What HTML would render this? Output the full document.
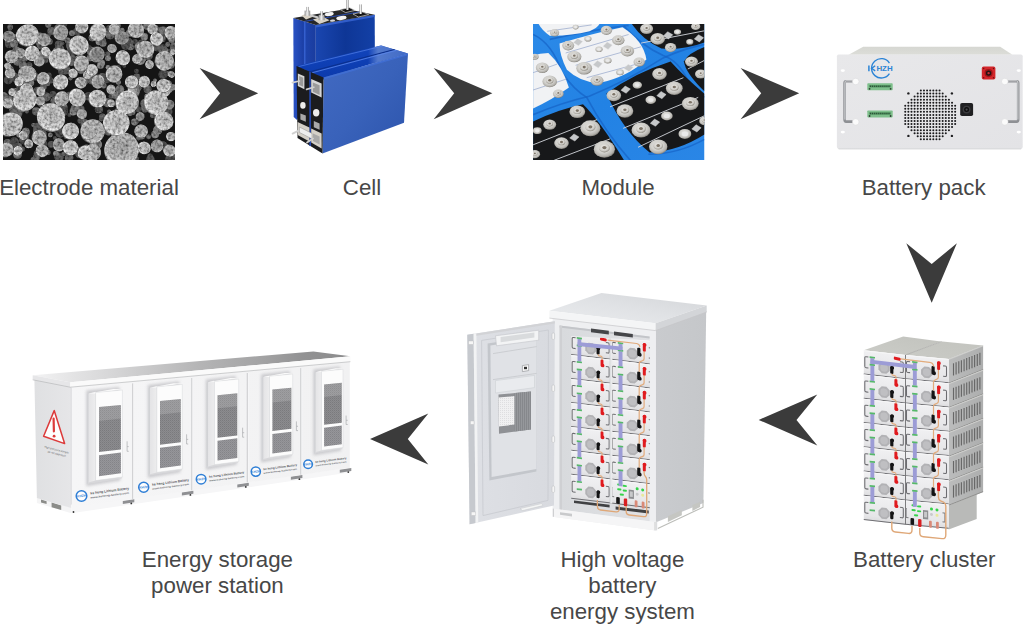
<!DOCTYPE html>
<html lang="en"><head><meta charset="utf-8"><title>Battery energy storage chain</title>
<style>
html,body{margin:0;padding:0;background:#fff;}
body{width:1024px;height:624px;position:relative;overflow:hidden;font-family:"Liberation Sans",sans-serif;}
#art{position:absolute;left:0;top:0;width:1024px;height:624px;display:block;}
.lb{position:absolute;font-size:22.3px;line-height:26px;color:#474747;text-align:center;white-space:nowrap;transform:translateX(-50%);}
</style></head><body>
<svg id="art" width="1024" height="624" viewBox="0 0 1024 624">
<defs>
<clipPath id="cabclip"><path d="M570.6,336 L649.8,340.6 L649.8,522 L570.6,512 Z"/></clipPath>
<linearGradient id="cabSide" x1="0" y1="0" x2="1" y2="0"><stop offset="0" stop-color="#c9cbce"/><stop offset="1" stop-color="#c5c7ca"/></linearGradient>
<linearGradient id="cabIn" x1="0" y1="0" x2="1" y2="0"><stop offset="0" stop-color="#d8dadd"/><stop offset="1" stop-color="#e0e1e4"/></linearGradient>
<linearGradient id="cabTop" x1="0" y1="1" x2="1" y2="0"><stop offset="0" stop-color="#ebedef"/><stop offset="0.5" stop-color="#e0e2e5"/><stop offset="1" stop-color="#d3d5d8"/></linearGradient>
<linearGradient id="cabDoor" x1="0" y1="0" x2="1" y2="0"><stop offset="0" stop-color="#dee0e5"/><stop offset="1" stop-color="#d8dadf"/></linearGradient>
<pattern id="meshL" width="2" height="2" patternUnits="userSpaceOnUse"><rect width="2" height="2" fill="#f0f0f1"/><rect width="1" height="1" fill="#dedee0"/></pattern>
<pattern id="meshD" width="2" height="2" patternUnits="userSpaceOnUse"><rect width="2" height="2" fill="#96989c"/><rect width="1" height="2" fill="#86888c"/></pattern>
<linearGradient id="cellFace" x1="0" y1="0" x2="1" y2="1"><stop offset="0" stop-color="#426ac2"/><stop offset="0.5" stop-color="#3962ba"/><stop offset="1" stop-color="#2c54ac"/></linearGradient>
<linearGradient id="cellBack" x1="0" y1="0" x2="1" y2="0"><stop offset="0" stop-color="#1a46b0"/><stop offset="0.5" stop-color="#0e3696"/><stop offset="1" stop-color="#1340a6"/></linearGradient>
<linearGradient id="cellSide" x1="0" y1="0" x2="1" y2="0"><stop offset="0" stop-color="#2a52c4"/><stop offset="0.45" stop-color="#1b3fa6"/><stop offset="0.5" stop-color="#3560d0"/><stop offset="0.58" stop-color="#1d43ac"/><stop offset="1" stop-color="#1a3c9e"/></linearGradient>
<linearGradient id="cellTop" x1="0" y1="0" x2="0.3" y2="1"><stop offset="0" stop-color="#1648c0"/><stop offset="0.5" stop-color="#0f40b6"/><stop offset="1" stop-color="#0c3aac"/></linearGradient>
<linearGradient id="steel" x1="0" y1="0" x2="1" y2="0"><stop offset="0" stop-color="#8e8e8e"/><stop offset="0.45" stop-color="#f2f2f2"/><stop offset="1" stop-color="#8a8a8a"/></linearGradient>

<linearGradient id="cellTopHi" gradientUnits="userSpaceOnUse" x1="368" y1="0" x2="408" y2="0"><stop offset="0" stop-color="#5a80d0" stop-opacity="0"/><stop offset="0.25" stop-color="#5a80d0" stop-opacity="0.9"/><stop offset="1" stop-color="#4a72c8" stop-opacity="0.85"/></linearGradient>
<linearGradient id="mpFace" x1="0" y1="0" x2="0" y2="1"><stop offset="0" stop-color="#f0f0f2"/><stop offset="0.8" stop-color="#e6e6e8"/><stop offset="1" stop-color="#dcdcde"/></linearGradient>
<linearGradient id="clTop" x1="0" y1="1" x2="1" y2="0"><stop offset="0" stop-color="#cbccc7"/><stop offset="1" stop-color="#c2c3be"/></linearGradient>
<linearGradient id="clTop2" x1="0" y1="1" x2="1" y2="0"><stop offset="0" stop-color="#c9cac5"/><stop offset="1" stop-color="#c3c4bf"/></linearGradient>
<linearGradient id="clSide" x1="0" y1="0" x2="1" y2="0"><stop offset="0" stop-color="#bbbcbc"/><stop offset="1" stop-color="#adaeae"/></linearGradient>
<clipPath id="modclip"><rect x="533" y="24" width="171.5" height="136"/></clipPath>
<linearGradient id="modblue" x1="0" y1="0" x2="1" y2="1"><stop offset="0" stop-color="#2c8ae8"/><stop offset="0.5" stop-color="#2282e4"/><stop offset="1" stop-color="#2a86e6"/></linearGradient>
<radialGradient id="bolt" cx="0.45" cy="0.4" r="0.6"><stop offset="0" stop-color="#e6e5e2"/><stop offset="0.55" stop-color="#d2d1cd"/><stop offset="0.85" stop-color="#b4b2ad"/><stop offset="1" stop-color="#85827b"/></radialGradient>
<radialGradient id="bolt2" cx="0.45" cy="0.4" r="0.6"><stop offset="0" stop-color="#f0efec"/><stop offset="0.7" stop-color="#cfcdc8"/><stop offset="1" stop-color="#8f8b82"/></radialGradient>
<linearGradient id="packTop" x1="0" y1="0" x2="0" y2="1"><stop offset="0" stop-color="#d6d7d2"/><stop offset="1" stop-color="#dcddd8"/></linearGradient>
<linearGradient id="packFront" x1="0" y1="0" x2="1" y2="1"><stop offset="0" stop-color="#e8e8ea"/><stop offset="1" stop-color="#e3e3e6"/></linearGradient>
<clipPath id="semclip"><rect x="3" y="24" width="172" height="136"/></clipPath>
<filter id="semgrain" x="0" y="0" width="100%" height="100%" filterUnits="objectBoundingBox">
<feTurbulence type="fractalNoise" baseFrequency="0.38" numOctaves="2" seed="3" result="n"/>
<feColorMatrix in="n" type="matrix" values="0 0 0 0 0  0 0 0 0 0  0 0 0 0 0  1.5 0 0 0 -0.5" result="a"/>
<feFlood flood-color="#000" result="k"/>
<feComposite in="k" in2="a" operator="in" result="dark"/>
<feComposite in="dark" in2="SourceGraphic" operator="in" result="dk2"/>
<feMerge result="m"><feMergeNode in="SourceGraphic"/><feMergeNode in="dk2"/></feMerge><feGaussianBlur in="m" stdDeviation="0.55"/>
</filter>
<radialGradient id="sp0" cx="0.45" cy="0.42" r="0.58"><stop offset="0" stop-color="rgb(118,118,118)"/><stop offset="0.7" stop-color="rgb(138,138,138)"/><stop offset="0.9" stop-color="rgb(165,165,165)"/><stop offset="1" stop-color="rgb(80,80,80)"/></radialGradient>
<radialGradient id="sp1" cx="0.45" cy="0.42" r="0.58"><stop offset="0" stop-color="rgb(136,136,136)"/><stop offset="0.7" stop-color="rgb(158,158,158)"/><stop offset="0.9" stop-color="rgb(185,185,185)"/><stop offset="1" stop-color="rgb(90,90,90)"/></radialGradient>
<radialGradient id="sp2" cx="0.45" cy="0.42" r="0.58"><stop offset="0" stop-color="rgb(154,154,154)"/><stop offset="0.7" stop-color="rgb(178,178,178)"/><stop offset="0.9" stop-color="rgb(205,205,205)"/><stop offset="1" stop-color="rgb(100,100,100)"/></radialGradient>
<radialGradient id="sp3" cx="0.45" cy="0.42" r="0.58"><stop offset="0" stop-color="rgb(172,172,172)"/><stop offset="0.7" stop-color="rgb(198,198,198)"/><stop offset="0.9" stop-color="rgb(225,225,225)"/><stop offset="1" stop-color="rgb(110,110,110)"/></radialGradient>
<radialGradient id="sp4" cx="0.45" cy="0.42" r="0.58"><stop offset="0" stop-color="rgb(190,190,190)"/><stop offset="0.7" stop-color="rgb(218,218,218)"/><stop offset="0.9" stop-color="rgb(245,245,245)"/><stop offset="1" stop-color="rgb(120,120,120)"/></radialGradient>
<filter id="stBlur" x="-30%" y="-10%" width="160%" height="120%"><feGaussianBlur stdDeviation="1.6"/></filter>
<linearGradient id="stSide" x1="0" y1="0" x2="1" y2="0"><stop offset="0" stop-color="#dfe0e2"/><stop offset="1" stop-color="#e6e6e8"/></linearGradient>
<linearGradient id="stFront" x1="0" y1="0" x2="1" y2="0"><stop offset="0" stop-color="#f6f6f7"/><stop offset="1" stop-color="#f1f1f2"/></linearGradient>
<linearGradient id="stTop" gradientUnits="userSpaceOnUse" x1="33" y1="0" x2="350" y2="0"><stop offset="0" stop-color="#f3f3f4"/><stop offset="0.13" stop-color="#e3e3e4"/><stop offset="0.26" stop-color="#d5d5d6"/><stop offset="0.39" stop-color="#c5c5c6"/><stop offset="0.52" stop-color="#b5b5b6"/><stop offset="0.72" stop-color="#a3a3a4"/><stop offset="0.85" stop-color="#929293"/><stop offset="1" stop-color="#8c8c8d"/></linearGradient>
<linearGradient id="acSide" x1="0" y1="0" x2="1" y2="0"><stop offset="0" stop-color="#e4e4e6"/><stop offset="1" stop-color="#ededee"/></linearGradient>
<pattern id="stMesh" width="2" height="2" patternUnits="userSpaceOnUse"><rect width="2" height="2" fill="#8c8c8f"/><rect width="1" height="1" fill="#7a7a7d"/><rect x="1" y="1" width="1" height="1" fill="#838386"/></pattern>
<pattern id="stMesh2" width="2" height="2" patternUnits="userSpaceOnUse"><rect width="2" height="2" fill="#96969a"/><rect width="1" height="1" fill="#848488"/><rect x="1" y="1" width="1" height="1" fill="#8d8d91"/></pattern>
</defs>
<!-- arrows.svg -->
<g fill="#3b3b3b">
<polygon points="199.6,68 258.2,93.3 199.6,119.2 220.1,93.3"/>
<polygon points="433.7,68 492.4,93.3 433.7,119.2 454.2,93.3"/>
<polygon points="740.6,68 799.2,93.3 740.6,119.2 761.2,93.3"/>
<polygon points="906.3,243.2 931.7,264 956.9,243.2 931.7,302.7"/>
<polygon points="817.3,394.4 758.7,419.9 817.3,445.4 796.5,419.9"/>
<polygon points="428.3,413.5 370,439 428.3,464.6 407.8,439"/>
</g>

<!-- sem.svg -->
<g clip-path="url(#semclip)">
<rect x="3" y="24" width="172" height="136" fill="#151515"/>
<g filter="url(#semgrain)">
<circle cx="58.7" cy="44.5" r="3.9" fill="#626262"/>
<circle cx="144.3" cy="36.8" r="3.7" fill="#929292"/>
<circle cx="39.9" cy="35.7" r="3.1" fill="#747474"/>
<circle cx="18.6" cy="81.7" r="4.4" fill="#626262"/>
<circle cx="166.0" cy="109.8" r="3.7" fill="#626262"/>
<circle cx="102.3" cy="77.9" r="4.9" fill="#626262"/>
<circle cx="98.7" cy="42.1" r="3.1" fill="#929292"/>
<circle cx="23.3" cy="66.0" r="4.4" fill="#747474"/>
<circle cx="20.7" cy="101.7" r="2.4" fill="#626262"/>
<circle cx="97.2" cy="32.5" r="2.0" fill="#747474"/>
<circle cx="88.4" cy="96.3" r="4.3" fill="#545454"/>
<circle cx="103.7" cy="85.6" r="2.8" fill="#747474"/>
<circle cx="123.2" cy="57.2" r="3.6" fill="#929292"/>
<circle cx="88.2" cy="70.7" r="3.2" fill="#929292"/>
<circle cx="171.6" cy="40.1" r="3.1" fill="#838383"/>
<circle cx="29.1" cy="90.5" r="1.9" fill="#6e6e6e"/>
<circle cx="16.4" cy="99.9" r="4.3" fill="#838383"/>
<circle cx="61.5" cy="71.6" r="3.4" fill="#545454"/>
<circle cx="14.8" cy="36.7" r="2.7" fill="#6e6e6e"/>
<circle cx="117.2" cy="32.3" r="4.0" fill="#6e6e6e"/>
<circle cx="102.4" cy="116.6" r="3.2" fill="#6e6e6e"/>
<circle cx="69.4" cy="114.9" r="1.9" fill="#545454"/>
<circle cx="64.1" cy="107.1" r="3.4" fill="#747474"/>
<circle cx="135.1" cy="41.6" r="2.6" fill="#545454"/>
<circle cx="160.7" cy="91.5" r="2.3" fill="#545454"/>
<circle cx="97.5" cy="144.1" r="4.4" fill="#929292"/>
<circle cx="50.9" cy="80.5" r="2.9" fill="#545454"/>
<circle cx="167.7" cy="44.5" r="2.4" fill="#747474"/>
<circle cx="116.3" cy="25.6" r="4.5" fill="#747474"/>
<circle cx="48.2" cy="24.6" r="3.1" fill="#838383"/>
<circle cx="107.9" cy="67.3" r="2.2" fill="#929292"/>
<circle cx="166.4" cy="113.1" r="4.2" fill="#545454"/>
<circle cx="157.7" cy="130.1" r="4.6" fill="#929292"/>
<circle cx="70.5" cy="78.3" r="2.1" fill="#6e6e6e"/>
<circle cx="71.9" cy="49.9" r="5.0" fill="#545454"/>
<circle cx="30.9" cy="70.2" r="2.0" fill="#626262"/>
<circle cx="100.5" cy="97.0" r="4.8" fill="#929292"/>
<circle cx="7.4" cy="142.9" r="3.8" fill="#747474"/>
<circle cx="112.1" cy="153.9" r="3.7" fill="#545454"/>
<circle cx="24.1" cy="139.5" r="5.0" fill="#545454"/>
<circle cx="85.6" cy="66.4" r="2.3" fill="#6e6e6e"/>
<circle cx="61.9" cy="60.0" r="4.5" fill="#747474"/>
<circle cx="91.8" cy="51.9" r="4.8" fill="#838383"/>
<circle cx="28.2" cy="97.9" r="1.9" fill="#929292"/>
<circle cx="54.3" cy="111.4" r="2.1" fill="#838383"/>
<circle cx="92.2" cy="147.5" r="2.9" fill="#747474"/>
<circle cx="94.6" cy="130.0" r="2.9" fill="#747474"/>
<circle cx="108.5" cy="131.2" r="4.2" fill="#747474"/>
<circle cx="141.6" cy="135.3" r="4.2" fill="#747474"/>
<circle cx="37.4" cy="91.0" r="4.1" fill="#626262"/>
<circle cx="138.9" cy="88.2" r="2.4" fill="#929292"/>
<circle cx="167.5" cy="84.8" r="4.8" fill="#838383"/>
<circle cx="167.3" cy="73.6" r="2.5" fill="#747474"/>
<circle cx="83.9" cy="69.9" r="3.3" fill="#929292"/>
<circle cx="147.6" cy="89.2" r="3.9" fill="#6e6e6e"/>
<circle cx="17.6" cy="113.8" r="4.7" fill="#6e6e6e"/>
<circle cx="132.0" cy="89.0" r="2.4" fill="#6e6e6e"/>
<circle cx="60.2" cy="132.9" r="4.9" fill="#545454"/>
<circle cx="82.7" cy="125.1" r="2.1" fill="#747474"/>
<circle cx="32.2" cy="41.3" r="2.3" fill="#545454"/>
<circle cx="141.7" cy="43.9" r="4.4" fill="#545454"/>
<circle cx="116.1" cy="71.7" r="3.6" fill="#747474"/>
<circle cx="6.7" cy="132.7" r="4.1" fill="#626262"/>
<circle cx="93.6" cy="151.0" r="3.2" fill="#747474"/>
<circle cx="145.1" cy="52.7" r="2.6" fill="#838383"/>
<circle cx="89.2" cy="127.9" r="2.8" fill="#929292"/>
<circle cx="75.1" cy="41.8" r="4.7" fill="#838383"/>
<circle cx="157.4" cy="114.1" r="4.4" fill="#929292"/>
<circle cx="75.3" cy="148.8" r="3.4" fill="#929292"/>
<circle cx="29.1" cy="93.4" r="4.6" fill="#747474"/>
<circle cx="107.7" cy="129.5" r="2.3" fill="#747474"/>
<circle cx="84.4" cy="122.6" r="3.6" fill="#838383"/>
<circle cx="120.4" cy="96.2" r="3.3" fill="#626262"/>
<circle cx="154.9" cy="31.7" r="2.4" fill="#626262"/>
<circle cx="135.8" cy="93.0" r="3.6" fill="#626262"/>
<circle cx="79.2" cy="107.3" r="3.4" fill="#929292"/>
<circle cx="37.3" cy="61.7" r="3.4" fill="#545454"/>
<circle cx="90.3" cy="57.7" r="3.5" fill="#838383"/>
<circle cx="161.7" cy="145.4" r="2.4" fill="#545454"/>
<circle cx="26.6" cy="40.5" r="3.2" fill="#626262"/>
<circle cx="118.4" cy="82.3" r="2.5" fill="#838383"/>
<circle cx="137.8" cy="146.0" r="2.3" fill="#6e6e6e"/>
<circle cx="113.7" cy="73.8" r="2.6" fill="#747474"/>
<circle cx="169.4" cy="53.9" r="4.8" fill="#545454"/>
<circle cx="155.2" cy="46.1" r="3.9" fill="#747474"/>
<circle cx="30.8" cy="82.7" r="3.4" fill="#838383"/>
<circle cx="75.5" cy="72.5" r="2.1" fill="#838383"/>
<circle cx="6.4" cy="99.4" r="3.2" fill="#626262"/>
<circle cx="69.1" cy="94.4" r="2.7" fill="#626262"/>
<circle cx="22.4" cy="148.9" r="2.5" fill="#626262"/>
<circle cx="17.5" cy="61.0" r="4.7" fill="#747474"/>
<circle cx="49.5" cy="41.6" r="3.2" fill="#6e6e6e"/>
<circle cx="143.9" cy="59.2" r="2.3" fill="#929292"/>
<circle cx="101.1" cy="119.3" r="2.1" fill="#626262"/>
<circle cx="140.5" cy="48.9" r="4.7" fill="#838383"/>
<circle cx="164.4" cy="110.3" r="4.4" fill="#626262"/>
<circle cx="107.6" cy="54.2" r="2.6" fill="#626262"/>
<circle cx="81.0" cy="70.1" r="3.6" fill="#838383"/>
<circle cx="109.9" cy="29.9" r="4.1" fill="#626262"/>
<circle cx="169.7" cy="59.6" r="2.4" fill="#838383"/>
<circle cx="111.1" cy="96.2" r="2.5" fill="#545454"/>
<circle cx="89.0" cy="48.2" r="2.9" fill="#626262"/>
<circle cx="174.1" cy="29.0" r="1.9" fill="#929292"/>
<circle cx="97.8" cy="49.8" r="3.3" fill="#545454"/>
<circle cx="21.3" cy="135.4" r="3.2" fill="#545454"/>
<circle cx="96.9" cy="144.9" r="4.9" fill="#838383"/>
<circle cx="121.3" cy="157.6" r="2.9" fill="#6e6e6e"/>
<circle cx="128.4" cy="43.0" r="5.0" fill="#626262"/>
<circle cx="147.0" cy="25.9" r="3.8" fill="#838383"/>
<circle cx="77.1" cy="31.5" r="3.9" fill="#545454"/>
<circle cx="152.7" cy="115.2" r="2.7" fill="#747474"/>
<circle cx="122.1" cy="30.2" r="2.4" fill="#838383"/>
<circle cx="79.7" cy="59.8" r="4.9" fill="#929292"/>
<circle cx="58.6" cy="28.7" r="4.6" fill="#747474"/>
<circle cx="64.3" cy="24.1" r="3.0" fill="#545454"/>
<circle cx="51.0" cy="113.2" r="2.6" fill="#626262"/>
<circle cx="18.6" cy="135.1" r="2.3" fill="#929292"/>
<circle cx="10.2" cy="27.1" r="2.8" fill="#747474"/>
<circle cx="17.5" cy="154.2" r="4.5" fill="#747474"/>
<circle cx="116.1" cy="121.4" r="4.6" fill="#545454"/>
<circle cx="134.5" cy="122.0" r="3.4" fill="#838383"/>
<circle cx="127.6" cy="111.5" r="1.9" fill="#6e6e6e"/>
<circle cx="156.4" cy="109.3" r="4.1" fill="#929292"/>
<circle cx="27.0" cy="95.2" r="3.4" fill="#626262"/>
<circle cx="145.1" cy="103.4" r="4.7" fill="#6e6e6e"/>
<circle cx="167.4" cy="111.4" r="2.1" fill="#626262"/>
<circle cx="25.9" cy="73.1" r="2.1" fill="#545454"/>
<circle cx="99.1" cy="109.4" r="3.8" fill="#6e6e6e"/>
<circle cx="45.1" cy="59.9" r="3.3" fill="#626262"/>
<circle cx="131.7" cy="92.4" r="3.5" fill="#6e6e6e"/>
<circle cx="93.5" cy="125.4" r="3.3" fill="#626262"/>
<circle cx="148.5" cy="55.9" r="4.2" fill="#747474"/>
<circle cx="130.3" cy="156.7" r="3.4" fill="#545454"/>
<circle cx="16.2" cy="147.8" r="2.7" fill="#626262"/>
<circle cx="109.1" cy="111.4" r="2.0" fill="#747474"/>
<circle cx="60.1" cy="112.6" r="4.0" fill="#929292"/>
<circle cx="100.7" cy="25.7" r="2.0" fill="#838383"/>
<circle cx="170.3" cy="37.5" r="2.5" fill="#545454"/>
<circle cx="53.0" cy="94.2" r="3.3" fill="#545454"/>
<circle cx="135.0" cy="159.1" r="3.6" fill="#838383"/>
<circle cx="171.2" cy="151.3" r="1.9" fill="#545454"/>
<circle cx="16.2" cy="92.9" r="5.0" fill="#838383"/>
<circle cx="69.5" cy="148.7" r="4.8" fill="#626262"/>
<circle cx="103.0" cy="43.3" r="3.5" fill="#838383"/>
<circle cx="25.8" cy="135.5" r="3.4" fill="#626262"/>
<circle cx="124.0" cy="55.5" r="4.7" fill="#545454"/>
<circle cx="70.8" cy="45.6" r="4.8" fill="#6e6e6e"/>
<circle cx="80.5" cy="65.1" r="2.3" fill="#838383"/>
<circle cx="67.7" cy="40.4" r="2.9" fill="#838383"/>
<circle cx="132.1" cy="138.1" r="2.2" fill="#747474"/>
<circle cx="125.6" cy="146.6" r="2.7" fill="#838383"/>
<circle cx="14.2" cy="77.1" r="4.6" fill="#626262"/>
<circle cx="65.0" cy="82.2" r="2.7" fill="#626262"/>
<circle cx="51.3" cy="31.0" r="3.9" fill="#6e6e6e"/>
<circle cx="163.9" cy="57.9" r="2.7" fill="#929292"/>
<circle cx="57.3" cy="129.2" r="4.3" fill="#545454"/>
<circle cx="155.1" cy="134.4" r="3.8" fill="#929292"/>
<circle cx="97.5" cy="121.9" r="2.0" fill="#6e6e6e"/>
<circle cx="73.7" cy="107.6" r="2.2" fill="#838383"/>
<circle cx="86.5" cy="148.0" r="3.6" fill="#747474"/>
<circle cx="84.2" cy="70.7" r="2.8" fill="#6e6e6e"/>
<circle cx="130.1" cy="112.8" r="3.1" fill="#747474"/>
<circle cx="54.7" cy="99.8" r="3.1" fill="#747474"/>
<circle cx="113.6" cy="34.2" r="3.4" fill="#545454"/>
<circle cx="97.7" cy="85.6" r="2.9" fill="#545454"/>
<circle cx="76.5" cy="98.5" r="2.6" fill="#747474"/>
<circle cx="61.8" cy="36.4" r="2.6" fill="#838383"/>
<circle cx="142.2" cy="51.5" r="1.9" fill="#545454"/>
<circle cx="68.8" cy="125.4" r="2.5" fill="#838383"/>
<circle cx="61.2" cy="32.4" r="2.7" fill="#838383"/>
<circle cx="24.7" cy="92.5" r="3.8" fill="#747474"/>
<circle cx="18.9" cy="146.0" r="3.0" fill="#6e6e6e"/>
<circle cx="79.7" cy="153.7" r="4.5" fill="#626262"/>
<circle cx="24.9" cy="81.8" r="4.2" fill="#545454"/>
<circle cx="169.5" cy="90.6" r="2.0" fill="#929292"/>
<circle cx="150.1" cy="156.2" r="2.6" fill="#626262"/>
<circle cx="41.5" cy="44.7" r="4.9" fill="#626262"/>
<circle cx="164.9" cy="122.2" r="3.9" fill="#545454"/>
<circle cx="17.6" cy="129.7" r="1.8" fill="#747474"/>
<circle cx="43.0" cy="149.1" r="3.9" fill="#838383"/>
<circle cx="168.5" cy="109.2" r="3.5" fill="#545454"/>
<circle cx="123.2" cy="39.3" r="2.0" fill="#929292"/>
<circle cx="165.3" cy="50.1" r="2.6" fill="#929292"/>
<circle cx="3.2" cy="97.1" r="5.0" fill="#838383"/>
<circle cx="167.9" cy="111.7" r="4.6" fill="#545454"/>
<circle cx="93.5" cy="98.4" r="1.9" fill="#545454"/>
<circle cx="124.2" cy="65.8" r="1.9" fill="#545454"/>
<circle cx="155.2" cy="112.0" r="2.1" fill="#747474"/>
<circle cx="117.8" cy="149.8" r="2.5" fill="#626262"/>
<circle cx="122.7" cy="121.7" r="3.0" fill="#545454"/>
<circle cx="37.1" cy="132.4" r="4.2" fill="#929292"/>
<circle cx="14.6" cy="91.4" r="2.4" fill="#747474"/>
<circle cx="42.7" cy="54.1" r="4.2" fill="#838383"/>
<circle cx="21.7" cy="108.8" r="3.8" fill="#747474"/>
<circle cx="86.4" cy="147.8" r="2.0" fill="#929292"/>
<circle cx="28.2" cy="77.5" r="2.5" fill="#929292"/>
<circle cx="27.4" cy="31.1" r="2.0" fill="#545454"/>
<circle cx="80.3" cy="120.8" r="2.8" fill="#626262"/>
<circle cx="174.6" cy="150.7" r="2.9" fill="#747474"/>
<circle cx="115.2" cy="95.4" r="3.3" fill="#838383"/>
<circle cx="117.3" cy="75.5" r="3.0" fill="#838383"/>
<circle cx="79.1" cy="38.8" r="2.1" fill="#626262"/>
<circle cx="63.5" cy="154.0" r="2.2" fill="#747474"/>
<circle cx="68.4" cy="128.5" r="2.8" fill="#545454"/>
<circle cx="18.1" cy="119.9" r="2.4" fill="#929292"/>
<circle cx="161.2" cy="50.3" r="3.0" fill="#545454"/>
<circle cx="8.2" cy="79.9" r="4.4" fill="#545454"/>
<circle cx="10.0" cy="28.7" r="2.0" fill="#626262"/>
<circle cx="47.2" cy="125.6" r="4.7" fill="#838383"/>
<circle cx="65.4" cy="69.6" r="4.9" fill="#626262"/>
<circle cx="48.1" cy="121.5" r="2.8" fill="#838383"/>
<circle cx="54.2" cy="122.1" r="3.7" fill="#6e6e6e"/>
<circle cx="165.8" cy="32.9" r="4.4" fill="#626262"/>
<circle cx="84.7" cy="154.1" r="4.9" fill="#545454"/>
<circle cx="138.8" cy="148.2" r="4.4" fill="#747474"/>
<circle cx="162.6" cy="48.9" r="4.4" fill="#6e6e6e"/>
<circle cx="55.2" cy="118.1" r="2.3" fill="#747474"/>
<circle cx="59.4" cy="67.5" r="3.0" fill="#929292"/>
<circle cx="16.6" cy="50.8" r="4.2" fill="#747474"/>
<circle cx="73.1" cy="112.3" r="3.3" fill="#929292"/>
<circle cx="59.0" cy="157.3" r="4.6" fill="#626262"/>
<circle cx="48.6" cy="35.4" r="2.1" fill="#545454"/>
<circle cx="173.0" cy="156.2" r="2.4" fill="#747474"/>
<circle cx="74.7" cy="108.4" r="4.0" fill="#6e6e6e"/>
<circle cx="95.6" cy="129.2" r="4.2" fill="#838383"/>
<circle cx="53.5" cy="101.1" r="3.0" fill="#6e6e6e"/>
<circle cx="47.8" cy="83.8" r="2.4" fill="#747474"/>
<circle cx="29.4" cy="144.2" r="3.7" fill="#838383"/>
<circle cx="14.1" cy="58.2" r="2.6" fill="#929292"/>
<circle cx="42.8" cy="133.9" r="3.9" fill="#626262"/>
<circle cx="20.6" cy="88.6" r="4.4" fill="#545454"/>
<circle cx="160.3" cy="29.5" r="2.7" fill="#626262"/>
<circle cx="11.7" cy="105.7" r="4.4" fill="#747474"/>
<circle cx="163.0" cy="74.6" r="4.6" fill="#545454"/>
<circle cx="106.7" cy="129.4" r="3.9" fill="#626262"/>
<circle cx="21.2" cy="105.1" r="3.8" fill="#747474"/>
<circle cx="9.4" cy="70.2" r="1.9" fill="#838383"/>
<circle cx="9.6" cy="123.6" r="4.7" fill="#626262"/>
<circle cx="143.8" cy="79.6" r="3.0" fill="#929292"/>
<circle cx="56.7" cy="51.7" r="4.3" fill="#929292"/>
<circle cx="86.2" cy="79.5" r="4.3" fill="#6e6e6e"/>
<circle cx="97.6" cy="110.9" r="2.1" fill="#747474"/>
<circle cx="71.4" cy="60.9" r="5.0" fill="#6e6e6e"/>
<circle cx="55.9" cy="153.6" r="2.8" fill="#929292"/>
<circle cx="155.0" cy="80.3" r="1.9" fill="#838383"/>
<circle cx="113.9" cy="77.1" r="3.1" fill="#626262"/>
<circle cx="77.7" cy="45.3" r="2.2" fill="#626262"/>
<circle cx="72.9" cy="144.1" r="3.3" fill="#747474"/>
<circle cx="25.4" cy="31.0" r="2.3" fill="#545454"/>
<circle cx="18.3" cy="108.6" r="3.0" fill="#929292"/>
<circle cx="32.5" cy="71.3" r="2.3" fill="#747474"/>
<circle cx="162.2" cy="38.8" r="3.4" fill="#747474"/>
<circle cx="54.9" cy="137.9" r="1.9" fill="#545454"/>
<circle cx="57.1" cy="106.6" r="3.8" fill="#626262"/>
<circle cx="158.5" cy="108.4" r="4.4" fill="#747474"/>
<circle cx="113.1" cy="140.5" r="3.8" fill="#929292"/>
<circle cx="148.6" cy="136.8" r="2.4" fill="#747474"/>
<circle cx="10.2" cy="151.6" r="2.3" fill="#838383"/>
<circle cx="24.2" cy="57.6" r="4.1" fill="#747474"/>
<circle cx="10.1" cy="100.5" r="4.2" fill="#626262"/>
<circle cx="117.9" cy="68.1" r="3.0" fill="#545454"/>
<circle cx="97.6" cy="109.3" r="2.8" fill="#545454"/>
<circle cx="56.0" cy="57.9" r="3.0" fill="#838383"/>
<circle cx="79.8" cy="83.6" r="1.9" fill="#929292"/>
<circle cx="172.6" cy="87.3" r="3.2" fill="#929292"/>
<circle cx="137.2" cy="86.3" r="2.4" fill="#545454"/>
<circle cx="71.9" cy="33.1" r="2.9" fill="#838383"/>
<circle cx="18.8" cy="84.1" r="3.4" fill="#626262"/>
<circle cx="10.0" cy="41.7" r="4.8" fill="#838383"/>
<circle cx="136.8" cy="93.6" r="2.0" fill="#929292"/>
<circle cx="156.9" cy="112.8" r="4.3" fill="#626262"/>
<circle cx="150.4" cy="159.5" r="4.1" fill="#626262"/>
<circle cx="36.3" cy="157.5" r="3.4" fill="#747474"/>
<circle cx="121.0" cy="122.1" r="2.5" fill="#838383"/>
<circle cx="108.0" cy="58.3" r="2.8" fill="#929292"/>
<circle cx="50.3" cy="134.9" r="2.3" fill="#929292"/>
<circle cx="168.9" cy="89.3" r="3.7" fill="#929292"/>
<circle cx="90.0" cy="67.4" r="1.9" fill="#747474"/>
<circle cx="72.4" cy="110.6" r="2.7" fill="#838383"/>
<circle cx="157.0" cy="46.9" r="4.3" fill="#626262"/>
<circle cx="135.1" cy="30.6" r="4.5" fill="#545454"/>
<circle cx="98.5" cy="102.9" r="4.6" fill="#626262"/>
<circle cx="46.3" cy="96.9" r="4.5" fill="#6e6e6e"/>
<circle cx="140.2" cy="60.0" r="5.0" fill="#929292"/>
<circle cx="28.1" cy="69.0" r="2.1" fill="#747474"/>
<circle cx="33.4" cy="125.1" r="2.0" fill="#929292"/>
<circle cx="46.6" cy="110.9" r="4.9" fill="#929292"/>
<circle cx="162.7" cy="145.8" r="4.1" fill="#6e6e6e"/>
<circle cx="8.8" cy="44.3" r="3.8" fill="#545454"/>
<circle cx="74.8" cy="73.5" r="2.0" fill="#545454"/>
<circle cx="42.1" cy="112.8" r="1.9" fill="#626262"/>
<circle cx="100.5" cy="65.3" r="3.5" fill="#929292"/>
<circle cx="41.6" cy="103.4" r="3.7" fill="#747474"/>
<circle cx="66.0" cy="136.7" r="2.3" fill="#626262"/>
<circle cx="164.1" cy="57.1" r="2.3" fill="#626262"/>
<circle cx="14.0" cy="43.7" r="3.9" fill="#838383"/>
<circle cx="72.1" cy="59.9" r="1.8" fill="#6e6e6e"/>
<circle cx="144.2" cy="145.4" r="3.7" fill="#929292"/>
<circle cx="79.3" cy="151.5" r="4.1" fill="#747474"/>
<circle cx="31.4" cy="24.1" r="2.0" fill="#626262"/>
<circle cx="72.8" cy="56.3" r="2.0" fill="#626262"/>
<circle cx="5.1" cy="98.9" r="4.8" fill="#747474"/>
<circle cx="74.1" cy="94.5" r="3.9" fill="#6e6e6e"/>
<circle cx="113.4" cy="134.6" r="2.4" fill="#838383"/>
<circle cx="14.0" cy="109.1" r="5.0" fill="#6e6e6e"/>
<circle cx="137.7" cy="121.3" r="1.8" fill="#545454"/>
<circle cx="131.2" cy="87.3" r="4.2" fill="#545454"/>
<circle cx="33.2" cy="159.5" r="2.6" fill="#6e6e6e"/>
<circle cx="9.7" cy="69.6" r="4.2" fill="#6e6e6e"/>
<circle cx="165.2" cy="59.8" r="2.0" fill="#6e6e6e"/>
<circle cx="98.3" cy="83.3" r="4.3" fill="#929292"/>
<circle cx="170.2" cy="64.2" r="4.8" fill="#747474"/>
<circle cx="17.7" cy="93.0" r="2.3" fill="#747474"/>
<circle cx="147.8" cy="51.6" r="2.3" fill="#838383"/>
<circle cx="36.0" cy="76.9" r="3.7" fill="#545454"/>
<circle cx="159.1" cy="109.8" r="4.0" fill="#6e6e6e"/>
<circle cx="147.7" cy="96.9" r="3.3" fill="#929292"/>
<circle cx="123.0" cy="140.6" r="3.2" fill="#6e6e6e"/>
<circle cx="43.2" cy="144.3" r="4.3" fill="#545454"/>
<circle cx="110.1" cy="34.6" r="4.7" fill="#747474"/>
<circle cx="8.7" cy="39.2" r="3.8" fill="#747474"/>
<circle cx="62.3" cy="43.3" r="1.9" fill="#626262"/>
<circle cx="26.8" cy="111.5" r="1.9" fill="#626262"/>
<circle cx="129.7" cy="32.9" r="3.7" fill="#838383"/>
<circle cx="37.3" cy="153.8" r="3.5" fill="#6e6e6e"/>
<circle cx="14.3" cy="142.0" r="4.7" fill="#545454"/>
<circle cx="21.4" cy="52.0" r="2.2" fill="#626262"/>
<circle cx="166.3" cy="147.9" r="4.2" fill="#626262"/>
<circle cx="144.9" cy="109.9" r="2.7" fill="#626262"/>
<circle cx="25.8" cy="131.7" r="3.9" fill="#838383"/>
<circle cx="57.9" cy="81.6" r="1.9" fill="#838383"/>
<circle cx="163.0" cy="30.6" r="4.2" fill="#838383"/>
<circle cx="135.3" cy="105.9" r="3.3" fill="#838383"/>
<circle cx="109.3" cy="28.2" r="3.1" fill="#545454"/>
<circle cx="92.2" cy="37.4" r="3.3" fill="#626262"/>
<circle cx="95.5" cy="53.5" r="4.6" fill="#626262"/>
<circle cx="101.8" cy="63.0" r="3.2" fill="#929292"/>
<circle cx="37.8" cy="127.7" r="4.9" fill="#626262"/>
<circle cx="62.8" cy="37.0" r="4.0" fill="#747474"/>
<circle cx="169.4" cy="104.6" r="4.9" fill="#929292"/>
<circle cx="47.8" cy="152.4" r="2.7" fill="#747474"/>
<circle cx="164.4" cy="55.5" r="2.3" fill="#6e6e6e"/>
<circle cx="134.9" cy="90.7" r="5.0" fill="#929292"/>
<circle cx="138.4" cy="109.4" r="2.9" fill="#545454"/>
<circle cx="162.7" cy="145.3" r="4.2" fill="#545454"/>
<circle cx="155.8" cy="27.4" r="2.5" fill="#838383"/>
<circle cx="76.6" cy="98.1" r="2.3" fill="#6e6e6e"/>
<circle cx="43.2" cy="86.7" r="3.5" fill="#6e6e6e"/>
<circle cx="132.5" cy="111.9" r="2.9" fill="#838383"/>
<circle cx="92.7" cy="142.0" r="3.2" fill="#929292"/>
<circle cx="130.6" cy="47.1" r="3.2" fill="#838383"/>
<circle cx="102.6" cy="41.1" r="3.3" fill="#6e6e6e"/>
<circle cx="43.9" cy="50.1" r="2.8" fill="#6e6e6e"/>
<circle cx="145.2" cy="108.0" r="4.1" fill="#747474"/>
<circle cx="127.4" cy="106.0" r="2.9" fill="#747474"/>
<circle cx="59.4" cy="49.7" r="4.9" fill="#6e6e6e"/>
<circle cx="174.1" cy="46.4" r="3.9" fill="#747474"/>
<circle cx="69.1" cy="157.8" r="4.3" fill="#6e6e6e"/>
<circle cx="54.2" cy="61.2" r="2.1" fill="#626262"/>
<circle cx="51.3" cy="144.4" r="3.3" fill="#626262"/>
<circle cx="71.6" cy="131.6" r="4.0" fill="#929292"/>
<circle cx="171.7" cy="64.3" r="1.9" fill="#838383"/>
<circle cx="106.8" cy="79.0" r="4.2" fill="#545454"/>
<circle cx="123.6" cy="103.9" r="3.9" fill="#747474"/>
<circle cx="117.9" cy="112.7" r="4.6" fill="#6e6e6e"/>
<circle cx="123.4" cy="139.9" r="4.0" fill="#6e6e6e"/>
<circle cx="24.4" cy="82.8" r="2.6" fill="#6e6e6e"/>
<circle cx="19.8" cy="81.1" r="4.3" fill="#6e6e6e"/>
<circle cx="125.6" cy="45.3" r="4.5" fill="#545454"/>
<circle cx="81.3" cy="108.5" r="3.1" fill="#6e6e6e"/>
<circle cx="116.7" cy="142.7" r="4.7" fill="#838383"/>
<circle cx="136.8" cy="76.9" r="3.4" fill="#626262"/>
<circle cx="9.6" cy="97.9" r="2.3" fill="#747474"/>
<circle cx="92.3" cy="37.7" r="3.6" fill="#929292"/>
<circle cx="38.3" cy="88.7" r="1.9" fill="#838383"/>
<circle cx="92.7" cy="79.8" r="4.8" fill="#747474"/>
<circle cx="173.3" cy="49.0" r="3.4" fill="#626262"/>
<circle cx="128.4" cy="107.5" r="3.8" fill="#838383"/>
<circle cx="50.2" cy="78.4" r="1.8" fill="#545454"/>
<circle cx="160.5" cy="109.5" r="4.0" fill="#929292"/>
<circle cx="48.6" cy="54.5" r="4.2" fill="#929292"/>
<circle cx="170.1" cy="159.2" r="4.9" fill="#545454"/>
<circle cx="39.5" cy="41.6" r="4.3" fill="#6e6e6e"/>
<circle cx="36.2" cy="111.3" r="4.1" fill="#747474"/>
<circle cx="63.7" cy="110.9" r="4.4" fill="#545454"/>
<circle cx="83.5" cy="64.0" r="3.6" fill="#747474"/>
<circle cx="137.1" cy="87.8" r="4.3" fill="#747474"/>
<circle cx="49.0" cy="75.2" r="2.6" fill="#545454"/>
<circle cx="119.8" cy="89.5" r="4.4" fill="#838383"/>
<circle cx="64.6" cy="113.0" r="2.8" fill="#545454"/>
<circle cx="76.7" cy="110.7" r="3.9" fill="#838383"/>
<circle cx="29.3" cy="65.2" r="3.0" fill="#626262"/>
<circle cx="145.4" cy="147.2" r="4.3" fill="#747474"/>
<circle cx="94.3" cy="70.9" r="3.7" fill="#6e6e6e"/>
<circle cx="5.0" cy="153.4" r="3.9" fill="#838383"/>
<circle cx="107.6" cy="102.7" r="4.5" fill="#747474"/>
<circle cx="136.5" cy="71.1" r="2.3" fill="#545454"/>
<circle cx="139.2" cy="46.8" r="4.7" fill="#929292"/>
<circle cx="171.1" cy="36.3" r="4.7" fill="#929292"/>
<circle cx="138.5" cy="138.1" r="2.4" fill="#6e6e6e"/>
<ellipse cx="140.0" cy="116.5" rx="4.5" ry="4.4" transform="rotate(151 140.0 116.5)" fill="url(#sp1)"/>
<ellipse cx="8.9" cy="36.6" rx="6.1" ry="5.7" transform="rotate(21 8.9 36.6)" fill="url(#sp1)"/>
<ellipse cx="121.6" cy="37.8" rx="6.9" ry="7.2" transform="rotate(85 121.6 37.8)" fill="url(#sp1)"/>
<ellipse cx="96.7" cy="54.4" rx="8.0" ry="7.9" transform="rotate(163 96.7 54.4)" fill="url(#sp1)"/>
<ellipse cx="112.0" cy="48.5" rx="4.8" ry="4.5" transform="rotate(30 112.0 48.5)" fill="url(#sp2)"/>
<ellipse cx="40.3" cy="101.0" rx="4.7" ry="4.8" transform="rotate(29 40.3 101.0)" fill="url(#sp2)"/>
<ellipse cx="39.0" cy="61.5" rx="5.1" ry="5.4" transform="rotate(90 39.0 61.5)" fill="url(#sp2)"/>
<ellipse cx="81.8" cy="114.0" rx="5.1" ry="5.2" transform="rotate(77 81.8 114.0)" fill="url(#sp2)"/>
<ellipse cx="43.9" cy="40.0" rx="6.8" ry="6.6" transform="rotate(32 43.9 40.0)" fill="url(#sp2)"/>
<ellipse cx="157.1" cy="146.1" rx="6.3" ry="6.5" transform="rotate(4 157.1 146.1)" fill="url(#sp2)"/>
<ellipse cx="97.9" cy="81.6" rx="6.5" ry="7.1" transform="rotate(180 97.9 81.6)" fill="url(#sp2)"/>
<ellipse cx="58.7" cy="144.9" rx="6.7" ry="6.1" transform="rotate(87 58.7 144.9)" fill="url(#sp2)"/>
<ellipse cx="171.4" cy="74.5" rx="3.6" ry="3.3" transform="rotate(38 171.4 74.5)" fill="url(#sp2)"/>
<ellipse cx="20.7" cy="53.2" rx="5.2" ry="5.0" transform="rotate(17 20.7 53.2)" fill="url(#sp2)"/>
<ellipse cx="60.5" cy="32.4" rx="7.8" ry="7.5" transform="rotate(140 60.5 32.4)" fill="url(#sp2)"/>
<ellipse cx="121.6" cy="149.6" rx="16.9" ry="17.7" transform="rotate(51 121.6 149.6)" fill="url(#sp3)"/>
<ellipse cx="173.0" cy="52.0" rx="2.9" ry="2.9" transform="rotate(9 173.0 52.0)" fill="url(#sp3)"/>
<ellipse cx="110.9" cy="103.4" rx="3.9" ry="3.9" transform="rotate(89 110.9 103.4)" fill="url(#sp3)"/>
<ellipse cx="110.9" cy="89.4" rx="4.6" ry="4.9" transform="rotate(157 110.9 89.4)" fill="url(#sp3)"/>
<ellipse cx="23.1" cy="135.4" rx="4.6" ry="4.5" transform="rotate(89 23.1 135.4)" fill="url(#sp3)"/>
<ellipse cx="28.5" cy="143.7" rx="4.4" ry="4.5" transform="rotate(128 28.5 143.7)" fill="url(#sp3)"/>
<ellipse cx="40.9" cy="91.6" rx="4.4" ry="4.9" transform="rotate(16 40.9 91.6)" fill="url(#sp3)"/>
<ellipse cx="132.2" cy="90.4" rx="4.9" ry="4.6" transform="rotate(100 132.2 90.4)" fill="url(#sp3)"/>
<ellipse cx="10.0" cy="73.3" rx="5.2" ry="5.3" transform="rotate(72 10.0 73.3)" fill="url(#sp3)"/>
<ellipse cx="113.9" cy="28.9" rx="5.7" ry="5.6" transform="rotate(148 113.9 28.9)" fill="url(#sp3)"/>
<ellipse cx="43.3" cy="78.7" rx="6.4" ry="6.6" transform="rotate(11 43.3 78.7)" fill="url(#sp3)"/>
<ellipse cx="42.1" cy="150.8" rx="6.4" ry="6.5" transform="rotate(68 42.1 150.8)" fill="url(#sp3)"/>
<ellipse cx="39.1" cy="137.8" rx="7.3" ry="7.8" transform="rotate(124 39.1 137.8)" fill="url(#sp3)"/>
<ellipse cx="27.3" cy="74.0" rx="9.2" ry="8.4" transform="rotate(7 27.3 74.0)" fill="url(#sp3)"/>
<ellipse cx="145.3" cy="49.6" rx="9.0" ry="8.9" transform="rotate(31 145.3 49.6)" fill="url(#sp3)"/>
<ellipse cx="92.5" cy="131.3" rx="12.0" ry="12.3" transform="rotate(76 92.5 131.3)" fill="url(#sp3)"/>
<ellipse cx="153.6" cy="84.0" rx="2.8" ry="3.1" transform="rotate(2 153.6 84.0)" fill="url(#sp3)"/>
<ellipse cx="7.7" cy="66.2" rx="3.6" ry="3.3" transform="rotate(56 7.7 66.2)" fill="url(#sp3)"/>
<ellipse cx="137.0" cy="59.1" rx="4.8" ry="4.9" transform="rotate(33 137.0 59.1)" fill="url(#sp3)"/>
<ellipse cx="149.4" cy="64.5" rx="4.4" ry="4.4" transform="rotate(102 149.4 64.5)" fill="url(#sp3)"/>
<ellipse cx="170.8" cy="136.6" rx="4.7" ry="4.9" transform="rotate(90 170.8 136.6)" fill="url(#sp3)"/>
<ellipse cx="152.4" cy="28.9" rx="5.3" ry="5.5" transform="rotate(139 152.4 28.9)" fill="url(#sp3)"/>
<ellipse cx="7.7" cy="103.4" rx="5.2" ry="5.4" transform="rotate(73 7.7 103.4)" fill="url(#sp3)"/>
<ellipse cx="80.6" cy="82.8" rx="5.6" ry="6.1" transform="rotate(107 80.6 82.8)" fill="url(#sp3)"/>
<ellipse cx="169.6" cy="150.8" rx="6.3" ry="6.1" transform="rotate(28 169.6 150.8)" fill="url(#sp3)"/>
<ellipse cx="81.8" cy="27.0" rx="6.6" ry="6.5" transform="rotate(15 81.8 27.0)" fill="url(#sp3)"/>
<ellipse cx="11.3" cy="56.8" rx="6.4" ry="6.7" transform="rotate(113 11.3 56.8)" fill="url(#sp3)"/>
<ellipse cx="170.2" cy="32.4" rx="6.4" ry="6.1" transform="rotate(120 170.2 32.4)" fill="url(#sp3)"/>
<ellipse cx="141.1" cy="131.3" rx="6.8" ry="6.7" transform="rotate(39 141.1 131.3)" fill="url(#sp3)"/>
<ellipse cx="164.2" cy="91.0" rx="6.1" ry="6.4" transform="rotate(50 164.2 91.0)" fill="url(#sp3)"/>
<ellipse cx="6.5" cy="149.6" rx="7.0" ry="6.9" transform="rotate(134 6.5 149.6)" fill="url(#sp3)"/>
<ellipse cx="81.2" cy="63.3" rx="8.0" ry="7.5" transform="rotate(135 81.2 63.3)" fill="url(#sp3)"/>
<ellipse cx="61.6" cy="98.7" rx="7.8" ry="7.3" transform="rotate(137 61.6 98.7)" fill="url(#sp3)"/>
<ellipse cx="135.8" cy="30.0" rx="8.0" ry="8.3" transform="rotate(90 135.8 30.0)" fill="url(#sp3)"/>
<ellipse cx="113.9" cy="73.9" rx="8.4" ry="8.6" transform="rotate(164 113.9 73.9)" fill="url(#sp3)"/>
<ellipse cx="88.9" cy="131.9" rx="7.8" ry="7.8" transform="rotate(11 88.9 131.9)" fill="url(#sp3)"/>
<ellipse cx="92.5" cy="152.6" rx="8.6" ry="8.4" transform="rotate(111 92.5 152.6)" fill="url(#sp3)"/>
<ellipse cx="164.2" cy="60.9" rx="9.8" ry="9.7" transform="rotate(108 164.2 60.9)" fill="url(#sp3)"/>
<ellipse cx="11.9" cy="92.1" rx="3.7" ry="3.6" transform="rotate(110 11.9 92.1)" fill="url(#sp4)"/>
<ellipse cx="72.9" cy="73.3" rx="4.5" ry="4.9" transform="rotate(131 72.9 73.3)" fill="url(#sp4)"/>
<ellipse cx="87.7" cy="74.5" rx="4.6" ry="4.5" transform="rotate(174 87.7 74.5)" fill="url(#sp4)"/>
<ellipse cx="19.0" cy="81.6" rx="4.4" ry="4.9" transform="rotate(30 19.0 81.6)" fill="url(#sp4)"/>
<ellipse cx="17.8" cy="150.8" rx="4.8" ry="4.6" transform="rotate(140 17.8 150.8)" fill="url(#sp4)"/>
<ellipse cx="144.1" cy="81.6" rx="5.9" ry="5.8" transform="rotate(136 144.1 81.6)" fill="url(#sp4)"/>
<ellipse cx="91.9" cy="69.8" rx="5.8" ry="5.8" transform="rotate(112 91.9 69.8)" fill="url(#sp4)"/>
<ellipse cx="156.5" cy="39.0" rx="6.6" ry="6.7" transform="rotate(108 156.5 39.0)" fill="url(#sp4)"/>
<ellipse cx="131.6" cy="82.2" rx="6.7" ry="6.6" transform="rotate(3 131.6 82.2)" fill="url(#sp4)"/>
<ellipse cx="144.1" cy="147.9" rx="6.2" ry="6.7" transform="rotate(105 144.1 147.9)" fill="url(#sp4)"/>
<ellipse cx="26.7" cy="90.5" rx="7.3" ry="6.7" transform="rotate(70 26.7 90.5)" fill="url(#sp4)"/>
<ellipse cx="60.5" cy="82.2" rx="7.5" ry="7.9" transform="rotate(42 60.5 82.2)" fill="url(#sp4)"/>
<ellipse cx="70.5" cy="147.9" rx="7.6" ry="7.8" transform="rotate(58 70.5 147.9)" fill="url(#sp4)"/>
<ellipse cx="84.8" cy="152.6" rx="7.4" ry="7.3" transform="rotate(166 84.8 152.6)" fill="url(#sp4)"/>
<ellipse cx="70.5" cy="131.3" rx="8.5" ry="8.5" transform="rotate(52 70.5 131.3)" fill="url(#sp4)"/>
<ellipse cx="97.9" cy="31.9" rx="8.4" ry="9.2" transform="rotate(179 97.9 31.9)" fill="url(#sp4)"/>
<ellipse cx="77.0" cy="97.5" rx="8.4" ry="9.3" transform="rotate(144 77.0 97.5)" fill="url(#sp4)"/>
<ellipse cx="97.3" cy="98.7" rx="8.9" ry="9.1" transform="rotate(90 97.3 98.7)" fill="url(#sp4)"/>
<ellipse cx="155.9" cy="102.8" rx="12.3" ry="12.3" transform="rotate(87 155.9 102.8)" fill="url(#sp4)"/>
<ellipse cx="45.6" cy="51.4" rx="4.6" ry="4.8" transform="rotate(130 45.6 51.4)" fill="url(#sp4)"/>
<ellipse cx="163.7" cy="85.8" rx="7.3" ry="6.8" transform="rotate(10 163.7 85.8)" fill="url(#sp4)"/>
<ellipse cx="32.0" cy="53.2" rx="7.5" ry="7.8" transform="rotate(167 32.0 53.2)" fill="url(#sp4)"/>
<ellipse cx="122.8" cy="57.9" rx="7.7" ry="7.2" transform="rotate(69 122.8 57.9)" fill="url(#sp4)"/>
<ellipse cx="78.8" cy="45.5" rx="9.9" ry="9.9" transform="rotate(64 78.8 45.5)" fill="url(#sp4)"/>
<ellipse cx="163.7" cy="121.2" rx="9.4" ry="9.8" transform="rotate(94 163.7 121.2)" fill="url(#sp4)"/>
<ellipse cx="27.3" cy="35.4" rx="10.9" ry="11.6" transform="rotate(58 27.3 35.4)" fill="url(#sp4)"/>
<ellipse cx="59.9" cy="59.1" rx="11.2" ry="10.8" transform="rotate(38 59.9 59.1)" fill="url(#sp4)"/>
<ellipse cx="24.9" cy="99.9" rx="11.2" ry="12.2" transform="rotate(52 24.9 99.9)" fill="url(#sp4)"/>
<ellipse cx="126.9" cy="102.2" rx="11.9" ry="11.6" transform="rotate(140 126.9 102.2)" fill="url(#sp4)"/>
<ellipse cx="10.0" cy="124.2" rx="12.8" ry="11.9" transform="rotate(166 10.0 124.2)" fill="url(#sp4)"/>
<ellipse cx="116.2" cy="123.0" rx="12.9" ry="13.4" transform="rotate(67 116.2 123.0)" fill="url(#sp4)"/>
<ellipse cx="51.0" cy="117.6" rx="14.6" ry="13.9" transform="rotate(57 51.0 117.6)" fill="url(#sp4)"/>
</g></g>
<!-- cell.svg -->
<g>
<!-- back upright cells -->
<path d="M293.3,17.9 L315.8,25 L315.8,82 L297,120 L293.7,117 Z" fill="url(#cellSide)"/>
<path d="M315.8,25 L374.7,14.7 L374.9,62 L315.8,82 Z" fill="url(#cellBack)"/>
<path d="M315.8,25 L374.7,14.7 L374.7,17 L315.8,27.6 Z" fill="#3a66d6" opacity="0.8"/>
<path d="M293.3,17.9 L315.8,25 L374.7,14.7 L346.5,9 Z" fill="#262728"/>
<path d="M304.5,21.4 L360.5,11.8" stroke="#2950c0" stroke-width="0.9" fill="none"/>
<!-- top terminals -->
<ellipse cx="329.2" cy="14.1" rx="4.6" ry="1.9" fill="#f4f4f4" transform="rotate(-8 329.2 14.1)"/>
<ellipse cx="341.4" cy="18" rx="5.2" ry="2" fill="#f4f4f4" transform="rotate(-8 341.4 18)"/>
<ellipse cx="332.5" cy="20.6" rx="2.6" ry="1.1" fill="#d8d8d8" transform="rotate(-8 332.5 20.6)"/>
<path d="M301.5,15.5 L309,12.8 L313.5,16.6 L306,19.6 Z" fill="#d9d2c4"/>
<path d="M313,19.6 L322.5,16.6 L329.5,20.3 L319.5,23.9 Z" fill="#d9d2c4"/>
<rect x="304.6" y="10.6" width="5.6" height="5.2" fill="url(#steel)"/>
<rect x="306.4" y="6.9" width="2.4" height="4.6" fill="url(#steel)"/>
<rect x="318.6" y="14.8" width="6" height="5.4" fill="url(#steel)"/>
<rect x="320.4" y="11.2" width="2.5" height="4.6" fill="url(#steel)"/>
<path d="M310,14.2 L318.5,16.4 L318.5,18.8 L310,16.2 Z" fill="#c9c9c9"/>
<path d="M340.2,9.6 L349.5,7.7 L355,10.4 L345.6,12.6 Z" fill="#161616" stroke="#cfcfcf" stroke-width="0.7"/>
<path d="M353,14 L362.8,12 L368.6,14.6 L358.4,17 Z" fill="#161616" stroke="#cfcfcf" stroke-width="0.7"/>
<rect x="346.2" y="0" width="2.5" height="10" fill="url(#steel)"/>
<rect x="359.4" y="4.4" width="2.5" height="9.6" fill="url(#steel)"/>
<!-- front cells lying -->
<path d="M296.5,66 L381,45.4 L408,53.5 L323.5,77.5 Z" fill="url(#cellTop)"/>
<path d="M296.5,66 L381,45.4 L408,53.5 L323.5,77.5 Z" fill="url(#cellTopHi)"/>
<path d="M310,71.75 L394.5,49.5" stroke="#0b2f8c" stroke-width="1.1" fill="none"/>
<path d="M312,72.8 L396.5,50.3" stroke="#5a86ea" stroke-width="0.9" fill="none" opacity="0.9"/>
<path d="M298.5,66.6 L382.5,46.1" stroke="#5a86ea" stroke-width="0.8" fill="none" opacity="0.8"/>
<path d="M323.5,77.5 L408,53.5 L404,122.7 L322.5,153.5 Z" fill="url(#cellFace)"/>
<path d="M323.5,77.5 L408,53.5 L407.9,55.2 L323.5,79.4 Z" fill="#4170d8" opacity="0.75"/>
<path d="M296.5,66 L323.5,77.5 L322.5,153.5 L297.5,138 Z" fill="#1b1c1e"/>
<path d="M310,71.75 L310.2,145.9" stroke="#2448b0" stroke-width="1.6" fill="none"/>
<!-- end terminals -->
<path d="M297.8,73.5 L304.4,76.2 L304.4,89.2 L297.8,86 Z" fill="#d6d6d6"/>
<path d="M299.2,76 L303.2,77.7 L303.2,86.8 L299.2,85 Z" fill="#9a9a9a"/>
<path d="M311.2,79 L321.6,83.4 L321.6,97.6 L311.2,92.6 Z" fill="#d6d6d6"/>
<path d="M312.8,82.4 L319.6,85.3 L319.6,95 L312.8,91.8 Z" fill="#9a9a9a"/>
<path d="M292.4,82.6 L299.4,81" stroke="#d0d0d0" stroke-width="1.7" stroke-linecap="round" fill="none"/>
<path d="M306.6,89.4 L313.8,87.2" stroke="#d0d0d0" stroke-width="1.7" stroke-linecap="round" fill="none"/>
<ellipse cx="302.9" cy="105.4" rx="2.7" ry="3.3" fill="#ececec"/>
<ellipse cx="316.2" cy="112.7" rx="3.2" ry="3.7" fill="#ececec"/>
<path d="M300.4,113.4 L305.8,115.6 L305.8,121.8 L300.4,119.4 Z" fill="#a9a9a9"/>
<path d="M313.8,121 L319.6,123.4 L319.6,129.8 L313.8,127.2 Z" fill="#a9a9a9"/>
<path d="M297.6,122 L309.4,127.6 L309.4,141.6 L297.6,135 Z" fill="#d4d0c8"/>
<path d="M311.2,128.6 L321.6,133.4 L321.6,148.6 L311.2,142.6 Z" fill="#d4d0c8"/>
<path d="M299.4,127 L312,133.4 L312,139 L299.4,132.4 Z" fill="#eeeeee" stroke="#8c8c8c" stroke-width="0.5"/>
<path d="M313,133.6 L319.6,136.6 L319.6,144.6 L313,141 Z" fill="#a8a8a8"/>
<path d="M292.6,133.6 L298.6,130.6" stroke="#d0d0d0" stroke-width="1.8" stroke-linecap="round" fill="none"/>
<path d="M307,142.6 L313,138.4" stroke="#d0d0d0" stroke-width="1.8" stroke-linecap="round" fill="none"/>
</g>

<!-- module.svg -->
<g clip-path="url(#modclip)">
<rect x="533" y="24" width="171.5" height="136" fill="url(#modblue)"/>
<path d="M533.1,34.5 Q552.1,43.1 562.0,72.7 Q574.3,90.0 586.7,97.4 Q606.4,134.4 633.6,164.0" fill="none" stroke="#1562c6" stroke-width="1.6" opacity="0.7"/>
<path d="M549.7,39.4 Q586.7,30.8 628.6,25.4" fill="none" stroke="#1562c6" stroke-width="1.6" opacity="0.7"/>
<path d="M533.1,114.7 Q562.0,102.4 589.2,96.2 Q628.6,80.2 663.2,57.9 Q685.4,48.1 704.4,44.4" fill="none" stroke="#1562c6" stroke-width="1.6" opacity="0.7"/>
<path d="M623.7,25.9 Q641.0,45.6 663.2,55.5 Q678.0,60.4 687.8,80.2 Q695.2,90.0 704.4,97.4" fill="none" stroke="#1562c6" stroke-width="1.6" opacity="0.7"/>
<path d="M648.4,154.2 Q678.0,154.2 704.4,139.4" fill="none" stroke="#1562c6" stroke-width="1.6" opacity="0.7"/>
<path d="M538.6,24.1 L599.5,24.1 Q597.0,28.3 589.6,31.3 Q569.4,36.2 549.7,35.7 Q542.3,30.8 538.6,24.1 Z" fill="#f1f2f4"/>
<path d="M559.5,43.6 Q591.6,33.8 622.5,27.3 Q643.4,40.7 646.4,59.4 Q628.6,76.4 599.0,83.1 Q580.5,82.6 566.9,69.8 Q559.5,55.5 559.5,43.6 Z" fill="#f1f2f4"/>
<path d="M533.1,55.5 Q539.8,53.0 548.4,53.0 Q562.0,65.3 568.9,87.6 Q552.1,99.9 533.1,108.5 Z" fill="#f1f2f4"/>
<path d="M631.8,24.1 L704.4,24.1 L704.4,42.6 Q682.9,50.5 661.4,48.6 Q643.4,40.7 631.8,24.1 Z" fill="#17181a"/>
<path d="M704.4,47.1 Q687.8,53.5 683.9,61.4 Q685.4,72.7 704.4,91.3 Z" fill="#17181a"/>
<path d="M606.4,93.5 Q633.6,73.2 670.6,61.4 Q682.9,75.2 704.4,93.7 L704.4,134.4 Q678.0,151.2 649.6,152.4 Q623.7,132.0 606.4,93.5 Z" fill="#17181a"/>
<path d="M533.1,121.6 Q557.1,109.8 583.0,104.3 Q599.0,119.6 624.9,161.6 L533.1,161.6 Z" fill="#17181a"/>
<line x1="610.1" y1="106.8" x2="683.4" y2="77.7" stroke="#d4d7dc" stroke-width="0.9"/>
<line x1="623.2" y1="128.3" x2="698.2" y2="97.4" stroke="#d4d7dc" stroke-width="0.9"/>
<line x1="638.0" y1="147.3" x2="707.6" y2="114.2" stroke="#d4d7dc" stroke-width="0.9"/>
<line x1="533.1" y1="144.8" x2="597.0" y2="119.6" stroke="#d4d7dc" stroke-width="0.9"/>
<line x1="554.1" y1="160.3" x2="610.1" y2="138.9" stroke="#d4d7dc" stroke-width="0.9"/>
<line x1="641.0" y1="43.1" x2="704.4" y2="30.8" stroke="#d4d7dc" stroke-width="0.9"/>
<line x1="687.8" y1="69.0" x2="704.4" y2="60.4" stroke="#d4d7dc" stroke-width="0.9"/>
<line x1="565.7" y1="53.0" x2="628.6" y2="34.5" stroke="#6f86b8" stroke-width="0.5"/>
<line x1="575.6" y1="65.3" x2="641.0" y2="46.8" stroke="#6f86b8" stroke-width="0.5"/>
<line x1="586.7" y1="77.7" x2="645.9" y2="61.6" stroke="#6f86b8" stroke-width="0.5"/>
<line x1="533.1" y1="72.7" x2="557.1" y2="64.1" stroke="#6f86b8" stroke-width="0.5"/>
<line x1="533.1" y1="90.0" x2="566.9" y2="78.9" stroke="#6f86b8" stroke-width="0.5"/>
<line x1="547.2" y1="31.3" x2="591.6" y2="24.9" stroke="#6f86b8" stroke-width="0.5"/>
<ellipse cx="568.2" cy="45.6" rx="6.0" ry="4.8" fill="url(#bolt)"/>
<ellipse cx="568.2" cy="44.9" rx="3.1" ry="2.5" fill="url(#bolt2)"/>
<ellipse cx="568.2" cy="44.7" rx="1.2" ry="1.0" fill="#7d7468"/>
<ellipse cx="606.4" cy="30.3" rx="5.7" ry="4.6" fill="url(#bolt)"/>
<ellipse cx="606.4" cy="29.6" rx="3.0" ry="2.4" fill="url(#bolt2)"/>
<ellipse cx="606.4" cy="29.5" rx="1.1" ry="0.9" fill="#7d7468"/>
<ellipse cx="574.3" cy="56.7" rx="7.1" ry="5.6" fill="url(#bolt)"/>
<ellipse cx="574.3" cy="55.9" rx="3.7" ry="3.0" fill="url(#bolt2)"/>
<ellipse cx="574.3" cy="55.7" rx="1.4" ry="1.1" fill="#7d7468"/>
<ellipse cx="584.2" cy="68.3" rx="7.9" ry="6.3" fill="url(#bolt)"/>
<ellipse cx="584.2" cy="67.4" rx="4.1" ry="3.3" fill="url(#bolt2)"/>
<ellipse cx="584.2" cy="67.1" rx="1.6" ry="1.3" fill="#7d7468"/>
<ellipse cx="597.0" cy="80.6" rx="6.5" ry="5.2" fill="url(#bolt)"/>
<ellipse cx="597.0" cy="79.9" rx="3.4" ry="2.7" fill="url(#bolt2)"/>
<ellipse cx="597.0" cy="79.7" rx="1.3" ry="1.0" fill="#7d7468"/>
<ellipse cx="618.3" cy="40.2" rx="6.2" ry="5.0" fill="url(#bolt)"/>
<ellipse cx="618.3" cy="39.4" rx="3.2" ry="2.6" fill="url(#bolt2)"/>
<ellipse cx="618.3" cy="39.2" rx="1.2" ry="1.0" fill="#7d7468"/>
<ellipse cx="627.4" cy="51.0" rx="6.8" ry="5.4" fill="url(#bolt)"/>
<ellipse cx="627.4" cy="50.2" rx="3.5" ry="2.8" fill="url(#bolt2)"/>
<ellipse cx="627.4" cy="50.0" rx="1.4" ry="1.1" fill="#7d7468"/>
<ellipse cx="639.2" cy="62.1" rx="5.7" ry="4.6" fill="url(#bolt)"/>
<ellipse cx="639.2" cy="61.5" rx="3.0" ry="2.4" fill="url(#bolt2)"/>
<ellipse cx="639.2" cy="61.3" rx="1.1" ry="0.9" fill="#7d7468"/>
<ellipse cx="542.3" cy="67.8" rx="6.5" ry="5.2" fill="url(#bolt)"/>
<ellipse cx="542.3" cy="67.0" rx="3.4" ry="2.7" fill="url(#bolt2)"/>
<ellipse cx="542.3" cy="66.8" rx="1.3" ry="1.0" fill="#7d7468"/>
<ellipse cx="549.7" cy="81.4" rx="7.3" ry="5.9" fill="url(#bolt)"/>
<ellipse cx="549.7" cy="80.5" rx="3.8" ry="3.1" fill="url(#bolt2)"/>
<ellipse cx="549.7" cy="80.3" rx="1.5" ry="1.2" fill="#7d7468"/>
<ellipse cx="534.9" cy="56.7" rx="3.8" ry="3.0" fill="url(#bolt)"/>
<ellipse cx="534.9" cy="56.3" rx="2.0" ry="1.6" fill="url(#bolt2)"/>
<ellipse cx="534.9" cy="56.1" rx="0.8" ry="0.6" fill="#7d7468"/>
<ellipse cx="558.3" cy="93.7" rx="5.4" ry="4.3" fill="url(#bolt)"/>
<ellipse cx="558.3" cy="93.1" rx="2.8" ry="2.3" fill="url(#bolt2)"/>
<ellipse cx="558.3" cy="92.9" rx="1.1" ry="0.9" fill="#7d7468"/>
<ellipse cx="554.6" cy="32.8" rx="4.6" ry="3.7" fill="url(#bolt)"/>
<ellipse cx="554.6" cy="32.2" rx="2.4" ry="1.9" fill="url(#bolt2)"/>
<ellipse cx="554.6" cy="32.1" rx="0.9" ry="0.7" fill="#7d7468"/>
<ellipse cx="646.6" cy="28.8" rx="6.5" ry="5.2" fill="url(#bolt)"/>
<ellipse cx="646.6" cy="28.0" rx="3.4" ry="2.7" fill="url(#bolt2)"/>
<ellipse cx="646.6" cy="27.9" rx="1.3" ry="1.0" fill="#7d7468"/>
<ellipse cx="657.7" cy="38.9" rx="7.3" ry="5.9" fill="url(#bolt)"/>
<ellipse cx="657.7" cy="38.1" rx="3.8" ry="3.1" fill="url(#bolt2)"/>
<ellipse cx="657.7" cy="37.8" rx="1.5" ry="1.2" fill="#7d7468"/>
<ellipse cx="670.6" cy="47.6" rx="5.7" ry="4.6" fill="url(#bolt)"/>
<ellipse cx="670.6" cy="46.9" rx="3.0" ry="2.4" fill="url(#bolt2)"/>
<ellipse cx="670.6" cy="46.7" rx="1.1" ry="0.9" fill="#7d7468"/>
<ellipse cx="695.7" cy="26.4" rx="4.6" ry="3.7" fill="url(#bolt)"/>
<ellipse cx="695.7" cy="25.8" rx="2.4" ry="1.9" fill="url(#bolt2)"/>
<ellipse cx="695.7" cy="25.7" rx="0.9" ry="0.7" fill="#7d7468"/>
<ellipse cx="691.5" cy="61.6" rx="6.5" ry="5.2" fill="url(#bolt)"/>
<ellipse cx="691.5" cy="60.9" rx="3.4" ry="2.7" fill="url(#bolt2)"/>
<ellipse cx="691.5" cy="60.7" rx="1.3" ry="1.0" fill="#7d7468"/>
<ellipse cx="700.7" cy="74.0" rx="5.7" ry="4.6" fill="url(#bolt)"/>
<ellipse cx="700.7" cy="73.3" rx="3.0" ry="2.4" fill="url(#bolt2)"/>
<ellipse cx="700.7" cy="73.1" rx="1.1" ry="0.9" fill="#7d7468"/>
<ellipse cx="659.5" cy="74.0" rx="7.3" ry="5.9" fill="url(#bolt)"/>
<ellipse cx="659.5" cy="73.1" rx="3.8" ry="3.1" fill="url(#bolt2)"/>
<ellipse cx="659.5" cy="72.9" rx="1.5" ry="1.2" fill="#7d7468"/>
<ellipse cx="674.3" cy="88.3" rx="8.4" ry="6.7" fill="url(#bolt)"/>
<ellipse cx="674.3" cy="87.3" rx="4.4" ry="3.5" fill="url(#bolt2)"/>
<ellipse cx="674.3" cy="87.0" rx="1.7" ry="1.3" fill="#7d7468"/>
<ellipse cx="690.3" cy="103.6" rx="8.4" ry="6.7" fill="url(#bolt)"/>
<ellipse cx="690.3" cy="102.6" rx="4.4" ry="3.5" fill="url(#bolt2)"/>
<ellipse cx="690.3" cy="102.3" rx="1.7" ry="1.3" fill="#7d7468"/>
<ellipse cx="704.6" cy="120.9" rx="5.4" ry="4.3" fill="url(#bolt)"/>
<ellipse cx="704.6" cy="120.2" rx="2.8" ry="2.3" fill="url(#bolt2)"/>
<ellipse cx="704.6" cy="120.0" rx="1.1" ry="0.9" fill="#7d7468"/>
<ellipse cx="613.8" cy="95.4" rx="7.3" ry="5.9" fill="url(#bolt)"/>
<ellipse cx="613.8" cy="94.6" rx="3.8" ry="3.1" fill="url(#bolt2)"/>
<ellipse cx="613.8" cy="94.3" rx="1.5" ry="1.2" fill="#7d7468"/>
<ellipse cx="624.9" cy="111.0" rx="8.4" ry="6.7" fill="url(#bolt)"/>
<ellipse cx="624.9" cy="110.0" rx="4.4" ry="3.5" fill="url(#bolt2)"/>
<ellipse cx="624.9" cy="109.7" rx="1.7" ry="1.3" fill="#7d7468"/>
<ellipse cx="641.0" cy="130.0" rx="9.5" ry="7.6" fill="url(#bolt)"/>
<ellipse cx="641.0" cy="128.8" rx="4.9" ry="4.0" fill="url(#bolt2)"/>
<ellipse cx="641.0" cy="128.6" rx="1.9" ry="1.5" fill="#7d7468"/>
<ellipse cx="658.2" cy="146.8" rx="9.2" ry="7.4" fill="url(#bolt)"/>
<ellipse cx="658.2" cy="145.7" rx="4.8" ry="3.9" fill="url(#bolt2)"/>
<ellipse cx="658.2" cy="145.4" rx="1.8" ry="1.5" fill="#7d7468"/>
<ellipse cx="577.3" cy="111.7" rx="7.9" ry="6.3" fill="url(#bolt)"/>
<ellipse cx="577.3" cy="110.8" rx="4.1" ry="3.3" fill="url(#bolt2)"/>
<ellipse cx="577.3" cy="110.6" rx="1.6" ry="1.3" fill="#7d7468"/>
<ellipse cx="590.4" cy="128.3" rx="10.0" ry="8.0" fill="url(#bolt)"/>
<ellipse cx="590.4" cy="127.1" rx="5.2" ry="4.2" fill="url(#bolt2)"/>
<ellipse cx="590.4" cy="126.8" rx="2.0" ry="1.6" fill="#7d7468"/>
<ellipse cx="604.4" cy="149.2" rx="10.6" ry="8.5" fill="url(#bolt)"/>
<ellipse cx="604.4" cy="148.0" rx="5.5" ry="4.4" fill="url(#bolt2)"/>
<ellipse cx="604.4" cy="147.6" rx="2.1" ry="1.7" fill="#7d7468"/>
<ellipse cx="549.7" cy="124.6" rx="6.5" ry="5.2" fill="url(#bolt)"/>
<ellipse cx="549.7" cy="123.8" rx="3.4" ry="2.7" fill="url(#bolt2)"/>
<ellipse cx="549.7" cy="123.6" rx="1.3" ry="1.0" fill="#7d7468"/>
<ellipse cx="561.5" cy="143.1" rx="7.3" ry="5.9" fill="url(#bolt)"/>
<ellipse cx="561.5" cy="142.2" rx="3.8" ry="3.1" fill="url(#bolt2)"/>
<ellipse cx="561.5" cy="142.0" rx="1.5" ry="1.2" fill="#7d7468"/>
<ellipse cx="534.9" cy="154.2" rx="5.2" ry="4.1" fill="url(#bolt)"/>
<ellipse cx="534.9" cy="153.6" rx="2.7" ry="2.2" fill="url(#bolt2)"/>
<ellipse cx="534.9" cy="153.4" rx="1.0" ry="0.8" fill="#7d7468"/>
<ellipse cx="599.0" cy="49.3" rx="3.6" ry="2.8" fill="url(#bolt)"/>
<ellipse cx="599.0" cy="49.3" rx="1.8" ry="1.4" fill="#e9e9e9"/>
<ellipse cx="607.7" cy="60.4" rx="3.9" ry="3.0" fill="url(#bolt)"/>
<ellipse cx="607.7" cy="60.4" rx="1.9" ry="1.5" fill="#e9e9e9"/>
<ellipse cx="620.0" cy="72.3" rx="3.9" ry="3.0" fill="url(#bolt)"/>
<ellipse cx="620.0" cy="72.3" rx="1.9" ry="1.5" fill="#e9e9e9"/>
<ellipse cx="587.9" cy="38.7" rx="3.6" ry="2.8" fill="url(#bolt)"/>
<ellipse cx="587.9" cy="38.7" rx="1.8" ry="1.4" fill="#e9e9e9"/>
<ellipse cx="575.6" cy="27.1" rx="3.0" ry="2.4" fill="url(#bolt)"/>
<ellipse cx="575.6" cy="27.1" rx="1.5" ry="1.2" fill="#e9e9e9"/>
<ellipse cx="677.5" cy="32.0" rx="3.6" ry="2.8" fill="url(#bolt)"/>
<ellipse cx="677.5" cy="32.0" rx="1.8" ry="1.4" fill="#e9e9e9"/>
<ellipse cx="689.8" cy="41.9" rx="3.6" ry="2.8" fill="url(#bolt)"/>
<ellipse cx="689.8" cy="41.9" rx="1.8" ry="1.4" fill="#e9e9e9"/>
<ellipse cx="637.3" cy="85.1" rx="4.7" ry="3.7" fill="url(#bolt)"/>
<ellipse cx="637.3" cy="85.1" rx="2.3" ry="1.8" fill="#e9e9e9"/>
<ellipse cx="650.8" cy="99.9" rx="5.3" ry="4.1" fill="url(#bolt)"/>
<ellipse cx="650.8" cy="99.9" rx="2.6" ry="2.0" fill="#e9e9e9"/>
<ellipse cx="666.9" cy="115.9" rx="5.8" ry="4.5" fill="url(#bolt)"/>
<ellipse cx="666.9" cy="115.9" rx="2.9" ry="2.2" fill="#e9e9e9"/>
<ellipse cx="684.9" cy="133.9" rx="6.4" ry="5.0" fill="url(#bolt)"/>
<ellipse cx="684.9" cy="133.9" rx="3.2" ry="2.4" fill="#e9e9e9"/>
<ellipse cx="537.3" cy="130.7" rx="4.4" ry="3.4" fill="url(#bolt)"/>
<ellipse cx="537.3" cy="130.7" rx="2.2" ry="1.7" fill="#e9e9e9"/>
<path d="M573.4,42.6 L577.6,38.4 L582.7,41.4 L578.5,45.7 Z" fill="#c6c8ca" stroke="#e9e9e9" stroke-width="0.4"/>
<path d="M603.0,46.3 L607.2,42.1 L612.3,45.1 L608.1,49.4 Z" fill="#c6c8ca" stroke="#e9e9e9" stroke-width="0.4"/>
<path d="M593.1,64.8 L597.3,60.6 L602.5,63.6 L598.3,67.9 Z" fill="#c6c8ca" stroke="#e9e9e9" stroke-width="0.4"/>
<path d="M623.9,68.5 L628.2,64.3 L633.3,67.3 L629.1,71.6 Z" fill="#c6c8ca" stroke="#e9e9e9" stroke-width="0.4"/>
<path d="M663.4,35.9 L667.6,31.7 L672.8,34.8 L668.6,39.0 Z" fill="#c6c8ca" stroke="#e9e9e9" stroke-width="0.4"/>
<path d="M694.3,38.9 L698.5,34.7 L703.6,37.7 L699.4,42.0 Z" fill="#c6c8ca" stroke="#e9e9e9" stroke-width="0.4"/>
<path d="M621.0,90.2 L625.2,86.0 L630.4,89.1 L626.1,93.3 Z" fill="#c6c8ca" stroke="#e9e9e9" stroke-width="0.4"/>
<path d="M656.8,95.7 L661.0,91.4 L666.1,94.5 L661.9,98.7 Z" fill="#c6c8ca" stroke="#e9e9e9" stroke-width="0.4"/>
<path d="M650.3,123.3 L654.6,119.1 L659.7,122.1 L655.5,126.3 Z" fill="#c6c8ca" stroke="#e9e9e9" stroke-width="0.4"/>
<path d="M691.8,129.0 L696.0,124.7 L701.2,127.8 L696.9,132.0 Z" fill="#c6c8ca" stroke="#e9e9e9" stroke-width="0.4"/>
<path d="M569.7,138.1 L573.9,133.9 L579.0,136.9 L574.8,141.1 Z" fill="#c6c8ca" stroke="#e9e9e9" stroke-width="0.4"/>
</g>
<!-- pack.svg -->
<g>
<path d="M848.6,54.8 L863.2,46.8 L1000.2,46.8 L1012.4,54.8 Z" fill="url(#packTop)"/>
<rect x="836.9" y="54.5" width="185.8" height="94.2" rx="1.8" fill="url(#packFront)"/>
<path d="M838,148.2 L1021.6,148.2 L1021,149.5 L838.8,149.5 Z" fill="#cfd0d2" opacity="0.7"/>
<ellipse cx="842.8" cy="70.6" rx="2.1" ry="1.4" fill="#ffffff"/>
<ellipse cx="842.8" cy="132.1" rx="2.1" ry="1.4" fill="#ffffff"/>
<ellipse cx="1018.8" cy="70.6" rx="2.1" ry="1.4" fill="#ffffff"/>
<ellipse cx="1018.8" cy="132.1" rx="2.1" ry="1.4" fill="#ffffff"/>
<path d="M855.0,81.2 L846.1,81.2 Q844.6,81.2 844.6,83.0 L844.6,119.8 Q844.6,121.6 846.1,121.6 L855.0,121.6" fill="none" stroke="#8e9094" stroke-width="2.6" stroke-linejoin="round"/><path d="M855.0,80.8 L846.1,80.8 Q844.9,80.8 844.9,83.0 L844.9,119.6" fill="none" stroke="#d9dadc" stroke-width="0.9"/>
<path d="M1005.0,81.2 L1016.7,81.2 Q1018.2,81.2 1018.2,83.0 L1018.2,119.8 Q1018.2,121.6 1016.7,121.6 L1005.0,121.6" fill="none" stroke="#8e9094" stroke-width="2.6" stroke-linejoin="round"/><path d="M1005.0,80.8 L1016.7,80.8 Q1017.9,80.8 1017.9,83.0 L1017.9,119.6" fill="none" stroke="#d9dadc" stroke-width="0.9"/>
<circle cx="855.7" cy="81.5" r="3.3" fill="#fbfbfb" stroke="#d4d5d7" stroke-width="0.5"/>
<circle cx="855.7" cy="121.9" r="3.3" fill="#fbfbfb" stroke="#d4d5d7" stroke-width="0.5"/>
<circle cx="1004.8" cy="81.5" r="3.3" fill="#fbfbfb" stroke="#d4d5d7" stroke-width="0.5"/>
<circle cx="1004.8" cy="121.9" r="3.3" fill="#fbfbfb" stroke="#d4d5d7" stroke-width="0.5"/>
<path d="M889.43,63.02 A9.7,9.7 0 1 0 889.43,73.58" fill="none" stroke="#2b84d6" stroke-width="1.35"/>
<path d="M868.9,65.5 L868.9,71.2" fill="none" stroke="#2b84d6" stroke-width="1.5"/>
<path d="M875.2,65.8 L871.6,68.35 L875.2,70.9" fill="none" stroke="#2b84d6" stroke-width="1.3"/>
<text x="876.4" y="70.85" font-family="'Liberation Sans',sans-serif" font-size="6.9" font-weight="700" fill="#2b84d6" textLength="16.2" lengthAdjust="spacingAndGlyphs">HZH</text>
<circle cx="880.4" cy="68.4" r="0.6" fill="#e69a3a"/>
<rect x="867.3" y="83.2" width="25.4" height="7" rx="0.8" fill="#7fbf8c"/>
<rect x="869.2" y="85.2" width="21.6" height="2.2" fill="#4c8d5c"/>
<rect x="870.0" y="85.6" width="1" height="1.4" fill="#2d5138"/>
<rect x="872.0" y="85.6" width="1" height="1.4" fill="#2d5138"/>
<rect x="874.1" y="85.6" width="1" height="1.4" fill="#2d5138"/>
<rect x="876.1" y="85.6" width="1" height="1.4" fill="#2d5138"/>
<rect x="878.2" y="85.6" width="1" height="1.4" fill="#2d5138"/>
<rect x="880.2" y="85.6" width="1" height="1.4" fill="#2d5138"/>
<rect x="882.3" y="85.6" width="1" height="1.4" fill="#2d5138"/>
<rect x="884.4" y="85.6" width="1" height="1.4" fill="#2d5138"/>
<rect x="886.4" y="85.6" width="1" height="1.4" fill="#2d5138"/>
<rect x="888.5" y="85.6" width="1" height="1.4" fill="#2d5138"/>
<circle cx="869.6" cy="88.8" r="0.9" fill="#2d3b30"/><circle cx="890.6" cy="88.8" r="0.9" fill="#2d3b30"/>
<rect x="867.3" y="110.4" width="25.4" height="7" rx="0.8" fill="#7fbf8c"/>
<rect x="869.2" y="112.4" width="21.6" height="2.2" fill="#4c8d5c"/>
<rect x="870.0" y="112.8" width="1" height="1.4" fill="#2d5138"/>
<rect x="872.0" y="112.8" width="1" height="1.4" fill="#2d5138"/>
<rect x="874.1" y="112.8" width="1" height="1.4" fill="#2d5138"/>
<rect x="876.1" y="112.8" width="1" height="1.4" fill="#2d5138"/>
<rect x="878.2" y="112.8" width="1" height="1.4" fill="#2d5138"/>
<rect x="880.2" y="112.8" width="1" height="1.4" fill="#2d5138"/>
<rect x="882.3" y="112.8" width="1" height="1.4" fill="#2d5138"/>
<rect x="884.4" y="112.8" width="1" height="1.4" fill="#2d5138"/>
<rect x="886.4" y="112.8" width="1" height="1.4" fill="#2d5138"/>
<rect x="888.5" y="112.8" width="1" height="1.4" fill="#2d5138"/>
<circle cx="869.6" cy="116.0" r="0.9" fill="#2d3b30"/><circle cx="890.6" cy="116.0" r="0.9" fill="#2d3b30"/>
<circle cx="920.84" cy="90.50" r="1.02" fill="#1b1b1d"/>
<circle cx="923.96" cy="90.50" r="1.02" fill="#1b1b1d"/>
<circle cx="927.08" cy="90.50" r="1.02" fill="#1b1b1d"/>
<circle cx="930.20" cy="90.50" r="1.02" fill="#1b1b1d"/>
<circle cx="933.32" cy="90.50" r="1.02" fill="#1b1b1d"/>
<circle cx="936.44" cy="90.50" r="1.02" fill="#1b1b1d"/>
<circle cx="939.56" cy="90.50" r="1.02" fill="#1b1b1d"/>
<circle cx="917.72" cy="93.55" r="1.02" fill="#1b1b1d"/>
<circle cx="920.84" cy="93.55" r="1.02" fill="#1b1b1d"/>
<circle cx="923.96" cy="93.55" r="1.02" fill="#1b1b1d"/>
<circle cx="927.08" cy="93.55" r="1.02" fill="#1b1b1d"/>
<circle cx="930.20" cy="93.55" r="1.02" fill="#1b1b1d"/>
<circle cx="933.32" cy="93.55" r="1.02" fill="#1b1b1d"/>
<circle cx="936.44" cy="93.55" r="1.02" fill="#1b1b1d"/>
<circle cx="939.56" cy="93.55" r="1.02" fill="#1b1b1d"/>
<circle cx="942.68" cy="93.55" r="1.02" fill="#1b1b1d"/>
<circle cx="914.60" cy="96.60" r="1.02" fill="#1b1b1d"/>
<circle cx="917.72" cy="96.60" r="1.02" fill="#1b1b1d"/>
<circle cx="920.84" cy="96.60" r="1.02" fill="#1b1b1d"/>
<circle cx="923.96" cy="96.60" r="1.02" fill="#1b1b1d"/>
<circle cx="927.08" cy="96.60" r="1.02" fill="#1b1b1d"/>
<circle cx="930.20" cy="96.60" r="1.02" fill="#1b1b1d"/>
<circle cx="933.32" cy="96.60" r="1.02" fill="#1b1b1d"/>
<circle cx="936.44" cy="96.60" r="1.02" fill="#1b1b1d"/>
<circle cx="939.56" cy="96.60" r="1.02" fill="#1b1b1d"/>
<circle cx="942.68" cy="96.60" r="1.02" fill="#1b1b1d"/>
<circle cx="945.80" cy="96.60" r="1.02" fill="#1b1b1d"/>
<circle cx="911.48" cy="99.65" r="1.02" fill="#1b1b1d"/>
<circle cx="914.60" cy="99.65" r="1.02" fill="#1b1b1d"/>
<circle cx="917.72" cy="99.65" r="1.02" fill="#1b1b1d"/>
<circle cx="920.84" cy="99.65" r="1.02" fill="#1b1b1d"/>
<circle cx="923.96" cy="99.65" r="1.02" fill="#1b1b1d"/>
<circle cx="927.08" cy="99.65" r="1.02" fill="#1b1b1d"/>
<circle cx="930.20" cy="99.65" r="1.02" fill="#1b1b1d"/>
<circle cx="933.32" cy="99.65" r="1.02" fill="#1b1b1d"/>
<circle cx="936.44" cy="99.65" r="1.02" fill="#1b1b1d"/>
<circle cx="939.56" cy="99.65" r="1.02" fill="#1b1b1d"/>
<circle cx="942.68" cy="99.65" r="1.02" fill="#1b1b1d"/>
<circle cx="945.80" cy="99.65" r="1.02" fill="#1b1b1d"/>
<circle cx="948.92" cy="99.65" r="1.02" fill="#1b1b1d"/>
<circle cx="908.36" cy="102.70" r="1.02" fill="#1b1b1d"/>
<circle cx="911.48" cy="102.70" r="1.02" fill="#1b1b1d"/>
<circle cx="914.60" cy="102.70" r="1.02" fill="#1b1b1d"/>
<circle cx="917.72" cy="102.70" r="1.02" fill="#1b1b1d"/>
<circle cx="920.84" cy="102.70" r="1.02" fill="#1b1b1d"/>
<circle cx="923.96" cy="102.70" r="1.02" fill="#1b1b1d"/>
<circle cx="927.08" cy="102.70" r="1.02" fill="#1b1b1d"/>
<circle cx="930.20" cy="102.70" r="1.02" fill="#1b1b1d"/>
<circle cx="933.32" cy="102.70" r="1.02" fill="#1b1b1d"/>
<circle cx="936.44" cy="102.70" r="1.02" fill="#1b1b1d"/>
<circle cx="939.56" cy="102.70" r="1.02" fill="#1b1b1d"/>
<circle cx="942.68" cy="102.70" r="1.02" fill="#1b1b1d"/>
<circle cx="945.80" cy="102.70" r="1.02" fill="#1b1b1d"/>
<circle cx="948.92" cy="102.70" r="1.02" fill="#1b1b1d"/>
<circle cx="952.04" cy="102.70" r="1.02" fill="#1b1b1d"/>
<circle cx="905.24" cy="105.75" r="1.02" fill="#1b1b1d"/>
<circle cx="908.36" cy="105.75" r="1.02" fill="#1b1b1d"/>
<circle cx="911.48" cy="105.75" r="1.02" fill="#1b1b1d"/>
<circle cx="914.60" cy="105.75" r="1.02" fill="#1b1b1d"/>
<circle cx="917.72" cy="105.75" r="1.02" fill="#1b1b1d"/>
<circle cx="920.84" cy="105.75" r="1.02" fill="#1b1b1d"/>
<circle cx="923.96" cy="105.75" r="1.02" fill="#1b1b1d"/>
<circle cx="927.08" cy="105.75" r="1.02" fill="#1b1b1d"/>
<circle cx="930.20" cy="105.75" r="1.02" fill="#1b1b1d"/>
<circle cx="933.32" cy="105.75" r="1.02" fill="#1b1b1d"/>
<circle cx="936.44" cy="105.75" r="1.02" fill="#1b1b1d"/>
<circle cx="939.56" cy="105.75" r="1.02" fill="#1b1b1d"/>
<circle cx="942.68" cy="105.75" r="1.02" fill="#1b1b1d"/>
<circle cx="945.80" cy="105.75" r="1.02" fill="#1b1b1d"/>
<circle cx="948.92" cy="105.75" r="1.02" fill="#1b1b1d"/>
<circle cx="952.04" cy="105.75" r="1.02" fill="#1b1b1d"/>
<circle cx="955.16" cy="105.75" r="1.02" fill="#1b1b1d"/>
<circle cx="905.24" cy="108.80" r="1.02" fill="#1b1b1d"/>
<circle cx="908.36" cy="108.80" r="1.02" fill="#1b1b1d"/>
<circle cx="911.48" cy="108.80" r="1.02" fill="#1b1b1d"/>
<circle cx="914.60" cy="108.80" r="1.02" fill="#1b1b1d"/>
<circle cx="917.72" cy="108.80" r="1.02" fill="#1b1b1d"/>
<circle cx="920.84" cy="108.80" r="1.02" fill="#1b1b1d"/>
<circle cx="923.96" cy="108.80" r="1.02" fill="#1b1b1d"/>
<circle cx="927.08" cy="108.80" r="1.02" fill="#1b1b1d"/>
<circle cx="930.20" cy="108.80" r="1.02" fill="#1b1b1d"/>
<circle cx="933.32" cy="108.80" r="1.02" fill="#1b1b1d"/>
<circle cx="936.44" cy="108.80" r="1.02" fill="#1b1b1d"/>
<circle cx="939.56" cy="108.80" r="1.02" fill="#1b1b1d"/>
<circle cx="942.68" cy="108.80" r="1.02" fill="#1b1b1d"/>
<circle cx="945.80" cy="108.80" r="1.02" fill="#1b1b1d"/>
<circle cx="948.92" cy="108.80" r="1.02" fill="#1b1b1d"/>
<circle cx="952.04" cy="108.80" r="1.02" fill="#1b1b1d"/>
<circle cx="955.16" cy="108.80" r="1.02" fill="#1b1b1d"/>
<circle cx="905.24" cy="111.85" r="1.02" fill="#1b1b1d"/>
<circle cx="908.36" cy="111.85" r="1.02" fill="#1b1b1d"/>
<circle cx="911.48" cy="111.85" r="1.02" fill="#1b1b1d"/>
<circle cx="914.60" cy="111.85" r="1.02" fill="#1b1b1d"/>
<circle cx="917.72" cy="111.85" r="1.02" fill="#1b1b1d"/>
<circle cx="920.84" cy="111.85" r="1.02" fill="#1b1b1d"/>
<circle cx="923.96" cy="111.85" r="1.02" fill="#1b1b1d"/>
<circle cx="927.08" cy="111.85" r="1.02" fill="#1b1b1d"/>
<circle cx="930.20" cy="111.85" r="1.02" fill="#1b1b1d"/>
<circle cx="933.32" cy="111.85" r="1.02" fill="#1b1b1d"/>
<circle cx="936.44" cy="111.85" r="1.02" fill="#1b1b1d"/>
<circle cx="939.56" cy="111.85" r="1.02" fill="#1b1b1d"/>
<circle cx="942.68" cy="111.85" r="1.02" fill="#1b1b1d"/>
<circle cx="945.80" cy="111.85" r="1.02" fill="#1b1b1d"/>
<circle cx="948.92" cy="111.85" r="1.02" fill="#1b1b1d"/>
<circle cx="952.04" cy="111.85" r="1.02" fill="#1b1b1d"/>
<circle cx="955.16" cy="111.85" r="1.02" fill="#1b1b1d"/>
<circle cx="905.24" cy="114.90" r="1.02" fill="#1b1b1d"/>
<circle cx="908.36" cy="114.90" r="1.02" fill="#1b1b1d"/>
<circle cx="911.48" cy="114.90" r="1.02" fill="#1b1b1d"/>
<circle cx="914.60" cy="114.90" r="1.02" fill="#1b1b1d"/>
<circle cx="917.72" cy="114.90" r="1.02" fill="#1b1b1d"/>
<circle cx="920.84" cy="114.90" r="1.02" fill="#1b1b1d"/>
<circle cx="923.96" cy="114.90" r="1.02" fill="#1b1b1d"/>
<circle cx="927.08" cy="114.90" r="1.02" fill="#1b1b1d"/>
<circle cx="930.20" cy="114.90" r="1.02" fill="#1b1b1d"/>
<circle cx="933.32" cy="114.90" r="1.02" fill="#1b1b1d"/>
<circle cx="936.44" cy="114.90" r="1.02" fill="#1b1b1d"/>
<circle cx="939.56" cy="114.90" r="1.02" fill="#1b1b1d"/>
<circle cx="942.68" cy="114.90" r="1.02" fill="#1b1b1d"/>
<circle cx="945.80" cy="114.90" r="1.02" fill="#1b1b1d"/>
<circle cx="948.92" cy="114.90" r="1.02" fill="#1b1b1d"/>
<circle cx="952.04" cy="114.90" r="1.02" fill="#1b1b1d"/>
<circle cx="955.16" cy="114.90" r="1.02" fill="#1b1b1d"/>
<circle cx="905.24" cy="117.95" r="1.02" fill="#1b1b1d"/>
<circle cx="908.36" cy="117.95" r="1.02" fill="#1b1b1d"/>
<circle cx="911.48" cy="117.95" r="1.02" fill="#1b1b1d"/>
<circle cx="914.60" cy="117.95" r="1.02" fill="#1b1b1d"/>
<circle cx="917.72" cy="117.95" r="1.02" fill="#1b1b1d"/>
<circle cx="920.84" cy="117.95" r="1.02" fill="#1b1b1d"/>
<circle cx="923.96" cy="117.95" r="1.02" fill="#1b1b1d"/>
<circle cx="927.08" cy="117.95" r="1.02" fill="#1b1b1d"/>
<circle cx="930.20" cy="117.95" r="1.02" fill="#1b1b1d"/>
<circle cx="933.32" cy="117.95" r="1.02" fill="#1b1b1d"/>
<circle cx="936.44" cy="117.95" r="1.02" fill="#1b1b1d"/>
<circle cx="939.56" cy="117.95" r="1.02" fill="#1b1b1d"/>
<circle cx="942.68" cy="117.95" r="1.02" fill="#1b1b1d"/>
<circle cx="945.80" cy="117.95" r="1.02" fill="#1b1b1d"/>
<circle cx="948.92" cy="117.95" r="1.02" fill="#1b1b1d"/>
<circle cx="952.04" cy="117.95" r="1.02" fill="#1b1b1d"/>
<circle cx="955.16" cy="117.95" r="1.02" fill="#1b1b1d"/>
<circle cx="905.24" cy="121.00" r="1.02" fill="#1b1b1d"/>
<circle cx="908.36" cy="121.00" r="1.02" fill="#1b1b1d"/>
<circle cx="911.48" cy="121.00" r="1.02" fill="#1b1b1d"/>
<circle cx="914.60" cy="121.00" r="1.02" fill="#1b1b1d"/>
<circle cx="917.72" cy="121.00" r="1.02" fill="#1b1b1d"/>
<circle cx="920.84" cy="121.00" r="1.02" fill="#1b1b1d"/>
<circle cx="923.96" cy="121.00" r="1.02" fill="#1b1b1d"/>
<circle cx="927.08" cy="121.00" r="1.02" fill="#1b1b1d"/>
<circle cx="930.20" cy="121.00" r="1.02" fill="#1b1b1d"/>
<circle cx="933.32" cy="121.00" r="1.02" fill="#1b1b1d"/>
<circle cx="936.44" cy="121.00" r="1.02" fill="#1b1b1d"/>
<circle cx="939.56" cy="121.00" r="1.02" fill="#1b1b1d"/>
<circle cx="942.68" cy="121.00" r="1.02" fill="#1b1b1d"/>
<circle cx="945.80" cy="121.00" r="1.02" fill="#1b1b1d"/>
<circle cx="948.92" cy="121.00" r="1.02" fill="#1b1b1d"/>
<circle cx="952.04" cy="121.00" r="1.02" fill="#1b1b1d"/>
<circle cx="955.16" cy="121.00" r="1.02" fill="#1b1b1d"/>
<circle cx="905.24" cy="124.05" r="1.02" fill="#1b1b1d"/>
<circle cx="908.36" cy="124.05" r="1.02" fill="#1b1b1d"/>
<circle cx="911.48" cy="124.05" r="1.02" fill="#1b1b1d"/>
<circle cx="914.60" cy="124.05" r="1.02" fill="#1b1b1d"/>
<circle cx="917.72" cy="124.05" r="1.02" fill="#1b1b1d"/>
<circle cx="920.84" cy="124.05" r="1.02" fill="#1b1b1d"/>
<circle cx="923.96" cy="124.05" r="1.02" fill="#1b1b1d"/>
<circle cx="927.08" cy="124.05" r="1.02" fill="#1b1b1d"/>
<circle cx="930.20" cy="124.05" r="1.02" fill="#1b1b1d"/>
<circle cx="933.32" cy="124.05" r="1.02" fill="#1b1b1d"/>
<circle cx="936.44" cy="124.05" r="1.02" fill="#1b1b1d"/>
<circle cx="939.56" cy="124.05" r="1.02" fill="#1b1b1d"/>
<circle cx="942.68" cy="124.05" r="1.02" fill="#1b1b1d"/>
<circle cx="945.80" cy="124.05" r="1.02" fill="#1b1b1d"/>
<circle cx="948.92" cy="124.05" r="1.02" fill="#1b1b1d"/>
<circle cx="952.04" cy="124.05" r="1.02" fill="#1b1b1d"/>
<circle cx="955.16" cy="124.05" r="1.02" fill="#1b1b1d"/>
<circle cx="908.36" cy="127.10" r="1.02" fill="#1b1b1d"/>
<circle cx="911.48" cy="127.10" r="1.02" fill="#1b1b1d"/>
<circle cx="914.60" cy="127.10" r="1.02" fill="#1b1b1d"/>
<circle cx="917.72" cy="127.10" r="1.02" fill="#1b1b1d"/>
<circle cx="920.84" cy="127.10" r="1.02" fill="#1b1b1d"/>
<circle cx="923.96" cy="127.10" r="1.02" fill="#1b1b1d"/>
<circle cx="927.08" cy="127.10" r="1.02" fill="#1b1b1d"/>
<circle cx="930.20" cy="127.10" r="1.02" fill="#1b1b1d"/>
<circle cx="933.32" cy="127.10" r="1.02" fill="#1b1b1d"/>
<circle cx="936.44" cy="127.10" r="1.02" fill="#1b1b1d"/>
<circle cx="939.56" cy="127.10" r="1.02" fill="#1b1b1d"/>
<circle cx="942.68" cy="127.10" r="1.02" fill="#1b1b1d"/>
<circle cx="945.80" cy="127.10" r="1.02" fill="#1b1b1d"/>
<circle cx="948.92" cy="127.10" r="1.02" fill="#1b1b1d"/>
<circle cx="952.04" cy="127.10" r="1.02" fill="#1b1b1d"/>
<circle cx="911.48" cy="130.15" r="1.02" fill="#1b1b1d"/>
<circle cx="914.60" cy="130.15" r="1.02" fill="#1b1b1d"/>
<circle cx="917.72" cy="130.15" r="1.02" fill="#1b1b1d"/>
<circle cx="920.84" cy="130.15" r="1.02" fill="#1b1b1d"/>
<circle cx="923.96" cy="130.15" r="1.02" fill="#1b1b1d"/>
<circle cx="927.08" cy="130.15" r="1.02" fill="#1b1b1d"/>
<circle cx="930.20" cy="130.15" r="1.02" fill="#1b1b1d"/>
<circle cx="933.32" cy="130.15" r="1.02" fill="#1b1b1d"/>
<circle cx="936.44" cy="130.15" r="1.02" fill="#1b1b1d"/>
<circle cx="939.56" cy="130.15" r="1.02" fill="#1b1b1d"/>
<circle cx="942.68" cy="130.15" r="1.02" fill="#1b1b1d"/>
<circle cx="945.80" cy="130.15" r="1.02" fill="#1b1b1d"/>
<circle cx="948.92" cy="130.15" r="1.02" fill="#1b1b1d"/>
<circle cx="914.60" cy="133.20" r="1.02" fill="#1b1b1d"/>
<circle cx="917.72" cy="133.20" r="1.02" fill="#1b1b1d"/>
<circle cx="920.84" cy="133.20" r="1.02" fill="#1b1b1d"/>
<circle cx="923.96" cy="133.20" r="1.02" fill="#1b1b1d"/>
<circle cx="927.08" cy="133.20" r="1.02" fill="#1b1b1d"/>
<circle cx="930.20" cy="133.20" r="1.02" fill="#1b1b1d"/>
<circle cx="933.32" cy="133.20" r="1.02" fill="#1b1b1d"/>
<circle cx="936.44" cy="133.20" r="1.02" fill="#1b1b1d"/>
<circle cx="939.56" cy="133.20" r="1.02" fill="#1b1b1d"/>
<circle cx="942.68" cy="133.20" r="1.02" fill="#1b1b1d"/>
<circle cx="945.80" cy="133.20" r="1.02" fill="#1b1b1d"/>
<circle cx="917.72" cy="136.25" r="1.02" fill="#1b1b1d"/>
<circle cx="920.84" cy="136.25" r="1.02" fill="#1b1b1d"/>
<circle cx="923.96" cy="136.25" r="1.02" fill="#1b1b1d"/>
<circle cx="927.08" cy="136.25" r="1.02" fill="#1b1b1d"/>
<circle cx="930.20" cy="136.25" r="1.02" fill="#1b1b1d"/>
<circle cx="933.32" cy="136.25" r="1.02" fill="#1b1b1d"/>
<circle cx="936.44" cy="136.25" r="1.02" fill="#1b1b1d"/>
<circle cx="939.56" cy="136.25" r="1.02" fill="#1b1b1d"/>
<circle cx="942.68" cy="136.25" r="1.02" fill="#1b1b1d"/>
<circle cx="920.84" cy="139.30" r="1.02" fill="#1b1b1d"/>
<circle cx="923.96" cy="139.30" r="1.02" fill="#1b1b1d"/>
<circle cx="927.08" cy="139.30" r="1.02" fill="#1b1b1d"/>
<circle cx="930.20" cy="139.30" r="1.02" fill="#1b1b1d"/>
<circle cx="933.32" cy="139.30" r="1.02" fill="#1b1b1d"/>
<circle cx="936.44" cy="139.30" r="1.02" fill="#1b1b1d"/>
<circle cx="939.56" cy="139.30" r="1.02" fill="#1b1b1d"/>
<circle cx="908.4" cy="93.4" r="1.2" fill="#1f1f21"/>
<circle cx="951.9" cy="93.4" r="1.2" fill="#1f1f21"/>
<circle cx="908.4" cy="135.9" r="1.2" fill="#1f1f21"/>
<circle cx="951.9" cy="135.9" r="1.2" fill="#1f1f21"/>
<rect x="981.8" y="66.6" width="13.6" height="13" rx="1.8" fill="#d3262b"/>
<circle cx="988.6" cy="73.1" r="4.1" fill="#a01418"/><circle cx="988.6" cy="73.1" r="2.7" fill="#231313"/><circle cx="988.6" cy="73.1" r="1.2" fill="#c43035"/>
<circle cx="983.7" cy="68.5" r="0.7" fill="#6a0f12"/>
<circle cx="993.5" cy="68.5" r="0.7" fill="#6a0f12"/>
<circle cx="983.7" cy="77.7" r="0.7" fill="#6a0f12"/>
<circle cx="993.5" cy="77.7" r="0.7" fill="#6a0f12"/>
<rect x="960.2" y="102.9" width="12.9" height="13.2" rx="1.8" fill="#1f1f21"/>
<circle cx="966.6" cy="109.6" r="3.9" fill="#3a3a3d"/><circle cx="966.6" cy="109.6" r="2.5" fill="#0d0d0e"/><circle cx="966.6" cy="109.6" r="1.1" fill="#4a4a4d"/>
</g>
<!-- cluster.svg -->
<g>
<path d="M863.8,350.2 L903.2,336.6 L940.8,341.6 L905.5,355.0 Z" fill="url(#clTop)"/>
<path d="M905.5,355.0 L942.3,341.4 L983.1,345.4 L948.7,359.0 Z" fill="url(#clTop2)"/>
<path d="M905.5,355.0 L941.6,341.5" stroke="#a9aaa7" stroke-width="0.8" fill="none"/>
<path d="M948.7,505.5 L976.7,494.3 L976.7,519.1 L948.7,529.5 Z" fill="#b9bab8"/>
<path d="M948.7,359.00 L983.1,345.40 L983.1,369.82 L948.7,383.42 Z" fill="url(#clSide)"/>
<path d="M948.7,383.12 L983.1,369.52" stroke="#8c8c8a" stroke-width="0.9" fill="none"/>
<path d="M948.7,359.50 L983.1,345.90" stroke="#d4d4d2" stroke-width="0.8" fill="none"/>
<path d="M953.5,363.30 L953.5,375.50" stroke="#676767" stroke-width="1.15"/>
<path d="M956.1,362.26 L956.1,374.46" stroke="#676767" stroke-width="1.15"/>
<path d="M958.8,361.21 L958.8,373.41" stroke="#676767" stroke-width="1.15"/>
<path d="M961.4,360.17 L961.4,372.37" stroke="#676767" stroke-width="1.15"/>
<path d="M964.1,359.13 L964.1,371.33" stroke="#676767" stroke-width="1.15"/>
<path d="M966.7,358.08 L966.7,370.28" stroke="#676767" stroke-width="1.15"/>
<path d="M969.3,357.04 L969.3,369.24" stroke="#676767" stroke-width="1.15"/>
<path d="M972.0,356.00 L972.0,368.20" stroke="#676767" stroke-width="1.15"/>
<path d="M974.6,354.95 L974.6,367.15" stroke="#676767" stroke-width="1.15"/>
<path d="M977.3,353.91 L977.3,366.11" stroke="#676767" stroke-width="1.15"/>
<path d="M979.9,352.87 L979.9,365.07" stroke="#676767" stroke-width="1.15"/>
<path d="M948.7,383.42 L983.1,369.82 L983.1,394.23 L948.7,407.83 Z" fill="url(#clSide)"/>
<path d="M948.7,407.53 L983.1,393.93" stroke="#8c8c8a" stroke-width="0.9" fill="none"/>
<path d="M948.7,383.92 L983.1,370.32" stroke="#d4d4d2" stroke-width="0.8" fill="none"/>
<path d="M953.5,387.72 L953.5,399.92" stroke="#676767" stroke-width="1.15"/>
<path d="M956.1,386.68 L956.1,398.88" stroke="#676767" stroke-width="1.15"/>
<path d="M958.8,385.63 L958.8,397.83" stroke="#676767" stroke-width="1.15"/>
<path d="M961.4,384.59 L961.4,396.79" stroke="#676767" stroke-width="1.15"/>
<path d="M964.1,383.54 L964.1,395.74" stroke="#676767" stroke-width="1.15"/>
<path d="M966.7,382.50 L966.7,394.70" stroke="#676767" stroke-width="1.15"/>
<path d="M969.3,381.46 L969.3,393.66" stroke="#676767" stroke-width="1.15"/>
<path d="M972.0,380.41 L972.0,392.61" stroke="#676767" stroke-width="1.15"/>
<path d="M974.6,379.37 L974.6,391.57" stroke="#676767" stroke-width="1.15"/>
<path d="M977.3,378.33 L977.3,390.53" stroke="#676767" stroke-width="1.15"/>
<path d="M979.9,377.28 L979.9,389.48" stroke="#676767" stroke-width="1.15"/>
<path d="M948.7,407.83 L983.1,394.23 L983.1,418.65 L948.7,432.25 Z" fill="url(#clSide)"/>
<path d="M948.7,431.95 L983.1,418.35" stroke="#8c8c8a" stroke-width="0.9" fill="none"/>
<path d="M948.7,408.33 L983.1,394.73" stroke="#d4d4d2" stroke-width="0.8" fill="none"/>
<path d="M953.5,412.14 L953.5,424.34" stroke="#676767" stroke-width="1.15"/>
<path d="M956.1,411.09 L956.1,423.29" stroke="#676767" stroke-width="1.15"/>
<path d="M958.8,410.05 L958.8,422.25" stroke="#676767" stroke-width="1.15"/>
<path d="M961.4,409.00 L961.4,421.20" stroke="#676767" stroke-width="1.15"/>
<path d="M964.1,407.96 L964.1,420.16" stroke="#676767" stroke-width="1.15"/>
<path d="M966.7,406.92 L966.7,419.12" stroke="#676767" stroke-width="1.15"/>
<path d="M969.3,405.87 L969.3,418.07" stroke="#676767" stroke-width="1.15"/>
<path d="M972.0,404.83 L972.0,417.03" stroke="#676767" stroke-width="1.15"/>
<path d="M974.6,403.79 L974.6,415.99" stroke="#676767" stroke-width="1.15"/>
<path d="M977.3,402.74 L977.3,414.94" stroke="#676767" stroke-width="1.15"/>
<path d="M979.9,401.70 L979.9,413.90" stroke="#676767" stroke-width="1.15"/>
<path d="M948.7,432.25 L983.1,418.65 L983.1,443.07 L948.7,456.67 Z" fill="url(#clSide)"/>
<path d="M948.7,456.37 L983.1,442.77" stroke="#8c8c8a" stroke-width="0.9" fill="none"/>
<path d="M948.7,432.75 L983.1,419.15" stroke="#d4d4d2" stroke-width="0.8" fill="none"/>
<path d="M953.5,436.55 L953.5,448.75" stroke="#676767" stroke-width="1.15"/>
<path d="M956.1,435.51 L956.1,447.71" stroke="#676767" stroke-width="1.15"/>
<path d="M958.8,434.46 L958.8,446.66" stroke="#676767" stroke-width="1.15"/>
<path d="M961.4,433.42 L961.4,445.62" stroke="#676767" stroke-width="1.15"/>
<path d="M964.1,432.38 L964.1,444.58" stroke="#676767" stroke-width="1.15"/>
<path d="M966.7,431.33 L966.7,443.53" stroke="#676767" stroke-width="1.15"/>
<path d="M969.3,430.29 L969.3,442.49" stroke="#676767" stroke-width="1.15"/>
<path d="M972.0,429.25 L972.0,441.45" stroke="#676767" stroke-width="1.15"/>
<path d="M974.6,428.20 L974.6,440.40" stroke="#676767" stroke-width="1.15"/>
<path d="M977.3,427.16 L977.3,439.36" stroke="#676767" stroke-width="1.15"/>
<path d="M979.9,426.12 L979.9,438.32" stroke="#676767" stroke-width="1.15"/>
<path d="M948.7,456.67 L983.1,443.07 L983.1,467.48 L948.7,481.08 Z" fill="url(#clSide)"/>
<path d="M948.7,480.78 L983.1,467.18" stroke="#8c8c8a" stroke-width="0.9" fill="none"/>
<path d="M948.7,457.17 L983.1,443.57" stroke="#d4d4d2" stroke-width="0.8" fill="none"/>
<path d="M953.5,460.97 L953.5,473.17" stroke="#676767" stroke-width="1.15"/>
<path d="M956.1,459.93 L956.1,472.13" stroke="#676767" stroke-width="1.15"/>
<path d="M958.8,458.88 L958.8,471.08" stroke="#676767" stroke-width="1.15"/>
<path d="M961.4,457.84 L961.4,470.04" stroke="#676767" stroke-width="1.15"/>
<path d="M964.1,456.79 L964.1,468.99" stroke="#676767" stroke-width="1.15"/>
<path d="M966.7,455.75 L966.7,467.95" stroke="#676767" stroke-width="1.15"/>
<path d="M969.3,454.71 L969.3,466.91" stroke="#676767" stroke-width="1.15"/>
<path d="M972.0,453.66 L972.0,465.86" stroke="#676767" stroke-width="1.15"/>
<path d="M974.6,452.62 L974.6,464.82" stroke="#676767" stroke-width="1.15"/>
<path d="M977.3,451.58 L977.3,463.78" stroke="#676767" stroke-width="1.15"/>
<path d="M979.9,450.53 L979.9,462.73" stroke="#676767" stroke-width="1.15"/>
<path d="M948.7,481.08 L983.1,467.48 L983.1,491.90 L948.7,505.50 Z" fill="url(#clSide)"/>
<path d="M948.7,505.20 L983.1,491.60" stroke="#8c8c8a" stroke-width="0.9" fill="none"/>
<path d="M948.7,481.58 L983.1,467.98" stroke="#d4d4d2" stroke-width="0.8" fill="none"/>
<path d="M953.5,485.39 L953.5,497.59" stroke="#676767" stroke-width="1.15"/>
<path d="M956.1,484.34 L956.1,496.54" stroke="#676767" stroke-width="1.15"/>
<path d="M958.8,483.30 L958.8,495.50" stroke="#676767" stroke-width="1.15"/>
<path d="M961.4,482.25 L961.4,494.45" stroke="#676767" stroke-width="1.15"/>
<path d="M964.1,481.21 L964.1,493.41" stroke="#676767" stroke-width="1.15"/>
<path d="M966.7,480.17 L966.7,492.37" stroke="#676767" stroke-width="1.15"/>
<path d="M969.3,479.12 L969.3,491.32" stroke="#676767" stroke-width="1.15"/>
<path d="M972.0,478.08 L972.0,490.28" stroke="#676767" stroke-width="1.15"/>
<path d="M974.6,477.04 L974.6,489.24" stroke="#676767" stroke-width="1.15"/>
<path d="M977.3,475.99 L977.3,488.19" stroke="#676767" stroke-width="1.15"/>
<path d="M979.9,474.95 L979.9,487.15" stroke="#676767" stroke-width="1.15"/>
<g transform="matrix(1 0.1151 0 1 863.80 350.20)">
<rect x="0" y="0" width="41.70" height="24.24" fill="url(#mpFace)"/>
<rect x="0" y="0" width="41.70" height="1.1" fill="#f6f6f7"/>
<rect x="0" y="23.24" width="41.70" height="1" fill="#6f6f73"/>
<path d="M4.6,6.3 L2.2,6.3 Q1,6.3 1,7.5 L1,16 Q1,17.2 2.2,17.2 L4.6,17.2" fill="none" stroke="#6c6c70" stroke-width="1.05"/>
<path d="M36.1,7.4 L38.3,7.4 Q39.5,7.4 39.5,8.6 L39.5,16.6 Q39.5,17.8 38.3,17.8 L36.1,17.8" fill="none" stroke="#6c6c70" stroke-width="1.05"/>
<polygon points="25.94,17.73 22.63,21.04 17.97,21.04 14.66,17.73 14.66,13.07 17.97,9.76 22.63,9.76 25.94,13.07" fill="#b2b2b5"/>
<circle cx="20.3" cy="15.4" r="3.8" fill="#bfbfc2"/>
<rect x="6.6" y="7" width="3.9" height="7" fill="#9c9cd6"/>
<rect x="26.4" y="13" width="3.2" height="7.4" rx="1.1" fill="#141415"/>
<circle cx="28.4" cy="14.2" r="1.9" fill="#141415"/>
<rect x="30" y="3" width="7" height="3.1" rx="1.2" fill="#e01b1f" transform="rotate(6 33 4.5)"/>
</g>
<g transform="matrix(1 0.1151 0 1 863.80 374.44)">
<rect x="0" y="0" width="41.70" height="24.24" fill="url(#mpFace)"/>
<rect x="0" y="0" width="41.70" height="1.1" fill="#f6f6f7"/>
<rect x="0" y="23.24" width="41.70" height="1" fill="#6f6f73"/>
<path d="M4.6,6.3 L2.2,6.3 Q1,6.3 1,7.5 L1,16 Q1,17.2 2.2,17.2 L4.6,17.2" fill="none" stroke="#6c6c70" stroke-width="1.05"/>
<path d="M36.1,7.4 L38.3,7.4 Q39.5,7.4 39.5,8.6 L39.5,16.6 Q39.5,17.8 38.3,17.8 L36.1,17.8" fill="none" stroke="#6c6c70" stroke-width="1.05"/>
<polygon points="25.94,17.73 22.63,21.04 17.97,21.04 14.66,17.73 14.66,13.07 17.97,9.76 22.63,9.76 25.94,13.07" fill="#b2b2b5"/>
<circle cx="20.3" cy="15.4" r="3.8" fill="#bfbfc2"/>
<rect x="26.4" y="13" width="3.2" height="7.4" rx="1.1" fill="#141415"/>
<circle cx="28.4" cy="14.2" r="1.9" fill="#141415"/>
<rect x="30.6" y="0.8" width="3" height="7.4" rx="1.1" fill="#e01b1f"/>
<circle cx="32.8" cy="6.8" r="1.8" fill="#e01b1f"/>
</g>
<g transform="matrix(1 0.1151 0 1 863.80 398.68)">
<rect x="0" y="0" width="41.70" height="24.24" fill="url(#mpFace)"/>
<rect x="0" y="0" width="41.70" height="1.1" fill="#f6f6f7"/>
<rect x="0" y="23.24" width="41.70" height="1" fill="#6f6f73"/>
<path d="M4.6,6.3 L2.2,6.3 Q1,6.3 1,7.5 L1,16 Q1,17.2 2.2,17.2 L4.6,17.2" fill="none" stroke="#6c6c70" stroke-width="1.05"/>
<path d="M36.1,7.4 L38.3,7.4 Q39.5,7.4 39.5,8.6 L39.5,16.6 Q39.5,17.8 38.3,17.8 L36.1,17.8" fill="none" stroke="#6c6c70" stroke-width="1.05"/>
<polygon points="25.94,17.73 22.63,21.04 17.97,21.04 14.66,17.73 14.66,13.07 17.97,9.76 22.63,9.76 25.94,13.07" fill="#b2b2b5"/>
<circle cx="20.3" cy="15.4" r="3.8" fill="#bfbfc2"/>
<rect x="26.4" y="13" width="3.2" height="7.4" rx="1.1" fill="#141415"/>
<circle cx="28.4" cy="14.2" r="1.9" fill="#141415"/>
<rect x="30.6" y="0.8" width="3" height="7.4" rx="1.1" fill="#e01b1f"/>
<circle cx="32.8" cy="6.8" r="1.8" fill="#e01b1f"/>
</g>
<g transform="matrix(1 0.1151 0 1 863.80 422.92)">
<rect x="0" y="0" width="41.70" height="24.24" fill="url(#mpFace)"/>
<rect x="0" y="0" width="41.70" height="1.1" fill="#f6f6f7"/>
<rect x="0" y="23.24" width="41.70" height="1" fill="#6f6f73"/>
<path d="M4.6,6.3 L2.2,6.3 Q1,6.3 1,7.5 L1,16 Q1,17.2 2.2,17.2 L4.6,17.2" fill="none" stroke="#6c6c70" stroke-width="1.05"/>
<path d="M36.1,7.4 L38.3,7.4 Q39.5,7.4 39.5,8.6 L39.5,16.6 Q39.5,17.8 38.3,17.8 L36.1,17.8" fill="none" stroke="#6c6c70" stroke-width="1.05"/>
<polygon points="25.94,17.73 22.63,21.04 17.97,21.04 14.66,17.73 14.66,13.07 17.97,9.76 22.63,9.76 25.94,13.07" fill="#b2b2b5"/>
<circle cx="20.3" cy="15.4" r="3.8" fill="#bfbfc2"/>
<rect x="26.4" y="13" width="3.2" height="7.4" rx="1.1" fill="#141415"/>
<circle cx="28.4" cy="14.2" r="1.9" fill="#141415"/>
<rect x="30.6" y="0.8" width="3" height="7.4" rx="1.1" fill="#e01b1f"/>
<circle cx="32.8" cy="6.8" r="1.8" fill="#e01b1f"/>
</g>
<g transform="matrix(1 0.1151 0 1 863.80 447.16)">
<rect x="0" y="0" width="41.70" height="24.24" fill="url(#mpFace)"/>
<rect x="0" y="0" width="41.70" height="1.1" fill="#f6f6f7"/>
<rect x="0" y="23.24" width="41.70" height="1" fill="#6f6f73"/>
<path d="M4.6,6.3 L2.2,6.3 Q1,6.3 1,7.5 L1,16 Q1,17.2 2.2,17.2 L4.6,17.2" fill="none" stroke="#6c6c70" stroke-width="1.05"/>
<path d="M36.1,7.4 L38.3,7.4 Q39.5,7.4 39.5,8.6 L39.5,16.6 Q39.5,17.8 38.3,17.8 L36.1,17.8" fill="none" stroke="#6c6c70" stroke-width="1.05"/>
<polygon points="25.94,17.73 22.63,21.04 17.97,21.04 14.66,17.73 14.66,13.07 17.97,9.76 22.63,9.76 25.94,13.07" fill="#b2b2b5"/>
<circle cx="20.3" cy="15.4" r="3.8" fill="#bfbfc2"/>
<rect x="26.4" y="13" width="3.2" height="7.4" rx="1.1" fill="#141415"/>
<circle cx="28.4" cy="14.2" r="1.9" fill="#141415"/>
<rect x="30.6" y="0.8" width="3" height="7.4" rx="1.1" fill="#e01b1f"/>
<circle cx="32.8" cy="6.8" r="1.8" fill="#e01b1f"/>
</g>
<g transform="matrix(1 0.1151 0 1 863.80 471.40)">
<rect x="0" y="0" width="41.70" height="24.24" fill="url(#mpFace)"/>
<rect x="0" y="0" width="41.70" height="1.1" fill="#f6f6f7"/>
<rect x="0" y="23.24" width="41.70" height="1" fill="#6f6f73"/>
<path d="M4.6,6.3 L2.2,6.3 Q1,6.3 1,7.5 L1,16 Q1,17.2 2.2,17.2 L4.6,17.2" fill="none" stroke="#6c6c70" stroke-width="1.05"/>
<path d="M36.1,7.4 L38.3,7.4 Q39.5,7.4 39.5,8.6 L39.5,16.6 Q39.5,17.8 38.3,17.8 L36.1,17.8" fill="none" stroke="#6c6c70" stroke-width="1.05"/>
<polygon points="25.94,17.73 22.63,21.04 17.97,21.04 14.66,17.73 14.66,13.07 17.97,9.76 22.63,9.76 25.94,13.07" fill="#b2b2b5"/>
<circle cx="20.3" cy="15.4" r="3.8" fill="#bfbfc2"/>
<rect x="26.4" y="13" width="3.2" height="7.4" rx="1.1" fill="#141415"/>
<circle cx="28.4" cy="14.2" r="1.9" fill="#141415"/>
<rect x="30.6" y="0.8" width="3" height="7.4" rx="1.1" fill="#e01b1f"/>
<circle cx="32.8" cy="6.8" r="1.8" fill="#e01b1f"/>
</g>
<g transform="matrix(1 0.1151 0 1 863.80 495.64)">
<rect x="0" y="0" width="41.70" height="24.24" fill="url(#mpFace)"/>
<rect x="0" y="0" width="41.70" height="1.1" fill="#f6f6f7"/>
<rect x="0" y="23.24" width="41.70" height="1" fill="#6f6f73"/>
<path d="M4.6,6.3 L2.2,6.3 Q1,6.3 1,7.5 L1,16 Q1,17.2 2.2,17.2 L4.6,17.2" fill="none" stroke="#6c6c70" stroke-width="1.05"/>
<path d="M36.1,7.4 L38.3,7.4 Q39.5,7.4 39.5,8.6 L39.5,16.6 Q39.5,17.8 38.3,17.8 L36.1,17.8" fill="none" stroke="#6c6c70" stroke-width="1.05"/>
<polygon points="25.94,17.73 22.63,21.04 17.97,21.04 14.66,17.73 14.66,13.07 17.97,9.76 22.63,9.76 25.94,13.07" fill="#b2b2b5"/>
<circle cx="20.3" cy="15.4" r="3.8" fill="#bfbfc2"/>
<rect x="26.4" y="13" width="3.2" height="7.4" rx="1.1" fill="#141415"/>
<circle cx="28.4" cy="14.2" r="1.9" fill="#141415"/>
<rect x="30.6" y="0.8" width="3" height="7.4" rx="1.1" fill="#e01b1f"/>
<circle cx="32.8" cy="6.8" r="1.8" fill="#e01b1f"/>
</g>
<g transform="matrix(1 0.0926 0 1 905.50 355.00)">
<rect x="0" y="0" width="43.20" height="24.24" fill="url(#mpFace)"/>
<rect x="0" y="0" width="43.20" height="1.1" fill="#f6f6f7"/>
<rect x="0" y="23.24" width="43.20" height="1" fill="#6f6f73"/>
<path d="M4.6,6.3 L2.2,6.3 Q1,6.3 1,7.5 L1,16 Q1,17.2 2.2,17.2 L4.6,17.2" fill="none" stroke="#6c6c70" stroke-width="1.05"/>
<path d="M37.6,7.4 L39.8,7.4 Q41.0,7.4 41.0,8.6 L41.0,16.6 Q41.0,17.8 39.8,17.8 L37.6,17.8" fill="none" stroke="#6c6c70" stroke-width="1.05"/>
<polygon points="26.84,17.73 23.53,21.04 18.87,21.04 15.56,17.73 15.56,13.07 18.87,9.76 23.53,9.76 26.84,13.07" fill="#b2b2b5"/>
<circle cx="21.2" cy="15.4" r="3.8" fill="#bfbfc2"/>
<rect x="7.4" y="7" width="3.9" height="7" fill="#9c9cd6"/>
<rect x="26" y="8.6" width="3.2" height="8.4" rx="1.1" fill="#141415"/>
<circle cx="28.6" cy="15.6" r="1.9" fill="#141415"/>
<rect x="31.6" y="3.4" width="3" height="8.6" rx="1.2" fill="#e01b1f"/>
<circle cx="33.4" cy="5" r="1.9" fill="#e01b1f"/>
</g>
<g transform="matrix(1 0.0926 0 1 905.50 379.24)">
<rect x="0" y="0" width="43.20" height="24.24" fill="url(#mpFace)"/>
<rect x="0" y="0" width="43.20" height="1.1" fill="#f6f6f7"/>
<rect x="0" y="23.24" width="43.20" height="1" fill="#6f6f73"/>
<path d="M4.6,6.3 L2.2,6.3 Q1,6.3 1,7.5 L1,16 Q1,17.2 2.2,17.2 L4.6,17.2" fill="none" stroke="#6c6c70" stroke-width="1.05"/>
<path d="M37.6,7.4 L39.8,7.4 Q41.0,7.4 41.0,8.6 L41.0,16.6 Q41.0,17.8 39.8,17.8 L37.6,17.8" fill="none" stroke="#6c6c70" stroke-width="1.05"/>
<polygon points="26.84,17.73 23.53,21.04 18.87,21.04 15.56,17.73 15.56,13.07 18.87,9.76 23.53,9.76 26.84,13.07" fill="#b2b2b5"/>
<circle cx="21.2" cy="15.4" r="3.8" fill="#bfbfc2"/>
<rect x="26" y="8.6" width="3.2" height="8.4" rx="1.1" fill="#141415"/>
<circle cx="28.6" cy="15.6" r="1.9" fill="#141415"/>
<rect x="31.6" y="3.4" width="3" height="8.6" rx="1.2" fill="#e01b1f"/>
<circle cx="33.4" cy="5" r="1.9" fill="#e01b1f"/>
</g>
<g transform="matrix(1 0.0926 0 1 905.50 403.48)">
<rect x="0" y="0" width="43.20" height="24.24" fill="url(#mpFace)"/>
<rect x="0" y="0" width="43.20" height="1.1" fill="#f6f6f7"/>
<rect x="0" y="23.24" width="43.20" height="1" fill="#6f6f73"/>
<path d="M4.6,6.3 L2.2,6.3 Q1,6.3 1,7.5 L1,16 Q1,17.2 2.2,17.2 L4.6,17.2" fill="none" stroke="#6c6c70" stroke-width="1.05"/>
<path d="M37.6,7.4 L39.8,7.4 Q41.0,7.4 41.0,8.6 L41.0,16.6 Q41.0,17.8 39.8,17.8 L37.6,17.8" fill="none" stroke="#6c6c70" stroke-width="1.05"/>
<polygon points="26.84,17.73 23.53,21.04 18.87,21.04 15.56,17.73 15.56,13.07 18.87,9.76 23.53,9.76 26.84,13.07" fill="#b2b2b5"/>
<circle cx="21.2" cy="15.4" r="3.8" fill="#bfbfc2"/>
<rect x="26" y="8.6" width="3.2" height="8.4" rx="1.1" fill="#141415"/>
<circle cx="28.6" cy="15.6" r="1.9" fill="#141415"/>
<rect x="31.6" y="3.4" width="3" height="8.6" rx="1.2" fill="#e01b1f"/>
<circle cx="33.4" cy="5" r="1.9" fill="#e01b1f"/>
</g>
<g transform="matrix(1 0.0926 0 1 905.50 427.72)">
<rect x="0" y="0" width="43.20" height="24.24" fill="url(#mpFace)"/>
<rect x="0" y="0" width="43.20" height="1.1" fill="#f6f6f7"/>
<rect x="0" y="23.24" width="43.20" height="1" fill="#6f6f73"/>
<path d="M4.6,6.3 L2.2,6.3 Q1,6.3 1,7.5 L1,16 Q1,17.2 2.2,17.2 L4.6,17.2" fill="none" stroke="#6c6c70" stroke-width="1.05"/>
<path d="M37.6,7.4 L39.8,7.4 Q41.0,7.4 41.0,8.6 L41.0,16.6 Q41.0,17.8 39.8,17.8 L37.6,17.8" fill="none" stroke="#6c6c70" stroke-width="1.05"/>
<polygon points="26.84,17.73 23.53,21.04 18.87,21.04 15.56,17.73 15.56,13.07 18.87,9.76 23.53,9.76 26.84,13.07" fill="#b2b2b5"/>
<circle cx="21.2" cy="15.4" r="3.8" fill="#bfbfc2"/>
<rect x="26" y="8.6" width="3.2" height="8.4" rx="1.1" fill="#141415"/>
<circle cx="28.6" cy="15.6" r="1.9" fill="#141415"/>
<rect x="31.6" y="3.4" width="3" height="8.6" rx="1.2" fill="#e01b1f"/>
<circle cx="33.4" cy="5" r="1.9" fill="#e01b1f"/>
</g>
<g transform="matrix(1 0.0926 0 1 905.50 451.96)">
<rect x="0" y="0" width="43.20" height="24.24" fill="url(#mpFace)"/>
<rect x="0" y="0" width="43.20" height="1.1" fill="#f6f6f7"/>
<rect x="0" y="23.24" width="43.20" height="1" fill="#6f6f73"/>
<path d="M4.6,6.3 L2.2,6.3 Q1,6.3 1,7.5 L1,16 Q1,17.2 2.2,17.2 L4.6,17.2" fill="none" stroke="#6c6c70" stroke-width="1.05"/>
<path d="M37.6,7.4 L39.8,7.4 Q41.0,7.4 41.0,8.6 L41.0,16.6 Q41.0,17.8 39.8,17.8 L37.6,17.8" fill="none" stroke="#6c6c70" stroke-width="1.05"/>
<polygon points="26.84,17.73 23.53,21.04 18.87,21.04 15.56,17.73 15.56,13.07 18.87,9.76 23.53,9.76 26.84,13.07" fill="#b2b2b5"/>
<circle cx="21.2" cy="15.4" r="3.8" fill="#bfbfc2"/>
<rect x="26" y="8.6" width="3.2" height="8.4" rx="1.1" fill="#141415"/>
<circle cx="28.6" cy="15.6" r="1.9" fill="#141415"/>
<rect x="31.6" y="3.4" width="3" height="8.6" rx="1.2" fill="#e01b1f"/>
<circle cx="33.4" cy="5" r="1.9" fill="#e01b1f"/>
</g>
<g transform="matrix(1 0.0926 0 1 905.50 476.20)">
<rect x="0" y="0" width="43.20" height="24.24" fill="url(#mpFace)"/>
<rect x="0" y="0" width="43.20" height="1.1" fill="#f6f6f7"/>
<rect x="0" y="23.24" width="43.20" height="1" fill="#6f6f73"/>
<path d="M4.6,6.3 L2.2,6.3 Q1,6.3 1,7.5 L1,16 Q1,17.2 2.2,17.2 L4.6,17.2" fill="none" stroke="#6c6c70" stroke-width="1.05"/>
<path d="M37.6,7.4 L39.8,7.4 Q41.0,7.4 41.0,8.6 L41.0,16.6 Q41.0,17.8 39.8,17.8 L37.6,17.8" fill="none" stroke="#6c6c70" stroke-width="1.05"/>
<polygon points="26.84,17.73 23.53,21.04 18.87,21.04 15.56,17.73 15.56,13.07 18.87,9.76 23.53,9.76 26.84,13.07" fill="#b2b2b5"/>
<circle cx="21.2" cy="15.4" r="3.8" fill="#bfbfc2"/>
<rect x="26" y="8.6" width="3.2" height="8.4" rx="1.1" fill="#141415"/>
<circle cx="28.6" cy="15.6" r="1.9" fill="#141415"/>
<rect x="31.6" y="3.4" width="3" height="8.6" rx="1.2" fill="#e01b1f"/>
<circle cx="33.4" cy="5" r="1.9" fill="#e01b1f"/>
</g>
<g transform="matrix(1 0.0926 0 1 905.50 500.44)">
<rect x="0" y="0" width="43.20" height="24.24" fill="url(#mpFace)"/>
<rect x="0" y="0" width="43.20" height="1.1" fill="#f6f6f7"/>
<rect x="0" y="23.24" width="43.20" height="1" fill="#6f6f73"/>
<rect x="6.0" y="3.2" width="4.2" height="1.9" rx="0.9" fill="#35d24a"/>
<rect x="11.5" y="3.8" width="4.2" height="1.9" rx="0.9" fill="#35d24a"/>
<rect x="6.0" y="8.0" width="4.2" height="1.9" rx="0.9" fill="#35d24a"/>
<rect x="11.5" y="8.6" width="4.2" height="1.9" rx="0.9" fill="#35d24a"/>
<rect x="8.5" y="13.0" width="4.2" height="1.9" rx="0.9" fill="#35d24a"/>
<rect x="17.5" y="8" width="5.2" height="9" fill="#8c8d90"/><rect x="18.6" y="9.6" width="3" height="5.4" fill="#c8c9cb"/>
<circle cx="26.0" cy="6.2" r="1.5" fill="#35d24a"/>
<circle cx="31.5" cy="6.6" r="1.5" fill="#35d24a"/>
<circle cx="26.0" cy="11.6" r="1.5" fill="#c9c9cb"/>
<circle cx="31.5" cy="12.0" r="1.5" fill="#e8e89a"/>
<rect x="5" y="17" width="3.6" height="6.8" rx="1" fill="#161616"/>
<rect x="12.6" y="17.4" width="3.4" height="7.8" rx="1" fill="#d81f22"/>
<rect x="23.5" y="18" width="2.8" height="7" rx="1" fill="#d98a78"/>
<rect x="30.5" y="18.4" width="2.8" height="7" rx="1" fill="#d98a78"/>
<path d="M1.2,8 L0.6,8 L0.6,17 L3,17" fill="none" stroke="#707074" stroke-width="0.9"/>
<path d="M37,9 L39.4,9 L39.4,18 L37,18" fill="none" stroke="#707074" stroke-width="0.9"/>
</g>
<path d="M905.5,355.0 L905.5,524.7" stroke="#6e6e70" stroke-width="0.9"/>
<g transform="matrix(1 0.1151 0 1 863.80 350.20)">
<rect x="6.6" y="14.4" width="3.9" height="15.4" fill="#9c9cd6"/>
<rect x="5.8" y="12.9" width="5.4" height="1.7" fill="#56b86a"/>
<rect x="5.8" y="5.4" width="5.4" height="1.7" fill="#56b86a"/>
<path d="M28,20.2 Q28,21.8 29.6,21.8 L30.8,21.8 Q32.2,21.8 32.2,23.2 L32.2,25.4" fill="none" stroke="#e2ab7c" stroke-width="1.2"/>
</g>
<g transform="matrix(1 0.1151 0 1 863.80 374.44)">
<rect x="6.6" y="14.4" width="3.9" height="15.4" fill="#9c9cd6"/>
<rect x="5.8" y="12.9" width="5.4" height="1.7" fill="#56b86a"/>
<rect x="5.8" y="5.4" width="5.4" height="1.7" fill="#56b86a"/>
<path d="M28,20.2 Q28,21.8 29.6,21.8 L30.8,21.8 Q32.2,21.8 32.2,23.2 L32.2,25.4" fill="none" stroke="#e2ab7c" stroke-width="1.2"/>
</g>
<g transform="matrix(1 0.1151 0 1 863.80 398.68)">
<rect x="6.6" y="14.4" width="3.9" height="15.4" fill="#9c9cd6"/>
<rect x="5.8" y="12.9" width="5.4" height="1.7" fill="#56b86a"/>
<rect x="5.8" y="5.4" width="5.4" height="1.7" fill="#56b86a"/>
<path d="M28,20.2 Q28,21.8 29.6,21.8 L30.8,21.8 Q32.2,21.8 32.2,23.2 L32.2,25.4" fill="none" stroke="#e2ab7c" stroke-width="1.2"/>
</g>
<g transform="matrix(1 0.1151 0 1 863.80 422.92)">
<rect x="6.6" y="14.4" width="3.9" height="15.4" fill="#9c9cd6"/>
<rect x="5.8" y="12.9" width="5.4" height="1.7" fill="#56b86a"/>
<rect x="5.8" y="5.4" width="5.4" height="1.7" fill="#56b86a"/>
<path d="M28,20.2 Q28,21.8 29.6,21.8 L30.8,21.8 Q32.2,21.8 32.2,23.2 L32.2,25.4" fill="none" stroke="#e2ab7c" stroke-width="1.2"/>
</g>
<g transform="matrix(1 0.1151 0 1 863.80 447.16)">
<rect x="6.6" y="14.4" width="3.9" height="15.4" fill="#9c9cd6"/>
<rect x="5.8" y="12.9" width="5.4" height="1.7" fill="#56b86a"/>
<rect x="5.8" y="5.4" width="5.4" height="1.7" fill="#56b86a"/>
<path d="M28,20.2 Q28,21.8 29.6,21.8 L30.8,21.8 Q32.2,21.8 32.2,23.2 L32.2,25.4" fill="none" stroke="#e2ab7c" stroke-width="1.2"/>
</g>
<g transform="matrix(1 0.1151 0 1 863.80 471.40)">
<rect x="6.6" y="14.4" width="3.9" height="15.4" fill="#9c9cd6"/>
<rect x="5.8" y="12.9" width="5.4" height="1.7" fill="#56b86a"/>
<rect x="5.8" y="5.4" width="5.4" height="1.7" fill="#56b86a"/>
<path d="M28,20.2 Q28,21.8 29.6,21.8 L30.8,21.8 Q32.2,21.8 32.2,23.2 L32.2,25.4" fill="none" stroke="#e2ab7c" stroke-width="1.2"/>
</g>
<g transform="matrix(1 0.1151 0 1 863.80 495.64)">
<rect x="5.8" y="12.9" width="5.4" height="1.7" fill="#56b86a"/>
<rect x="5.8" y="5.4" width="5.4" height="1.7" fill="#56b86a"/>
</g>
<g transform="matrix(1 0.0926 0 1 905.50 355.00)">
<rect x="7.4" y="14.4" width="3.9" height="15.4" fill="#9c9cd6"/>
<rect x="6.6" y="12.9" width="5.4" height="1.7" fill="#56b86a"/>
<rect x="6.6" y="5.4" width="5.4" height="1.7" fill="#56b86a"/>
<path d="M32.9,11.8 L32.9,19 Q32.9,20.6 31.2,21.4 L29.6,22.2 Q28,23 28,24.6 L28,33.0" fill="none" stroke="#e2ab7c" stroke-width="1.2"/>
</g>
<g transform="matrix(1 0.0926 0 1 905.50 379.24)">
<rect x="7.4" y="14.4" width="3.9" height="15.4" fill="#9c9cd6"/>
<rect x="6.6" y="12.9" width="5.4" height="1.7" fill="#56b86a"/>
<rect x="6.6" y="5.4" width="5.4" height="1.7" fill="#56b86a"/>
<path d="M32.9,11.8 L32.9,19 Q32.9,20.6 31.2,21.4 L29.6,22.2 Q28,23 28,24.6 L28,33.0" fill="none" stroke="#e2ab7c" stroke-width="1.2"/>
</g>
<g transform="matrix(1 0.0926 0 1 905.50 403.48)">
<rect x="7.4" y="14.4" width="3.9" height="15.4" fill="#9c9cd6"/>
<rect x="6.6" y="12.9" width="5.4" height="1.7" fill="#56b86a"/>
<rect x="6.6" y="5.4" width="5.4" height="1.7" fill="#56b86a"/>
<path d="M32.9,11.8 L32.9,19 Q32.9,20.6 31.2,21.4 L29.6,22.2 Q28,23 28,24.6 L28,33.0" fill="none" stroke="#e2ab7c" stroke-width="1.2"/>
</g>
<g transform="matrix(1 0.0926 0 1 905.50 427.72)">
<rect x="7.4" y="14.4" width="3.9" height="15.4" fill="#9c9cd6"/>
<rect x="6.6" y="12.9" width="5.4" height="1.7" fill="#56b86a"/>
<rect x="6.6" y="5.4" width="5.4" height="1.7" fill="#56b86a"/>
<path d="M32.9,11.8 L32.9,19 Q32.9,20.6 31.2,21.4 L29.6,22.2 Q28,23 28,24.6 L28,33.0" fill="none" stroke="#e2ab7c" stroke-width="1.2"/>
</g>
<g transform="matrix(1 0.0926 0 1 905.50 451.96)">
<rect x="7.4" y="14.4" width="3.9" height="15.4" fill="#9c9cd6"/>
<rect x="6.6" y="12.9" width="5.4" height="1.7" fill="#56b86a"/>
<rect x="6.6" y="5.4" width="5.4" height="1.7" fill="#56b86a"/>
<path d="M32.9,11.8 L32.9,19 Q32.9,20.6 31.2,21.4 L29.6,22.2 Q28,23 28,24.6 L28,33.0" fill="none" stroke="#e2ab7c" stroke-width="1.2"/>
</g>
<g transform="matrix(1 0.0926 0 1 905.50 476.20)">
<rect x="7.4" y="14.4" width="3.9" height="15.4" fill="#9c9cd6"/>
<rect x="6.6" y="12.9" width="5.4" height="1.7" fill="#56b86a"/>
<rect x="6.6" y="5.4" width="5.4" height="1.7" fill="#56b86a"/>
</g>
<g transform="matrix(1 0.0926 0 1 905.50 500.44)">
</g>
<path d="M870.4,361.6 L915.5,367" stroke="#9c9cd6" stroke-width="3.8" fill="none"/>
<path d="M900.5,358.8 L929.6,362.4 Q933.2,362.8 933.6,366.4" stroke="#e2ab7c" stroke-width="1.2" fill="none"/>
<path d="M891.8,521.5 L891.8,528 Q891.8,531.6 895.4,532 L908.4,533.4 Q912,533.8 912,530 L912,526" stroke="#dfa777" stroke-width="1.4" fill="none"/>
<path d="M919.8,528 L919.8,533 Q919.8,536.4 923.4,536.8 L942,538.6 Q945.8,539 945.8,535 L945.8,506 Q945.8,503.4 943.4,502.2 L940.6,500.8 Q938.4,499.6 938.4,497 L938.4,491" stroke="#dfa777" stroke-width="1.4" fill="none"/>
</g>
<!-- cabinet.svg -->
<g>
<path d="M655.6,329 L706.2,311 L703.4,503 L655.6,522.5 Z" fill="url(#cabSide)"/>
<path d="M667.9,516.2 L681.8,509.9 L681.8,515.2 L667.9,521.9 Z" fill="#c5c6c2"/>
<path d="M692.4,505.1 L700.1,501.7 L700.1,507 L692.4,510.9 Z" fill="#c5c6c2"/>
<path d="M657.8,528.6 L703,507.2 L703,499.8" stroke="#bcbdb9" stroke-width="1.1" fill="none"/>
<path d="M656.4,521.5 L656.4,530.4" stroke="#dcdddf" stroke-width="1.6" fill="none"/>
<path d="M552.6,317 L655.6,329.6 L655.6,530.6 L552.6,516.8 Z" fill="#eeeff1"/>
<path d="M559.6,325.6 L649.6,336.4 L649.6,521.6 L559.6,509.6 Z" fill="url(#cabIn)"/>
<path d="M559.6,325.6 L649.6,336.4 L649.6,338.4 L559.6,327.6 Z" fill="#c3c5c9"/>
<path d="M559.6,325.6 L562,326 L562,510 L559.6,509.6 Z" fill="#cfd0d3"/>
<path d="M591,328.6 L608.8,330.8 L608.8,334.4 L591,332.2 Z" fill="#454649"/>
<path d="M614,331.6 L632.8,333.9 L632.8,337.6 L614,335.3 Z" fill="#454649"/>
<path d="M574,500.4 L609.6,504.8 L609.6,507.4 L574,503 Z M615.6,506.4 L648.7,510.6 L648.7,513.6 L615.6,509.4 Z" fill="#404143"/>
<path d="M552.6,508.4 L655.6,522 L655.6,530.6 L552.6,516.8 Z" fill="#f5f5f6"/>
<path d="M560,512.2 L572,513.8 L572,516.4 L560,514.8 Z" fill="#c9cacc"/>
<path d="M553.4,508.6 L553.4,516.8 M655,522 L655,530.4" stroke="#bfc0c2" stroke-width="0.8"/>
<g clip-path="url(#cabclip)">
<g transform="matrix(0.9600 0.1152 0 0.9880 571.20 331.10)">
<rect x="0" y="0" width="41.70" height="24.24" fill="url(#mpFace)"/>
<rect x="0" y="0" width="41.70" height="1.1" fill="#f6f6f7"/>
<rect x="0" y="23.24" width="41.70" height="1" fill="#6f6f73"/>
<path d="M4.6,6.3 L2.2,6.3 Q1,6.3 1,7.5 L1,16 Q1,17.2 2.2,17.2 L4.6,17.2" fill="none" stroke="#6c6c70" stroke-width="1.05"/>
<path d="M36.1,7.4 L38.3,7.4 Q39.5,7.4 39.5,8.6 L39.5,16.6 Q39.5,17.8 38.3,17.8 L36.1,17.8" fill="none" stroke="#6c6c70" stroke-width="1.05"/>
<polygon points="25.94,17.73 22.63,21.04 17.97,21.04 14.66,17.73 14.66,13.07 17.97,9.76 22.63,9.76 25.94,13.07" fill="#b2b2b5"/>
<circle cx="20.3" cy="15.4" r="3.8" fill="#bfbfc2"/>
<rect x="6.6" y="7" width="3.9" height="7" fill="#9c9cd6"/>
<rect x="26.4" y="13" width="3.2" height="7.4" rx="1.1" fill="#141415"/>
<circle cx="28.4" cy="14.2" r="1.9" fill="#141415"/>
<rect x="30" y="3" width="7" height="3.1" rx="1.2" fill="#e01b1f" transform="rotate(6 33 4.5)"/>
</g>
<g transform="matrix(0.9600 0.1152 0 0.9880 571.20 355.05)">
<rect x="0" y="0" width="41.70" height="24.24" fill="url(#mpFace)"/>
<rect x="0" y="0" width="41.70" height="1.1" fill="#f6f6f7"/>
<rect x="0" y="23.24" width="41.70" height="1" fill="#6f6f73"/>
<path d="M4.6,6.3 L2.2,6.3 Q1,6.3 1,7.5 L1,16 Q1,17.2 2.2,17.2 L4.6,17.2" fill="none" stroke="#6c6c70" stroke-width="1.05"/>
<path d="M36.1,7.4 L38.3,7.4 Q39.5,7.4 39.5,8.6 L39.5,16.6 Q39.5,17.8 38.3,17.8 L36.1,17.8" fill="none" stroke="#6c6c70" stroke-width="1.05"/>
<polygon points="25.94,17.73 22.63,21.04 17.97,21.04 14.66,17.73 14.66,13.07 17.97,9.76 22.63,9.76 25.94,13.07" fill="#b2b2b5"/>
<circle cx="20.3" cy="15.4" r="3.8" fill="#bfbfc2"/>
<rect x="26.4" y="13" width="3.2" height="7.4" rx="1.1" fill="#141415"/>
<circle cx="28.4" cy="14.2" r="1.9" fill="#141415"/>
<rect x="30.6" y="0.8" width="3" height="7.4" rx="1.1" fill="#e01b1f"/>
<circle cx="32.8" cy="6.8" r="1.8" fill="#e01b1f"/>
</g>
<g transform="matrix(0.9600 0.1152 0 0.9880 571.20 379.00)">
<rect x="0" y="0" width="41.70" height="24.24" fill="url(#mpFace)"/>
<rect x="0" y="0" width="41.70" height="1.1" fill="#f6f6f7"/>
<rect x="0" y="23.24" width="41.70" height="1" fill="#6f6f73"/>
<path d="M4.6,6.3 L2.2,6.3 Q1,6.3 1,7.5 L1,16 Q1,17.2 2.2,17.2 L4.6,17.2" fill="none" stroke="#6c6c70" stroke-width="1.05"/>
<path d="M36.1,7.4 L38.3,7.4 Q39.5,7.4 39.5,8.6 L39.5,16.6 Q39.5,17.8 38.3,17.8 L36.1,17.8" fill="none" stroke="#6c6c70" stroke-width="1.05"/>
<polygon points="25.94,17.73 22.63,21.04 17.97,21.04 14.66,17.73 14.66,13.07 17.97,9.76 22.63,9.76 25.94,13.07" fill="#b2b2b5"/>
<circle cx="20.3" cy="15.4" r="3.8" fill="#bfbfc2"/>
<rect x="26.4" y="13" width="3.2" height="7.4" rx="1.1" fill="#141415"/>
<circle cx="28.4" cy="14.2" r="1.9" fill="#141415"/>
<rect x="30.6" y="0.8" width="3" height="7.4" rx="1.1" fill="#e01b1f"/>
<circle cx="32.8" cy="6.8" r="1.8" fill="#e01b1f"/>
</g>
<g transform="matrix(0.9600 0.1152 0 0.9880 571.20 402.95)">
<rect x="0" y="0" width="41.70" height="24.24" fill="url(#mpFace)"/>
<rect x="0" y="0" width="41.70" height="1.1" fill="#f6f6f7"/>
<rect x="0" y="23.24" width="41.70" height="1" fill="#6f6f73"/>
<path d="M4.6,6.3 L2.2,6.3 Q1,6.3 1,7.5 L1,16 Q1,17.2 2.2,17.2 L4.6,17.2" fill="none" stroke="#6c6c70" stroke-width="1.05"/>
<path d="M36.1,7.4 L38.3,7.4 Q39.5,7.4 39.5,8.6 L39.5,16.6 Q39.5,17.8 38.3,17.8 L36.1,17.8" fill="none" stroke="#6c6c70" stroke-width="1.05"/>
<polygon points="25.94,17.73 22.63,21.04 17.97,21.04 14.66,17.73 14.66,13.07 17.97,9.76 22.63,9.76 25.94,13.07" fill="#b2b2b5"/>
<circle cx="20.3" cy="15.4" r="3.8" fill="#bfbfc2"/>
<rect x="26.4" y="13" width="3.2" height="7.4" rx="1.1" fill="#141415"/>
<circle cx="28.4" cy="14.2" r="1.9" fill="#141415"/>
<rect x="30.6" y="0.8" width="3" height="7.4" rx="1.1" fill="#e01b1f"/>
<circle cx="32.8" cy="6.8" r="1.8" fill="#e01b1f"/>
</g>
<g transform="matrix(0.9600 0.1152 0 0.9880 571.20 426.90)">
<rect x="0" y="0" width="41.70" height="24.24" fill="url(#mpFace)"/>
<rect x="0" y="0" width="41.70" height="1.1" fill="#f6f6f7"/>
<rect x="0" y="23.24" width="41.70" height="1" fill="#6f6f73"/>
<path d="M4.6,6.3 L2.2,6.3 Q1,6.3 1,7.5 L1,16 Q1,17.2 2.2,17.2 L4.6,17.2" fill="none" stroke="#6c6c70" stroke-width="1.05"/>
<path d="M36.1,7.4 L38.3,7.4 Q39.5,7.4 39.5,8.6 L39.5,16.6 Q39.5,17.8 38.3,17.8 L36.1,17.8" fill="none" stroke="#6c6c70" stroke-width="1.05"/>
<polygon points="25.94,17.73 22.63,21.04 17.97,21.04 14.66,17.73 14.66,13.07 17.97,9.76 22.63,9.76 25.94,13.07" fill="#b2b2b5"/>
<circle cx="20.3" cy="15.4" r="3.8" fill="#bfbfc2"/>
<rect x="26.4" y="13" width="3.2" height="7.4" rx="1.1" fill="#141415"/>
<circle cx="28.4" cy="14.2" r="1.9" fill="#141415"/>
<rect x="30.6" y="0.8" width="3" height="7.4" rx="1.1" fill="#e01b1f"/>
<circle cx="32.8" cy="6.8" r="1.8" fill="#e01b1f"/>
</g>
<g transform="matrix(0.9600 0.1152 0 0.9880 571.20 450.85)">
<rect x="0" y="0" width="41.70" height="24.24" fill="url(#mpFace)"/>
<rect x="0" y="0" width="41.70" height="1.1" fill="#f6f6f7"/>
<rect x="0" y="23.24" width="41.70" height="1" fill="#6f6f73"/>
<path d="M4.6,6.3 L2.2,6.3 Q1,6.3 1,7.5 L1,16 Q1,17.2 2.2,17.2 L4.6,17.2" fill="none" stroke="#6c6c70" stroke-width="1.05"/>
<path d="M36.1,7.4 L38.3,7.4 Q39.5,7.4 39.5,8.6 L39.5,16.6 Q39.5,17.8 38.3,17.8 L36.1,17.8" fill="none" stroke="#6c6c70" stroke-width="1.05"/>
<polygon points="25.94,17.73 22.63,21.04 17.97,21.04 14.66,17.73 14.66,13.07 17.97,9.76 22.63,9.76 25.94,13.07" fill="#b2b2b5"/>
<circle cx="20.3" cy="15.4" r="3.8" fill="#bfbfc2"/>
<rect x="26.4" y="13" width="3.2" height="7.4" rx="1.1" fill="#141415"/>
<circle cx="28.4" cy="14.2" r="1.9" fill="#141415"/>
<rect x="30.6" y="0.8" width="3" height="7.4" rx="1.1" fill="#e01b1f"/>
<circle cx="32.8" cy="6.8" r="1.8" fill="#e01b1f"/>
</g>
<g transform="matrix(0.9600 0.1152 0 0.9880 571.20 474.80)">
<rect x="0" y="0" width="41.70" height="24.24" fill="url(#mpFace)"/>
<rect x="0" y="0" width="41.70" height="1.1" fill="#f6f6f7"/>
<rect x="0" y="23.24" width="41.70" height="1" fill="#6f6f73"/>
<path d="M4.6,6.3 L2.2,6.3 Q1,6.3 1,7.5 L1,16 Q1,17.2 2.2,17.2 L4.6,17.2" fill="none" stroke="#6c6c70" stroke-width="1.05"/>
<path d="M36.1,7.4 L38.3,7.4 Q39.5,7.4 39.5,8.6 L39.5,16.6 Q39.5,17.8 38.3,17.8 L36.1,17.8" fill="none" stroke="#6c6c70" stroke-width="1.05"/>
<polygon points="25.94,17.73 22.63,21.04 17.97,21.04 14.66,17.73 14.66,13.07 17.97,9.76 22.63,9.76 25.94,13.07" fill="#b2b2b5"/>
<circle cx="20.3" cy="15.4" r="3.8" fill="#bfbfc2"/>
<rect x="26.4" y="13" width="3.2" height="7.4" rx="1.1" fill="#141415"/>
<circle cx="28.4" cy="14.2" r="1.9" fill="#141415"/>
<rect x="30.6" y="0.8" width="3" height="7.4" rx="1.1" fill="#e01b1f"/>
<circle cx="32.8" cy="6.8" r="1.8" fill="#e01b1f"/>
</g>
<g transform="matrix(1.0000 0.1200 0 0.9880 611.20 335.90)">
<rect x="0" y="0" width="43.20" height="24.24" fill="url(#mpFace)"/>
<rect x="0" y="0" width="43.20" height="1.1" fill="#f6f6f7"/>
<rect x="0" y="23.24" width="43.20" height="1" fill="#6f6f73"/>
<path d="M4.6,6.3 L2.2,6.3 Q1,6.3 1,7.5 L1,16 Q1,17.2 2.2,17.2 L4.6,17.2" fill="none" stroke="#6c6c70" stroke-width="1.05"/>
<path d="M37.6,7.4 L39.8,7.4 Q41.0,7.4 41.0,8.6 L41.0,16.6 Q41.0,17.8 39.8,17.8 L37.6,17.8" fill="none" stroke="#6c6c70" stroke-width="1.05"/>
<polygon points="26.84,17.73 23.53,21.04 18.87,21.04 15.56,17.73 15.56,13.07 18.87,9.76 23.53,9.76 26.84,13.07" fill="#b2b2b5"/>
<circle cx="21.2" cy="15.4" r="3.8" fill="#bfbfc2"/>
<rect x="7.4" y="7" width="3.9" height="7" fill="#9c9cd6"/>
<rect x="26" y="8.6" width="3.2" height="8.4" rx="1.1" fill="#141415"/>
<circle cx="28.6" cy="15.6" r="1.9" fill="#141415"/>
<rect x="31.6" y="3.4" width="3" height="8.6" rx="1.2" fill="#e01b1f"/>
<circle cx="33.4" cy="5" r="1.9" fill="#e01b1f"/>
</g>
<g transform="matrix(1.0000 0.1200 0 0.9880 611.20 359.85)">
<rect x="0" y="0" width="43.20" height="24.24" fill="url(#mpFace)"/>
<rect x="0" y="0" width="43.20" height="1.1" fill="#f6f6f7"/>
<rect x="0" y="23.24" width="43.20" height="1" fill="#6f6f73"/>
<path d="M4.6,6.3 L2.2,6.3 Q1,6.3 1,7.5 L1,16 Q1,17.2 2.2,17.2 L4.6,17.2" fill="none" stroke="#6c6c70" stroke-width="1.05"/>
<path d="M37.6,7.4 L39.8,7.4 Q41.0,7.4 41.0,8.6 L41.0,16.6 Q41.0,17.8 39.8,17.8 L37.6,17.8" fill="none" stroke="#6c6c70" stroke-width="1.05"/>
<polygon points="26.84,17.73 23.53,21.04 18.87,21.04 15.56,17.73 15.56,13.07 18.87,9.76 23.53,9.76 26.84,13.07" fill="#b2b2b5"/>
<circle cx="21.2" cy="15.4" r="3.8" fill="#bfbfc2"/>
<rect x="26" y="8.6" width="3.2" height="8.4" rx="1.1" fill="#141415"/>
<circle cx="28.6" cy="15.6" r="1.9" fill="#141415"/>
<rect x="31.6" y="3.4" width="3" height="8.6" rx="1.2" fill="#e01b1f"/>
<circle cx="33.4" cy="5" r="1.9" fill="#e01b1f"/>
</g>
<g transform="matrix(1.0000 0.1200 0 0.9880 611.20 383.80)">
<rect x="0" y="0" width="43.20" height="24.24" fill="url(#mpFace)"/>
<rect x="0" y="0" width="43.20" height="1.1" fill="#f6f6f7"/>
<rect x="0" y="23.24" width="43.20" height="1" fill="#6f6f73"/>
<path d="M4.6,6.3 L2.2,6.3 Q1,6.3 1,7.5 L1,16 Q1,17.2 2.2,17.2 L4.6,17.2" fill="none" stroke="#6c6c70" stroke-width="1.05"/>
<path d="M37.6,7.4 L39.8,7.4 Q41.0,7.4 41.0,8.6 L41.0,16.6 Q41.0,17.8 39.8,17.8 L37.6,17.8" fill="none" stroke="#6c6c70" stroke-width="1.05"/>
<polygon points="26.84,17.73 23.53,21.04 18.87,21.04 15.56,17.73 15.56,13.07 18.87,9.76 23.53,9.76 26.84,13.07" fill="#b2b2b5"/>
<circle cx="21.2" cy="15.4" r="3.8" fill="#bfbfc2"/>
<rect x="26" y="8.6" width="3.2" height="8.4" rx="1.1" fill="#141415"/>
<circle cx="28.6" cy="15.6" r="1.9" fill="#141415"/>
<rect x="31.6" y="3.4" width="3" height="8.6" rx="1.2" fill="#e01b1f"/>
<circle cx="33.4" cy="5" r="1.9" fill="#e01b1f"/>
</g>
<g transform="matrix(1.0000 0.1200 0 0.9880 611.20 407.75)">
<rect x="0" y="0" width="43.20" height="24.24" fill="url(#mpFace)"/>
<rect x="0" y="0" width="43.20" height="1.1" fill="#f6f6f7"/>
<rect x="0" y="23.24" width="43.20" height="1" fill="#6f6f73"/>
<path d="M4.6,6.3 L2.2,6.3 Q1,6.3 1,7.5 L1,16 Q1,17.2 2.2,17.2 L4.6,17.2" fill="none" stroke="#6c6c70" stroke-width="1.05"/>
<path d="M37.6,7.4 L39.8,7.4 Q41.0,7.4 41.0,8.6 L41.0,16.6 Q41.0,17.8 39.8,17.8 L37.6,17.8" fill="none" stroke="#6c6c70" stroke-width="1.05"/>
<polygon points="26.84,17.73 23.53,21.04 18.87,21.04 15.56,17.73 15.56,13.07 18.87,9.76 23.53,9.76 26.84,13.07" fill="#b2b2b5"/>
<circle cx="21.2" cy="15.4" r="3.8" fill="#bfbfc2"/>
<rect x="26" y="8.6" width="3.2" height="8.4" rx="1.1" fill="#141415"/>
<circle cx="28.6" cy="15.6" r="1.9" fill="#141415"/>
<rect x="31.6" y="3.4" width="3" height="8.6" rx="1.2" fill="#e01b1f"/>
<circle cx="33.4" cy="5" r="1.9" fill="#e01b1f"/>
</g>
<g transform="matrix(1.0000 0.1200 0 0.9880 611.20 431.70)">
<rect x="0" y="0" width="43.20" height="24.24" fill="url(#mpFace)"/>
<rect x="0" y="0" width="43.20" height="1.1" fill="#f6f6f7"/>
<rect x="0" y="23.24" width="43.20" height="1" fill="#6f6f73"/>
<path d="M4.6,6.3 L2.2,6.3 Q1,6.3 1,7.5 L1,16 Q1,17.2 2.2,17.2 L4.6,17.2" fill="none" stroke="#6c6c70" stroke-width="1.05"/>
<path d="M37.6,7.4 L39.8,7.4 Q41.0,7.4 41.0,8.6 L41.0,16.6 Q41.0,17.8 39.8,17.8 L37.6,17.8" fill="none" stroke="#6c6c70" stroke-width="1.05"/>
<polygon points="26.84,17.73 23.53,21.04 18.87,21.04 15.56,17.73 15.56,13.07 18.87,9.76 23.53,9.76 26.84,13.07" fill="#b2b2b5"/>
<circle cx="21.2" cy="15.4" r="3.8" fill="#bfbfc2"/>
<rect x="26" y="8.6" width="3.2" height="8.4" rx="1.1" fill="#141415"/>
<circle cx="28.6" cy="15.6" r="1.9" fill="#141415"/>
<rect x="31.6" y="3.4" width="3" height="8.6" rx="1.2" fill="#e01b1f"/>
<circle cx="33.4" cy="5" r="1.9" fill="#e01b1f"/>
</g>
<g transform="matrix(1.0000 0.1200 0 0.9880 611.20 455.65)">
<rect x="0" y="0" width="43.20" height="24.24" fill="url(#mpFace)"/>
<rect x="0" y="0" width="43.20" height="1.1" fill="#f6f6f7"/>
<rect x="0" y="23.24" width="43.20" height="1" fill="#6f6f73"/>
<path d="M4.6,6.3 L2.2,6.3 Q1,6.3 1,7.5 L1,16 Q1,17.2 2.2,17.2 L4.6,17.2" fill="none" stroke="#6c6c70" stroke-width="1.05"/>
<path d="M37.6,7.4 L39.8,7.4 Q41.0,7.4 41.0,8.6 L41.0,16.6 Q41.0,17.8 39.8,17.8 L37.6,17.8" fill="none" stroke="#6c6c70" stroke-width="1.05"/>
<polygon points="26.84,17.73 23.53,21.04 18.87,21.04 15.56,17.73 15.56,13.07 18.87,9.76 23.53,9.76 26.84,13.07" fill="#b2b2b5"/>
<circle cx="21.2" cy="15.4" r="3.8" fill="#bfbfc2"/>
<rect x="26" y="8.6" width="3.2" height="8.4" rx="1.1" fill="#141415"/>
<circle cx="28.6" cy="15.6" r="1.9" fill="#141415"/>
<rect x="31.6" y="3.4" width="3" height="8.6" rx="1.2" fill="#e01b1f"/>
<circle cx="33.4" cy="5" r="1.9" fill="#e01b1f"/>
</g>
<g transform="matrix(1.0000 0.1200 0 0.9880 611.20 479.60)">
<rect x="0" y="0" width="43.20" height="24.24" fill="url(#mpFace)"/>
<rect x="0" y="0" width="43.20" height="1.1" fill="#f6f6f7"/>
<rect x="0" y="23.24" width="43.20" height="1" fill="#6f6f73"/>
<rect x="6.0" y="3.2" width="4.2" height="1.9" rx="0.9" fill="#35d24a"/>
<rect x="11.5" y="3.8" width="4.2" height="1.9" rx="0.9" fill="#35d24a"/>
<rect x="6.0" y="8.0" width="4.2" height="1.9" rx="0.9" fill="#35d24a"/>
<rect x="11.5" y="8.6" width="4.2" height="1.9" rx="0.9" fill="#35d24a"/>
<rect x="8.5" y="13.0" width="4.2" height="1.9" rx="0.9" fill="#35d24a"/>
<rect x="17.5" y="8" width="5.2" height="9" fill="#8c8d90"/><rect x="18.6" y="9.6" width="3" height="5.4" fill="#c8c9cb"/>
<circle cx="26.0" cy="6.2" r="1.5" fill="#35d24a"/>
<circle cx="31.5" cy="6.6" r="1.5" fill="#35d24a"/>
<circle cx="26.0" cy="11.6" r="1.5" fill="#c9c9cb"/>
<circle cx="31.5" cy="12.0" r="1.5" fill="#e8e89a"/>
<rect x="5" y="17" width="3.6" height="6.8" rx="1" fill="#161616"/>
<rect x="12.6" y="17.4" width="3.4" height="7.8" rx="1" fill="#d81f22"/>
<rect x="23.5" y="18" width="2.8" height="7" rx="1" fill="#d98a78"/>
<rect x="30.5" y="18.4" width="2.8" height="7" rx="1" fill="#d98a78"/>
<path d="M1.2,8 L0.6,8 L0.6,17 L3,17" fill="none" stroke="#707074" stroke-width="0.9"/>
<path d="M37,9 L39.4,9 L39.4,18 L37,18" fill="none" stroke="#707074" stroke-width="0.9"/>
</g>
<path d="M611.2,335.9 L611.2,503.6" stroke="#e9eaec" stroke-width="2.2"/>
<path d="M610.0,335.9 L610.0,503.6" stroke="#c3c5c8" stroke-width="0.5"/>
<g transform="matrix(0.9600 0.1152 0 0.9880 571.20 331.10)">
<rect x="6.6" y="14.4" width="3.9" height="15.4" fill="#9c9cd6"/>
<rect x="5.8" y="12.9" width="5.4" height="1.7" fill="#56b86a"/>
<rect x="5.8" y="5.4" width="5.4" height="1.7" fill="#56b86a"/>
<path d="M28,20.2 Q28,21.8 29.6,21.8 L30.8,21.8 Q32.2,21.8 32.2,23.2 L32.2,25.4" fill="none" stroke="#e2ab7c" stroke-width="1.2"/>
</g>
<g transform="matrix(0.9600 0.1152 0 0.9880 571.20 355.05)">
<rect x="6.6" y="14.4" width="3.9" height="15.4" fill="#9c9cd6"/>
<rect x="5.8" y="12.9" width="5.4" height="1.7" fill="#56b86a"/>
<rect x="5.8" y="5.4" width="5.4" height="1.7" fill="#56b86a"/>
<path d="M28,20.2 Q28,21.8 29.6,21.8 L30.8,21.8 Q32.2,21.8 32.2,23.2 L32.2,25.4" fill="none" stroke="#e2ab7c" stroke-width="1.2"/>
</g>
<g transform="matrix(0.9600 0.1152 0 0.9880 571.20 379.00)">
<rect x="6.6" y="14.4" width="3.9" height="15.4" fill="#9c9cd6"/>
<rect x="5.8" y="12.9" width="5.4" height="1.7" fill="#56b86a"/>
<rect x="5.8" y="5.4" width="5.4" height="1.7" fill="#56b86a"/>
<path d="M28,20.2 Q28,21.8 29.6,21.8 L30.8,21.8 Q32.2,21.8 32.2,23.2 L32.2,25.4" fill="none" stroke="#e2ab7c" stroke-width="1.2"/>
</g>
<g transform="matrix(0.9600 0.1152 0 0.9880 571.20 402.95)">
<rect x="6.6" y="14.4" width="3.9" height="15.4" fill="#9c9cd6"/>
<rect x="5.8" y="12.9" width="5.4" height="1.7" fill="#56b86a"/>
<rect x="5.8" y="5.4" width="5.4" height="1.7" fill="#56b86a"/>
<path d="M28,20.2 Q28,21.8 29.6,21.8 L30.8,21.8 Q32.2,21.8 32.2,23.2 L32.2,25.4" fill="none" stroke="#e2ab7c" stroke-width="1.2"/>
</g>
<g transform="matrix(0.9600 0.1152 0 0.9880 571.20 426.90)">
<rect x="6.6" y="14.4" width="3.9" height="15.4" fill="#9c9cd6"/>
<rect x="5.8" y="12.9" width="5.4" height="1.7" fill="#56b86a"/>
<rect x="5.8" y="5.4" width="5.4" height="1.7" fill="#56b86a"/>
<path d="M28,20.2 Q28,21.8 29.6,21.8 L30.8,21.8 Q32.2,21.8 32.2,23.2 L32.2,25.4" fill="none" stroke="#e2ab7c" stroke-width="1.2"/>
</g>
<g transform="matrix(0.9600 0.1152 0 0.9880 571.20 450.85)">
<rect x="6.6" y="14.4" width="3.9" height="15.4" fill="#9c9cd6"/>
<rect x="5.8" y="12.9" width="5.4" height="1.7" fill="#56b86a"/>
<rect x="5.8" y="5.4" width="5.4" height="1.7" fill="#56b86a"/>
<path d="M28,20.2 Q28,21.8 29.6,21.8 L30.8,21.8 Q32.2,21.8 32.2,23.2 L32.2,25.4" fill="none" stroke="#e2ab7c" stroke-width="1.2"/>
</g>
<g transform="matrix(0.9600 0.1152 0 0.9880 571.20 474.80)">
<rect x="5.8" y="12.9" width="5.4" height="1.7" fill="#56b86a"/>
<rect x="5.8" y="5.4" width="5.4" height="1.7" fill="#56b86a"/>
</g>
<g transform="matrix(1.0000 0.1200 0 0.9880 611.20 335.90)">
<rect x="7.4" y="14.4" width="3.9" height="15.4" fill="#9c9cd6"/>
<rect x="6.6" y="12.9" width="5.4" height="1.7" fill="#56b86a"/>
<rect x="6.6" y="5.4" width="5.4" height="1.7" fill="#56b86a"/>
<path d="M32.9,11.8 L32.9,19 Q32.9,20.6 31.2,21.4 L29.6,22.2 Q28,23 28,24.6 L28,33.0" fill="none" stroke="#e2ab7c" stroke-width="1.2"/>
</g>
<g transform="matrix(1.0000 0.1200 0 0.9880 611.20 359.85)">
<rect x="7.4" y="14.4" width="3.9" height="15.4" fill="#9c9cd6"/>
<rect x="6.6" y="12.9" width="5.4" height="1.7" fill="#56b86a"/>
<rect x="6.6" y="5.4" width="5.4" height="1.7" fill="#56b86a"/>
<path d="M32.9,11.8 L32.9,19 Q32.9,20.6 31.2,21.4 L29.6,22.2 Q28,23 28,24.6 L28,33.0" fill="none" stroke="#e2ab7c" stroke-width="1.2"/>
</g>
<g transform="matrix(1.0000 0.1200 0 0.9880 611.20 383.80)">
<rect x="7.4" y="14.4" width="3.9" height="15.4" fill="#9c9cd6"/>
<rect x="6.6" y="12.9" width="5.4" height="1.7" fill="#56b86a"/>
<rect x="6.6" y="5.4" width="5.4" height="1.7" fill="#56b86a"/>
<path d="M32.9,11.8 L32.9,19 Q32.9,20.6 31.2,21.4 L29.6,22.2 Q28,23 28,24.6 L28,33.0" fill="none" stroke="#e2ab7c" stroke-width="1.2"/>
</g>
<g transform="matrix(1.0000 0.1200 0 0.9880 611.20 407.75)">
<rect x="7.4" y="14.4" width="3.9" height="15.4" fill="#9c9cd6"/>
<rect x="6.6" y="12.9" width="5.4" height="1.7" fill="#56b86a"/>
<rect x="6.6" y="5.4" width="5.4" height="1.7" fill="#56b86a"/>
<path d="M32.9,11.8 L32.9,19 Q32.9,20.6 31.2,21.4 L29.6,22.2 Q28,23 28,24.6 L28,33.0" fill="none" stroke="#e2ab7c" stroke-width="1.2"/>
</g>
<g transform="matrix(1.0000 0.1200 0 0.9880 611.20 431.70)">
<rect x="7.4" y="14.4" width="3.9" height="15.4" fill="#9c9cd6"/>
<rect x="6.6" y="12.9" width="5.4" height="1.7" fill="#56b86a"/>
<rect x="6.6" y="5.4" width="5.4" height="1.7" fill="#56b86a"/>
<path d="M32.9,11.8 L32.9,19 Q32.9,20.6 31.2,21.4 L29.6,22.2 Q28,23 28,24.6 L28,33.0" fill="none" stroke="#e2ab7c" stroke-width="1.2"/>
</g>
<g transform="matrix(1.0000 0.1200 0 0.9880 611.20 455.65)">
<rect x="7.4" y="14.4" width="3.9" height="15.4" fill="#9c9cd6"/>
<rect x="6.6" y="12.9" width="5.4" height="1.7" fill="#56b86a"/>
<rect x="6.6" y="5.4" width="5.4" height="1.7" fill="#56b86a"/>
</g>
<g transform="matrix(1.0000 0.1200 0 0.9880 611.20 479.60)">
</g>
<path d="M577.6,344 L622.4,348.6" stroke="#9c9cd6" stroke-width="3.8" fill="none"/>
<path d="M607.6,340.2 L636.6,343.5 Q639.6,343.9 639.9,346.9" stroke="#e2ab7c" stroke-width="1.2" fill="none"/>
</g>
<path d="M597.4,500 L597.4,506.6 Q597.4,509.6 600.6,510 L616,511.8 Q619.2,512.2 619.2,509 L619.2,505" stroke="#dfa777" stroke-width="1.3" fill="none"/>
<path d="M626.2,506 L626.2,511.8 Q626.2,514.6 629.2,515 L643.4,516.6 Q646.7,517 646.7,514 L646.7,480 Q646.7,477.6 645.4,476.4 Q644.1,475.2 644.1,473 L644.1,471" stroke="#dfa777" stroke-width="1.3" fill="none"/>
<path d="M549.4,310.8 L601.5,293.1 L706.7,305.6 L655.6,323.3 Z" fill="url(#cabTop)"/>
<path d="M549.4,310.8 L655.6,323.3 L655.6,330.6 L549.4,318.1 Z" fill="#f4f5f6"/>
<path d="M655.6,323.3 L706.7,305.6 L706.7,312 L655.6,330.6 Z" fill="#d3d5d8"/>
<path d="M549.4,318.1 L655.6,330.6 L706.7,312" stroke="#c5c6c9" stroke-width="0.7" fill="none"/>
<path d="M467.3,334.8 L554.8,321.3 L554,505.4 L469.6,524.3 Z" fill="url(#cabDoor)"/>
<path d="M467.3,334.8 L473.6,333.8 L475.6,523 L469.6,524.3 Z" fill="#c6c9ce"/>
<path d="M473.6,333.8 L476.4,333.4 L478.2,522.4 L475.6,523 Z" fill="#f2f3f4"/>
<path d="M476.4,333.4 L554.8,321.3 L554.8,323.4 L476.4,335.8 Z" fill="#d2d3d6"/>
<path d="M481.6,340.4 L548.4,330 L548,500.4 L483,515.6 Z" fill="none" stroke="#c9ccd1" stroke-width="0.9"/>
<path d="M487.6,343.4 L536.6,335.8 L536.4,471.6 L489.4,480.4 Z" fill="#c3c6cb"/>
<path d="M490.4,345.6 L536.6,338.4 L536.4,469 L491.6,477 Z" fill="#e0e2e6"/>
<path d="M495.5,335.8 L538.7,330.2 L538.7,340.2 L496.5,345.8 Z" fill="#f3f4f5" stroke="#c3c5c9" stroke-width="0.6"/>
<path d="M500.6,337 L534.4,332.6 L534.4,337.6 L500.6,342.2 Z" fill="#d9dbdd"/>
<path d="M493,353.6 L536.6,346.6 M493,379.6 L536.6,373.4" stroke="#c5c8cc" stroke-width="0.8"/>
<path d="M495.5,380.6 L534.5,375.4 L534.5,387.6 L495.5,393 Z" fill="#e9ebee" stroke="#c9ccd0" stroke-width="0.5"/>
<path d="M522.4,365.6 L528.6,364.6 L528.6,370.6 L522.4,371.6 Z" fill="#f8f8f8" stroke="#8a8b8e" stroke-width="0.6"/><rect x="524" y="366.8" width="3" height="2.4" fill="#333"/>
<path d="M498.5,394.6 L530.9,391.6 L530.9,429.5 L499,433.7 Z" fill="#8f9195"/>
<path d="M498.5,397.6 L514.6,396 L514.6,424.6 L499,426.4 Z" fill="url(#meshL)"/>
<path d="M514.6,393 L530.9,391.6 L530.9,429.5 L514.6,431.6 Z" fill="url(#meshD)"/>
<rect x="552" y="333" width="2.6" height="6.4" rx="1" fill="#f4f4f4" stroke="#b9babd" stroke-width="0.5"/>
<rect x="552" y="385" width="2.6" height="6.4" rx="1" fill="#f4f4f4" stroke="#b9babd" stroke-width="0.5"/>
<rect x="552" y="436" width="2.6" height="6.4" rx="1" fill="#f4f4f4" stroke="#b9babd" stroke-width="0.5"/>
<rect x="552" y="486" width="2.6" height="6.4" rx="1" fill="#f4f4f4" stroke="#b9babd" stroke-width="0.5"/>
<rect x="468.6" y="341" width="4.6" height="3.4" fill="#f6f6f6" stroke="#c0c1c4" stroke-width="0.4"/>
<rect x="470.4" y="421" width="3.6" height="3.4" fill="#f6f6f6" stroke="#c0c1c4" stroke-width="0.4"/>
<rect x="471.2" y="512" width="4.6" height="3.4" fill="#f6f6f6" stroke="#c0c1c4" stroke-width="0.4"/>
<path d="M520,508.6 L541.6,503.6 L543,505.6 L522.6,510.6 Z" fill="#f4f5f5" stroke="#c5c6c9" stroke-width="0.5"/>
</g>
<!-- station.svg -->
<g>
<path d="M36.9,497.6 L71.3,507.6 L71.3,513.2 L36.9,503 Z" fill="#f4f4f5"/>
<path d="M41,499.6 L46.6,501.2 L46.6,504 L41,502.4 Z M51.6,502.6 L61.2,505.4 L61.2,510 L51.6,507.2 Z" fill="#8b8c89"/>
<path d="M71.3,507.6 L349.8,467.4 L349.8,472.4 L71.3,513.2 Z" fill="#f6f6f7"/>
<path d="M122.8,501.0 L134.3,499.3 L134.3,502.3 L122.8,504.0 Z" fill="#8f9093"/>
<circle cx="131.3" cy="503.4" r="0.9" fill="#333"/>
<path d="M181.9,492.4 L193.4,490.8 L193.4,493.8 L181.9,495.4 Z" fill="#8f9093"/>
<circle cx="190.4" cy="494.9" r="0.9" fill="#333"/>
<path d="M237.3,484.4 L248.8,482.8 L248.8,485.8 L237.3,487.4 Z" fill="#8f9093"/>
<circle cx="245.8" cy="486.9" r="0.9" fill="#333"/>
<path d="M290.9,476.7 L302.4,475.1 L302.4,478.1 L290.9,479.7 Z" fill="#8f9093"/>
<circle cx="299.4" cy="479.2" r="0.9" fill="#333"/>
<path d="M339.8,469.7 L351.3,468.0 L351.3,471.0 L339.8,472.7 Z" fill="#8f9093"/>
<circle cx="348.3" cy="472.1" r="0.9" fill="#333"/>
<circle cx="73.5" cy="512" r="0.9" fill="#333"/>
<path d="M34.4,379 L71.3,387 L71.3,508 L36.9,498 Z" fill="url(#stSide)"/>
<path d="M71.3,387 L349.8,361.6 L349.8,467.8 L71.3,508 Z" fill="url(#stFront)"/>
<path d="M32.7,375.2 L313.4,351.4 L350.4,356.3 L70.3,382.2 Z" fill="url(#stTop)"/>
<path d="M32.7,375.2 L70.3,382.2 L70.3,387 L32.7,379.6 Z" fill="#e6e6e8"/>
<path d="M70.3,382.2 L350.4,356.3 L350.4,361.5 L70.3,387 Z" fill="#fafafa"/>
<path d="M32.7,379.8 L70.3,387.2 L350.4,361.7" stroke="#b9babc" stroke-width="0.7" fill="none"/>
<path d="M132.8,383.4 L132.8,498.9" stroke="#c3c4c7" stroke-width="1"/>
<path d="M133.8,383.3 L133.8,498.8" stroke="#f8f8f9" stroke-width="0.8"/>
<path d="M191.9,378.0 L191.9,490.4" stroke="#c3c4c7" stroke-width="1"/>
<path d="M192.9,377.9 L192.9,490.3" stroke="#f8f8f9" stroke-width="0.8"/>
<path d="M247.3,373.0 L247.3,482.4" stroke="#c3c4c7" stroke-width="1"/>
<path d="M248.3,372.9 L248.3,482.3" stroke="#f8f8f9" stroke-width="0.8"/>
<path d="M300.9,368.1 L300.9,474.7" stroke="#c3c4c7" stroke-width="1"/>
<path d="M301.9,368.0 L301.9,474.5" stroke="#f8f8f9" stroke-width="0.8"/>
<path d="M71.3,387 L71.3,504.6" stroke="#d6d7d9" stroke-width="0.8"/>
<path d="M86.3,390.6 L119.4,386.9 L120.4,480.5 L86.3,486.3 Z" fill="#c4c4c8" filter="url(#stBlur)" opacity="0.85"/>
<path d="M86.9,394.8 L88.5,393.6 L88.5,483.3 L86.9,483.9 Z" fill="#d2d3d6" opacity="0.7"/>
<path d="M88.5,481.5 L122.4,477.0 L121.4,478.8 L87.5,483.9 Z" fill="#d9dadc" opacity="0.8"/>
<path d="M88.5,393.6 L95.6,391.7 L95.6,480.6 L88.5,482.5 Z" fill="url(#acSide)"/>
<path d="M88.5,393.6 L113.2,388.9 L122.4,389.2 L95.6,393.4 Z" fill="#fbfbfb"/>
<path d="M95.6,392.5 L122.4,390.0 L122.4,477.0 L95.6,480.6 Z" fill="#fcfcfc" stroke="#d9dadd" stroke-width="0.5"/>
<path d="M99.0,407.1 L120.9,404.9 L120.9,449.4 L99.0,452.1 Z" fill="url(#stMesh)" />
<path d="M99.0,407.1 L120.9,404.9 L120.9,418.6 L99.0,421.0 Z" fill="#ffffff" opacity="0.16"/>
<path d="M99.0,455.3 L120.9,452.6 L120.9,473.3 L99.0,476.2 Z" fill="url(#stMesh2)" />
<path d="M127.1,441.3 L127.1,451.3 M127.1,446.6 L128.7,446.6 M127.1,451.3 L128.7,451.3" stroke="#a9aaad" stroke-width="0.7"/>
<circle cx="81.5" cy="496.0" r="5.3" fill="#fdfdfd" stroke="#2f7fd6" stroke-width="1.5"/>
<text x="81.5" y="497.1" font-family="'Liberation Sans',sans-serif" font-size="3.3" font-weight="700" fill="#2f7fd6" text-anchor="middle" transform="rotate(-6 81.5 496.0)">KHZH</text>
<text x="90.5" y="494.4" font-family="'Liberation Sans',sans-serif" font-size="3.50" font-weight="700" fill="#55575c" transform="rotate(-7.3 90.5 494.4)" textLength="39.0" lengthAdjust="spacingAndGlyphs">ke heng Lithium Battery</text>
<text x="90.5" y="498.6" font-family="'Liberation Sans',sans-serif" font-size="2.50" font-weight="700" fill="#6a6c70" transform="rotate(-7.3 90.5 498.6)" textLength="39.0" lengthAdjust="spacingAndGlyphs">www.keheng-battery.com</text>
<path d="M147.8,384.9 L179.3,381.3 L180.3,472.4 L147.8,477.9 Z" fill="#c4c4c8" filter="url(#stBlur)" opacity="0.85"/>
<path d="M148.4,388.9 L150.0,387.8 L150.0,475.1 L148.4,475.6 Z" fill="#d2d3d6" opacity="0.7"/>
<path d="M150.0,473.3 L182.3,469.0 L181.3,470.7 L149.0,475.6 Z" fill="#d9dadc" opacity="0.8"/>
<path d="M150.0,387.8 L156.8,386.0 L156.8,472.4 L150.0,474.2 Z" fill="url(#acSide)"/>
<path d="M150.0,387.8 L173.6,383.3 L182.3,383.6 L156.8,387.6 Z" fill="#fbfbfb"/>
<path d="M156.8,386.8 L182.3,384.4 L182.3,469.0 L156.8,472.4 Z" fill="#fcfcfc" stroke="#d9dadd" stroke-width="0.5"/>
<path d="M160.0,401.0 L180.8,398.9 L180.8,442.2 L160.0,444.7 Z" fill="url(#stMesh)" />
<path d="M160.0,401.0 L180.8,398.9 L180.8,412.2 L160.0,414.4 Z" fill="#ffffff" opacity="0.16"/>
<path d="M160.0,447.8 L180.8,445.3 L180.8,465.4 L160.0,468.2 Z" fill="url(#stMesh2)" />
<path d="M186.6,434.3 L186.6,444.0 M186.6,439.4 L188.2,439.4 M186.6,444.0 L188.2,444.0" stroke="#a9aaad" stroke-width="0.7"/>
<circle cx="143.7" cy="487.3" r="5.0" fill="#fdfdfd" stroke="#2f7fd6" stroke-width="1.5"/>
<text x="143.7" y="488.4" font-family="'Liberation Sans',sans-serif" font-size="3.3" font-weight="700" fill="#2f7fd6" text-anchor="middle" transform="rotate(-6 143.7 487.3)">KHZH</text>
<text x="152.3" y="485.7" font-family="'Liberation Sans',sans-serif" font-size="3.33" font-weight="700" fill="#55575c" transform="rotate(-7.3 152.3 485.7)" textLength="37.1" lengthAdjust="spacingAndGlyphs">ke heng Lithium Battery</text>
<text x="152.3" y="489.7" font-family="'Liberation Sans',sans-serif" font-size="2.38" font-weight="700" fill="#6a6c70" transform="rotate(-7.3 152.3 489.7)" textLength="37.1" lengthAdjust="spacingAndGlyphs">www.keheng-battery.com</text>
<path d="M205.8,379.5 L235.7,376.1 L236.7,464.8 L205.8,470.1 Z" fill="#c4c4c8" filter="url(#stBlur)" opacity="0.85"/>
<path d="M206.4,383.4 L208.0,382.3 L208.0,467.3 L206.4,467.8 Z" fill="#d2d3d6" opacity="0.7"/>
<path d="M208.0,465.6 L238.7,461.5 L237.7,463.1 L207.0,467.8 Z" fill="#d9dadc" opacity="0.8"/>
<path d="M208.0,382.3 L214.4,380.6 L214.4,464.7 L208.0,466.5 Z" fill="url(#acSide)"/>
<path d="M208.0,382.3 L230.4,378.0 L238.7,378.3 L214.4,382.1 Z" fill="#fbfbfb"/>
<path d="M214.4,381.4 L238.7,379.1 L238.7,461.5 L214.4,464.7 Z" fill="#fcfcfc" stroke="#d9dadd" stroke-width="0.5"/>
<path d="M217.5,395.2 L237.3,393.2 L237.3,435.4 L217.5,437.7 Z" fill="url(#stMesh)" />
<path d="M217.5,395.2 L237.3,393.2 L237.3,406.2 L217.5,408.3 Z" fill="#ffffff" opacity="0.16"/>
<path d="M217.5,440.8 L237.3,438.3 L237.3,458.0 L217.5,460.6 Z" fill="url(#stMesh2)" />
<path d="M242.6,427.7 L242.6,437.2 M242.6,432.7 L244.2,432.7 M242.6,437.2 L244.2,437.2" stroke="#a9aaad" stroke-width="0.7"/>
<circle cx="201.1" cy="479.2" r="4.8" fill="#fdfdfd" stroke="#2f7fd6" stroke-width="1.5"/>
<text x="201.1" y="480.3" font-family="'Liberation Sans',sans-serif" font-size="3.3" font-weight="700" fill="#2f7fd6" text-anchor="middle" transform="rotate(-6 201.1 479.2)">KHZH</text>
<text x="209.3" y="477.8" font-family="'Liberation Sans',sans-serif" font-size="3.17" font-weight="700" fill="#55575c" transform="rotate(-7.3 209.3 477.8)" textLength="35.3" lengthAdjust="spacingAndGlyphs">ke heng Lithium Battery</text>
<text x="209.3" y="481.6" font-family="'Liberation Sans',sans-serif" font-size="2.26" font-weight="700" fill="#6a6c70" transform="rotate(-7.3 209.3 481.6)" textLength="35.3" lengthAdjust="spacingAndGlyphs">www.keheng-battery.com</text>
<path d="M261.1,374.3 L289.7,371.1 L290.7,457.5 L261.1,462.6 Z" fill="#c4c4c8" filter="url(#stBlur)" opacity="0.85"/>
<path d="M261.7,378.2 L263.3,377.1 L263.3,459.8 L261.7,460.4 Z" fill="#d2d3d6" opacity="0.7"/>
<path d="M263.3,458.2 L292.7,454.2 L291.7,455.9 L262.3,460.4 Z" fill="#d9dadc" opacity="0.8"/>
<path d="M263.3,377.1 L269.5,375.4 L269.5,457.4 L263.3,459.1 Z" fill="url(#acSide)"/>
<path d="M263.3,377.1 L284.8,372.9 L292.7,373.2 L269.5,376.9 Z" fill="#fbfbfb"/>
<path d="M269.5,376.2 L292.7,374.0 L292.7,454.2 L269.5,457.4 Z" fill="#fcfcfc" stroke="#d9dadd" stroke-width="0.5"/>
<path d="M272.4,389.6 L291.4,387.7 L291.4,428.8 L272.4,431.1 Z" fill="url(#stMesh)" />
<path d="M272.4,389.6 L291.4,387.7 L291.4,400.4 L272.4,402.4 Z" fill="#ffffff" opacity="0.16"/>
<path d="M272.4,434.0 L291.4,431.7 L291.4,450.9 L272.4,453.4 Z" fill="url(#stMesh2)" />
<path d="M296.4,421.4 L296.4,430.6 M296.4,426.3 L298.0,426.3 M296.4,430.6 L298.0,430.6" stroke="#a9aaad" stroke-width="0.7"/>
<circle cx="255.8" cy="471.6" r="4.6" fill="#fdfdfd" stroke="#2f7fd6" stroke-width="1.5"/>
<text x="255.8" y="472.7" font-family="'Liberation Sans',sans-serif" font-size="3.3" font-weight="700" fill="#2f7fd6" text-anchor="middle" transform="rotate(-6 255.8 471.6)">KHZH</text>
<text x="263.6" y="470.2" font-family="'Liberation Sans',sans-serif" font-size="3.04" font-weight="700" fill="#55575c" transform="rotate(-7.3 263.6 470.2)" textLength="33.8" lengthAdjust="spacingAndGlyphs">ke heng Lithium Battery</text>
<text x="263.6" y="473.9" font-family="'Liberation Sans',sans-serif" font-size="2.17" font-weight="700" fill="#6a6c70" transform="rotate(-7.3 263.6 473.9)" textLength="33.8" lengthAdjust="spacingAndGlyphs">www.keheng-battery.com</text>
<path d="M313.4,369.5 L340.0,366.4 L341.0,450.7 L313.4,455.5 Z" fill="#c4c4c8" filter="url(#stBlur)" opacity="0.85"/>
<path d="M314.0,373.2 L315.6,372.2 L315.6,452.8 L314.0,453.3 Z" fill="#d2d3d6" opacity="0.7"/>
<path d="M315.6,451.2 L343.0,447.5 L342.0,449.1 L314.6,453.3 Z" fill="#d9dadc" opacity="0.8"/>
<path d="M315.6,372.2 L321.4,370.5 L321.4,450.4 L315.6,452.0 Z" fill="url(#acSide)"/>
<path d="M315.6,372.2 L335.6,368.2 L343.0,368.5 L321.4,372.0 Z" fill="#fbfbfb"/>
<path d="M321.4,371.3 L343.0,369.3 L343.0,447.5 L321.4,450.4 Z" fill="#fcfcfc" stroke="#d9dadd" stroke-width="0.5"/>
<path d="M324.1,384.4 L341.8,382.7 L341.8,422.7 L324.1,424.8 Z" fill="url(#stMesh)" />
<path d="M324.1,384.4 L341.8,382.7 L341.8,395.0 L324.1,396.9 Z" fill="#ffffff" opacity="0.16"/>
<path d="M324.1,427.7 L341.8,425.6 L341.8,444.2 L324.1,446.5 Z" fill="url(#stMesh2)" />
<path d="M346.1,415.6 L346.1,424.5 M346.1,420.3 L347.7,420.3 M346.1,424.5 L347.7,424.5" stroke="#a9aaad" stroke-width="0.7"/>
<circle cx="308.1" cy="464.3" r="4.3" fill="#fdfdfd" stroke="#2f7fd6" stroke-width="1.5"/>
<text x="308.1" y="465.4" font-family="'Liberation Sans',sans-serif" font-size="3.3" font-weight="700" fill="#2f7fd6" text-anchor="middle" transform="rotate(-6 308.1 464.3)">KHZH</text>
<text x="315.4" y="463.0" font-family="'Liberation Sans',sans-serif" font-size="2.83" font-weight="700" fill="#55575c" transform="rotate(-7.3 315.4 463.0)" textLength="31.5" lengthAdjust="spacingAndGlyphs">ke heng Lithium Battery</text>
<text x="315.4" y="466.4" font-family="'Liberation Sans',sans-serif" font-size="2.02" font-weight="700" fill="#6a6c70" transform="rotate(-7.3 315.4 466.4)" textLength="31.5" lengthAdjust="spacingAndGlyphs">www.keheng-battery.com</text>
<path d="M54.2,410.6 L43.6,436.2 L64.6,443.6 Z" fill="#fdfdfd" stroke="#dc3a3a" stroke-width="1.5" stroke-linejoin="round"/>
<path d="M53.6,418.6 L53.9,431.4" stroke="#dc3a3a" stroke-width="2.2" stroke-linecap="round"/><circle cx="54.1" cy="436.2" r="1.4" fill="#dc3a3a"/>
<text x="44.2" y="447.6" font-family="'Liberation Sans',sans-serif" font-size="2.6" fill="#6b6d70" transform="rotate(14 44.2 447.6)">High pressure danger,</text>
<text x="47.4" y="452.4" font-family="'Liberation Sans',sans-serif" font-size="2.6" fill="#6b6d70" transform="rotate(14 47.4 452.4)">do not approach</text>
</g>
</svg>
<div class="lb" style="left:89px;top:174.8px">Electrode material</div>
<div class="lb" style="left:362px;top:174.8px">Cell</div>
<div class="lb" style="left:618px;top:174.8px">Module</div>
<div class="lb" style="left:923.6px;top:174.8px">Battery pack</div>
<div class="lb" style="left:217.4px;top:546.7px">Energy storage<br>power station</div>
<div class="lb" style="left:622.4px;top:546.7px">High voltage<br>battery<br>energy system</div>
<div class="lb" style="left:924.3px;top:546.7px">Battery cluster</div>
</body></html>
